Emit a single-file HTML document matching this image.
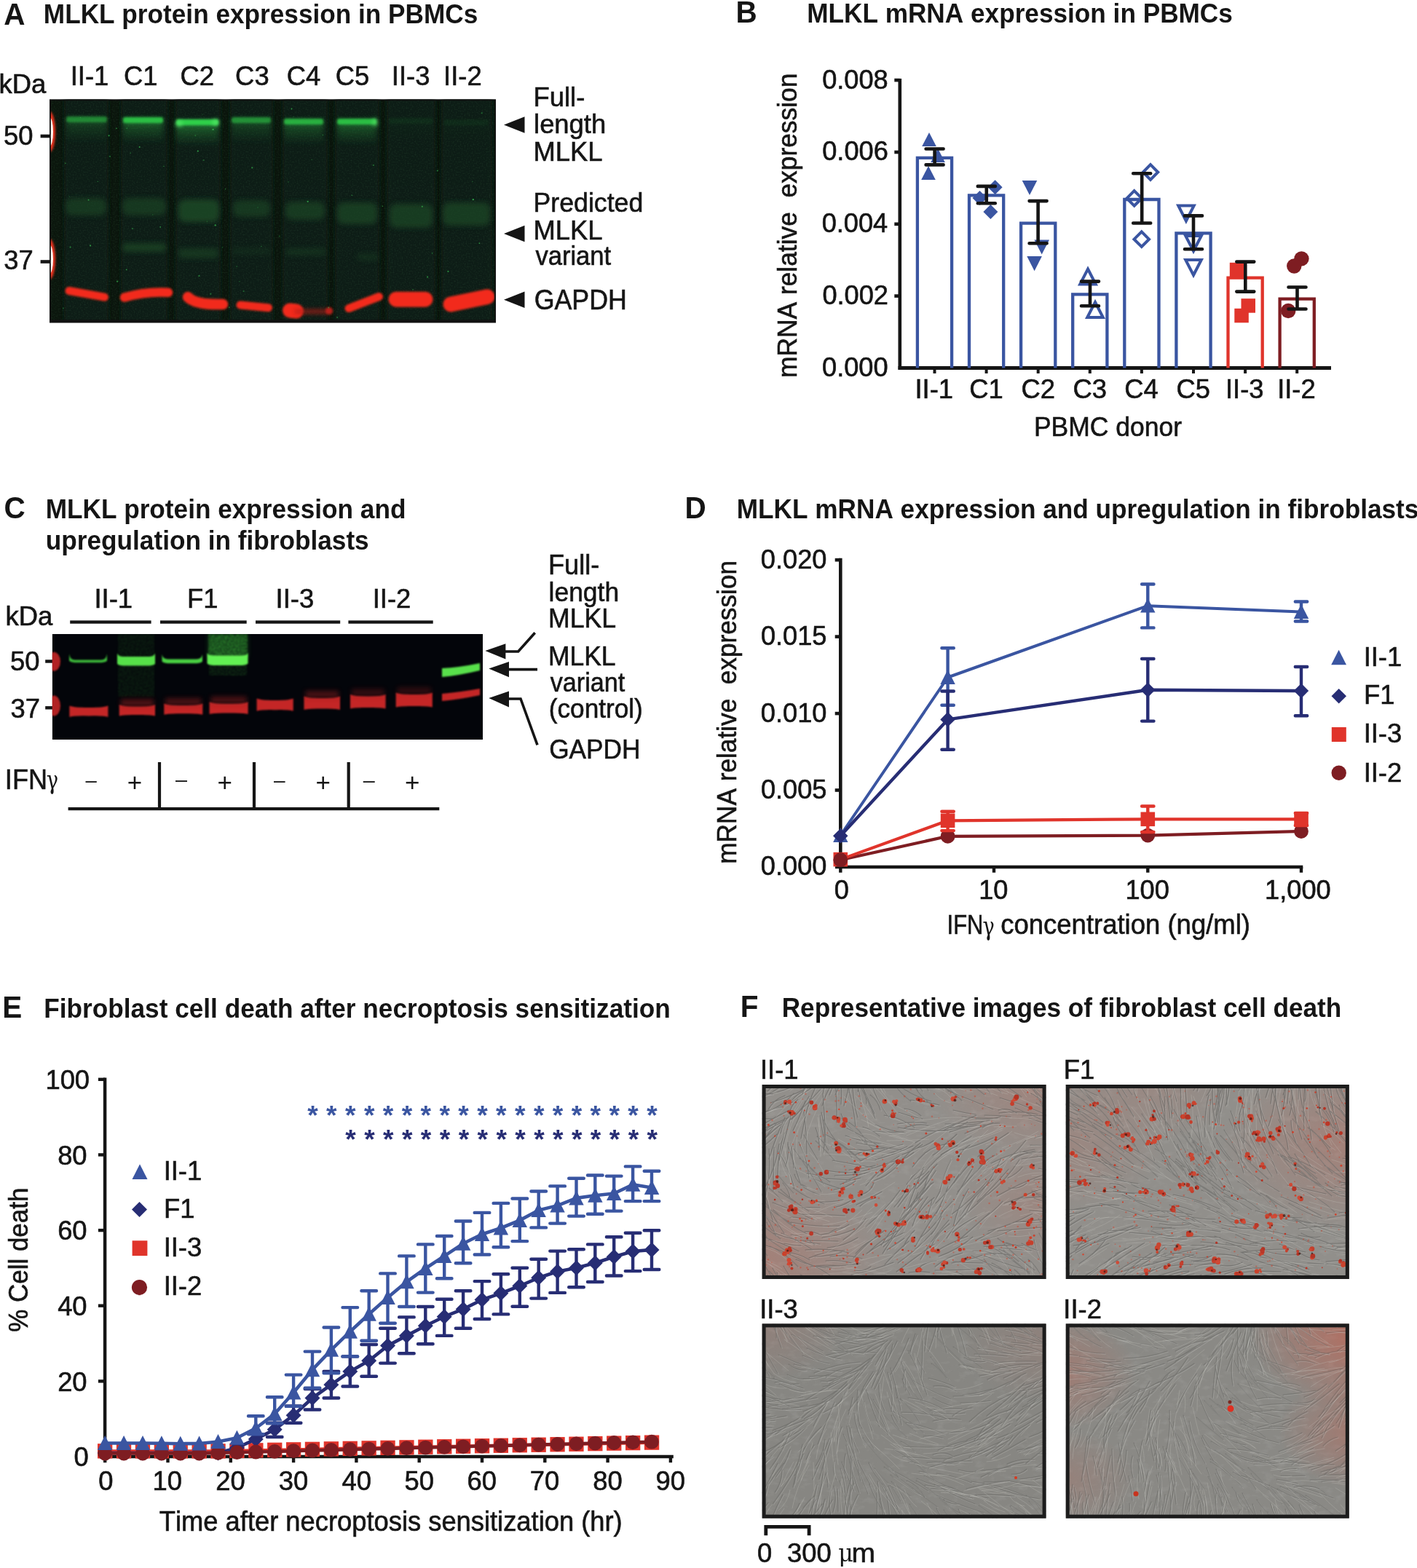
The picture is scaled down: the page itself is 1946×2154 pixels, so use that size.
<!DOCTYPE html>
<html><head><meta charset="utf-8"><title>MLKL figure</title>
<style>html,body{margin:0;padding:0;background:#fff;overflow:hidden}svg{display:block}text{font-kerning:none}</style>
</head><body>
<svg width="1946" height="2154" viewBox="0 0 1946 2154" font-family="'Liberation Sans', Arial, Helvetica, sans-serif"><defs>
<filter id="blurA" filterUnits="userSpaceOnUse" x="40" y="100" width="680" height="380"><feGaussianBlur stdDeviation="3.6"/></filter>
<filter id="blurA2" filterUnits="userSpaceOnUse" x="40" y="100" width="680" height="380"><feGaussianBlur stdDeviation="6"/></filter>
<filter id="blurA3" filterUnits="userSpaceOnUse" x="40" y="100" width="680" height="380"><feGaussianBlur stdDeviation="2.6"/></filter>
<filter id="blurR" filterUnits="userSpaceOnUse" x="40" y="100" width="680" height="380"><feGaussianBlur stdDeviation="1.4"/></filter>
<filter id="noiseA" x="0" y="0" width="100%" height="100%">
  <feTurbulence type="fractalNoise" baseFrequency="0.5" numOctaves="2" seed="3" result="n"/>
  <feColorMatrix in="n" type="matrix" values="0 0 0 0 0.07  0 0 0 0 0.2  0 0 0 0 0.09  0 0 0 0.9 -0.4" result="c"/>
  <feComposite in="c" in2="SourceGraphic" operator="in"/>
</filter>
<linearGradient id="gsmear" x1="0" y1="0" x2="0" y2="1"><stop offset="0" stop-color="#2fb446" stop-opacity="0.75"/><stop offset="0.3" stop-color="#2fb446" stop-opacity="0.35"/><stop offset="1" stop-color="#2fb446" stop-opacity="0"/></linearGradient>
<clipPath id="clipA"><rect x="68" y="136.5" width="613" height="306.5"/></clipPath>

<filter id="blurC" filterUnits="userSpaceOnUse" x="40" y="840" width="660" height="210"><feGaussianBlur stdDeviation="1.2"/></filter>
<filter id="blurC2" filterUnits="userSpaceOnUse" x="40" y="840" width="660" height="210"><feGaussianBlur stdDeviation="3"/></filter>
<filter id="speckC" filterUnits="userSpaceOnUse" x="40" y="840" width="660" height="210">
  <feTurbulence type="fractalNoise" baseFrequency="0.6" numOctaves="1" seed="5" result="n"/>
  <feColorMatrix in="n" type="matrix" values="0 0 0 0 0  0 0 0 0 0  0 0 0 0 0  2.2 0 0 0 -0.75" result="a"/>
  <feComposite in="SourceGraphic" in2="a" operator="in" result="s"/>
  <feGaussianBlur in="s" stdDeviation="0.9"/>
</filter>
<clipPath id="clipC"><rect x="71.7" y="871" width="591.3" height="145"/></clipPath>
<clipPath id="clipF1"><rect x="1046.6" y="1490.0" width="390.0" height="267.0"/></clipPath><filter id="texF1" filterUnits="userSpaceOnUse" x="1047" y="1490" width="390" height="267">
  <feTurbulence type="fractalNoise" baseFrequency="0.06 0.12" numOctaves="3" seed="11" result="n"/>
  <feColorMatrix in="n" type="matrix" values="0 0 0 0 0.5  0 0 0 0 0.5  0 0 0 0 0.49  1.4 0 0 0 -0.7" result="c"/>
  <feComposite in="c" in2="SourceGraphic" operator="in"/>
</filter><radialGradient id="tg1_0" cx="0.000" cy="0.900" r="0.450"><stop offset="0" stop-color="#d8553f" stop-opacity="0.25"/><stop offset="1" stop-color="#d8553f" stop-opacity="0"/></radialGradient><radialGradient id="tg1_1" cx="1.000" cy="0.000" r="0.400"><stop offset="0" stop-color="#d8553f" stop-opacity="0.20"/><stop offset="1" stop-color="#d8553f" stop-opacity="0"/></radialGradient><radialGradient id="tg1_2" cx="1.000" cy="0.600" r="0.300"><stop offset="0" stop-color="#d8553f" stop-opacity="0.15"/><stop offset="1" stop-color="#d8553f" stop-opacity="0"/></radialGradient><clipPath id="clipF2"><rect x="1463.7" y="1490.0" width="389.1" height="267.0"/></clipPath><filter id="texF2" filterUnits="userSpaceOnUse" x="1464" y="1490" width="389" height="267">
  <feTurbulence type="fractalNoise" baseFrequency="0.06 0.12" numOctaves="3" seed="22" result="n"/>
  <feColorMatrix in="n" type="matrix" values="0 0 0 0 0.5  0 0 0 0 0.5  0 0 0 0 0.49  1.4 0 0 0 -0.7" result="c"/>
  <feComposite in="c" in2="SourceGraphic" operator="in"/>
</filter><radialGradient id="tg2_0" cx="1.000" cy="0.300" r="0.450"><stop offset="0" stop-color="#d8553f" stop-opacity="0.25"/><stop offset="1" stop-color="#d8553f" stop-opacity="0"/></radialGradient><radialGradient id="tg2_1" cx="0.000" cy="0.300" r="0.350"><stop offset="0" stop-color="#d8553f" stop-opacity="0.15"/><stop offset="1" stop-color="#d8553f" stop-opacity="0"/></radialGradient><radialGradient id="tg2_2" cx="0.300" cy="0.000" r="0.300"><stop offset="0" stop-color="#d8553f" stop-opacity="0.12"/><stop offset="1" stop-color="#d8553f" stop-opacity="0"/></radialGradient><clipPath id="clipF3"><rect x="1046.6" y="1818.4" width="390.0" height="267.3"/></clipPath><filter id="texF3" filterUnits="userSpaceOnUse" x="1047" y="1818" width="390" height="267">
  <feTurbulence type="fractalNoise" baseFrequency="0.06 0.12" numOctaves="3" seed="33" result="n"/>
  <feColorMatrix in="n" type="matrix" values="0 0 0 0 0.5  0 0 0 0 0.5  0 0 0 0 0.49  1.4 0 0 0 -0.7" result="c"/>
  <feComposite in="c" in2="SourceGraphic" operator="in"/>
</filter><radialGradient id="tg3_0" cx="0.000" cy="0.000" r="0.300"><stop offset="0" stop-color="#d8553f" stop-opacity="0.12"/><stop offset="1" stop-color="#d8553f" stop-opacity="0"/></radialGradient><radialGradient id="tg3_1" cx="1.000" cy="0.100" r="0.300"><stop offset="0" stop-color="#d8553f" stop-opacity="0.10"/><stop offset="1" stop-color="#d8553f" stop-opacity="0"/></radialGradient><clipPath id="clipF4"><rect x="1463.7" y="1818.4" width="389.1" height="267.3"/></clipPath><filter id="texF4" filterUnits="userSpaceOnUse" x="1464" y="1818" width="389" height="267">
  <feTurbulence type="fractalNoise" baseFrequency="0.06 0.12" numOctaves="3" seed="44" result="n"/>
  <feColorMatrix in="n" type="matrix" values="0 0 0 0 0.5  0 0 0 0 0.5  0 0 0 0 0.49  1.4 0 0 0 -0.7" result="c"/>
  <feComposite in="c" in2="SourceGraphic" operator="in"/>
</filter><radialGradient id="tg4_0" cx="1.050" cy="0.050" r="0.400"><stop offset="0" stop-color="#d8553f" stop-opacity="0.55"/><stop offset="1" stop-color="#d8553f" stop-opacity="0"/></radialGradient><radialGradient id="tg4_1" cx="1.050" cy="0.550" r="0.300"><stop offset="0" stop-color="#d8553f" stop-opacity="0.35"/><stop offset="1" stop-color="#d8553f" stop-opacity="0"/></radialGradient><radialGradient id="tg4_2" cx="-0.050" cy="0.250" r="0.300"><stop offset="0" stop-color="#d8553f" stop-opacity="0.30"/><stop offset="1" stop-color="#d8553f" stop-opacity="0"/></radialGradient><radialGradient id="tg4_3" cx="0.000" cy="0.800" r="0.250"><stop offset="0" stop-color="#d8553f" stop-opacity="0.15"/><stop offset="1" stop-color="#d8553f" stop-opacity="0"/></radialGradient></defs><rect width="1946" height="2154" fill="#fff"/><text transform="translate(5.29 33.90) scale(1.0000 1.0400)" font-size="40.50" font-weight="bold" fill="#151515">A</text>
<text transform="translate(59.85 31.60) scale(1.0000 1.0400)" font-size="35.20" font-weight="bold" fill="#151515">MLKL protein expression in PBMCs</text>
<text transform="translate(96.66 117.30) scale(1.0000 1.0400)" font-size="36.40" fill="#151515" stroke="#151515" stroke-width="0.6">II-1</text>
<text transform="translate(169.95 117.30) scale(1.0000 1.0400)" font-size="36.40" fill="#151515" stroke="#151515" stroke-width="0.6">C1</text>
<text transform="translate(247.43 117.30) scale(1.0000 1.0400)" font-size="36.40" fill="#151515" stroke="#151515" stroke-width="0.6">C2</text>
<text transform="translate(323.11 117.30) scale(1.0000 1.0400)" font-size="36.40" fill="#151515" stroke="#151515" stroke-width="0.6">C3</text>
<text transform="translate(393.84 117.30) scale(1.0000 1.0400)" font-size="36.40" fill="#151515" stroke="#151515" stroke-width="0.6">C4</text>
<text transform="translate(460.67 117.30) scale(1.0000 1.0400)" font-size="36.40" fill="#151515" stroke="#151515" stroke-width="0.6">C5</text>
<text transform="translate(537.82 117.30) scale(1.0000 1.0400)" font-size="36.40" fill="#151515" stroke="#151515" stroke-width="0.6">II-3</text>
<text transform="translate(609.04 117.30) scale(1.0000 1.0400)" font-size="36.40" fill="#151515" stroke="#151515" stroke-width="0.6">II-2</text>
<text transform="translate(-1.45 128.30) scale(1.0000 1.0400)" font-size="36.40" fill="#151515" stroke="#151515" stroke-width="0.6">kDa</text>
<text transform="translate(4.93 198.80) scale(1.0000 1.0400)" font-size="36.40" fill="#151515" stroke="#151515" stroke-width="0.6">50</text>
<text transform="translate(5.34 370.20) scale(1.0000 1.0400)" font-size="36.40" fill="#151515" stroke="#151515" stroke-width="0.6">37</text>
<rect x="55.6" y="184.7" width="13" height="4.6" fill="#151515"/>
<rect x="55.6" y="357.2" width="13" height="4.6" fill="#151515"/>
<text transform="translate(732.51 146.30) scale(1.0000 1.0400)" font-size="36.40" fill="#151515" stroke="#151515" stroke-width="0.6">Full-</text>
<text transform="translate(733.05 182.60) scale(1.0000 1.0400)" font-size="36.40" fill="#151515" stroke="#151515" stroke-width="0.6">length</text>
<text transform="translate(732.51 220.50) scale(1.0000 1.0400)" font-size="36.40" fill="#151515" stroke="#151515" stroke-width="0.6">MLKL</text>
<text transform="translate(732.57 291.40) scale(0.9802 1.0400)" font-size="36.40" fill="#151515" stroke="#151515" stroke-width="0.6">Predicted</text>
<text transform="translate(732.51 329.30) scale(1.0000 1.0400)" font-size="36.40" fill="#151515" stroke="#151515" stroke-width="0.6">MLKL</text>
<text transform="translate(735.38 364.20) scale(0.9507 1.0400)" font-size="36.40" fill="#151515" stroke="#151515" stroke-width="0.6">variant</text>
<text transform="translate(733.70 424.60) scale(0.9828 1.0400)" font-size="36.40" fill="#151515" stroke="#151515" stroke-width="0.6">GAPDH</text>
<polygon points="692,171.5 720.5,160.3 720.5,182.7" fill="#151515"/>
<polygon points="692,321.0 720.5,309.8 720.5,332.2" fill="#151515"/>
<polygon points="692,411.7 720.5,400.5 720.5,422.9" fill="#151515"/>
<g clip-path="url(#clipA)">
<rect x="68" y="136.5" width="613" height="306.5" fill="#0b160d"/>
<rect x="88.0" y="126.5" width="61.0" height="326.5" fill="#101d14" filter="url(#blurA)"/>
<rect x="166.0" y="126.5" width="64.0" height="326.5" fill="#101d14" filter="url(#blurA)"/>
<rect x="241.0" y="126.5" width="62.0" height="326.5" fill="#101d14" filter="url(#blurA)"/>
<rect x="316.0" y="126.5" width="59.0" height="326.5" fill="#101d14" filter="url(#blurA)"/>
<rect x="388.0" y="126.5" width="62.0" height="326.5" fill="#101d14" filter="url(#blurA)"/>
<rect x="460.0" y="126.5" width="61.0" height="326.5" fill="#101d14" filter="url(#blurA)"/>
<rect x="531.0" y="126.5" width="67.0" height="326.5" fill="#101d14" filter="url(#blurA)"/>
<rect x="606.0" y="126.5" width="70.0" height="326.5" fill="#101d14" filter="url(#blurA)"/>
<rect x="68" y="136.5" width="613" height="306.5" fill="#000" filter="url(#noiseA)" opacity="0.45"/>
<rect x="90.0" y="272.0" width="56.0" height="24.0" rx="9" fill="#1c4a26" opacity="0.60" filter="url(#blurA)"/>
<rect x="168.0" y="272.0" width="60.0" height="24.0" rx="9" fill="#1c4a26" opacity="0.60" filter="url(#blurA)"/>
<rect x="245.0" y="274.0" width="56.0" height="31.0" rx="9" fill="#1c4a26" opacity="0.85" filter="url(#blurA)"/>
<rect x="320.0" y="275.0" width="51.0" height="23.0" rx="9" fill="#1c4a26" opacity="0.60" filter="url(#blurA)"/>
<rect x="392.0" y="277.0" width="54.0" height="25.0" rx="9" fill="#1c4a26" opacity="0.65" filter="url(#blurA)"/>
<rect x="463.0" y="278.0" width="55.0" height="30.0" rx="9" fill="#1c4a26" opacity="0.70" filter="url(#blurA)"/>
<rect x="535.0" y="280.0" width="59.0" height="33.0" rx="9" fill="#1c4a26" opacity="0.70" filter="url(#blurA)"/>
<rect x="608.0" y="278.0" width="65.0" height="32.0" rx="9" fill="#1c4a26" opacity="0.70" filter="url(#blurA)"/>
<rect x="168.0" y="334.0" width="60.0" height="12.0" rx="5" fill="#1c4a26" opacity="0.70" filter="url(#blurA)"/>
<rect x="245.0" y="341.0" width="55.0" height="14.0" rx="5" fill="#1c4a26" opacity="0.55" filter="url(#blurA)"/>
<rect x="392.0" y="341.0" width="56.0" height="10.0" rx="5" fill="#1c4a26" opacity="0.40" filter="url(#blurA)"/>
<rect x="490.0" y="348.0" width="30.0" height="10.0" rx="5" fill="#1c4a26" opacity="0.35" filter="url(#blurA)"/>
<rect x="318.0" y="340.0" width="54.0" height="10.0" rx="5" fill="#1c4a26" opacity="0.25" filter="url(#blurA)"/>
<rect x="91.0" y="162.0" width="56.0" height="34.0" fill="url(#gsmear)" opacity="0.50" filter="url(#blurA)"/>
<rect x="91.0" y="160.0" width="56.0" height="8" rx="3" fill="#2fd04a" opacity="0.50" filter="url(#blurR)"/>
<rect x="169.0" y="163.0" width="55.0" height="34.0" fill="url(#gsmear)" opacity="0.85" filter="url(#blurA)"/>
<rect x="169.0" y="161.0" width="55.0" height="8" rx="3" fill="#2fd04a" opacity="0.85" filter="url(#blurR)"/>
<rect x="242.0" y="166.0" width="58.0" height="34.0" fill="url(#gsmear)" opacity="1.00" filter="url(#blurA)"/>
<rect x="242.0" y="164.0" width="58.0" height="8" rx="3" fill="#2fd04a" opacity="1.00" filter="url(#blurR)"/>
<rect x="318.0" y="163.0" width="54.0" height="34.0" fill="url(#gsmear)" opacity="0.55" filter="url(#blurA)"/>
<rect x="318.0" y="161.0" width="54.0" height="8" rx="3" fill="#2fd04a" opacity="0.55" filter="url(#blurR)"/>
<rect x="390.0" y="165.0" width="54.0" height="34.0" fill="url(#gsmear)" opacity="0.75" filter="url(#blurA)"/>
<rect x="390.0" y="163.0" width="54.0" height="8" rx="3" fill="#2fd04a" opacity="0.75" filter="url(#blurR)"/>
<rect x="463.0" y="165.0" width="54.0" height="34.0" fill="url(#gsmear)" opacity="0.85" filter="url(#blurA)"/>
<rect x="463.0" y="163.0" width="54.0" height="8" rx="3" fill="#2fd04a" opacity="0.85" filter="url(#blurR)"/>
<rect x="534.0" y="164.0" width="61.0" height="34.0" fill="url(#gsmear)" opacity="0.06" filter="url(#blurA)"/>
<rect x="534.0" y="162.0" width="61.0" height="8" rx="3" fill="#2fd04a" opacity="0.06" filter="url(#blurR)"/>
<rect x="609.0" y="166.0" width="62.0" height="34.0" fill="url(#gsmear)" opacity="0.05" filter="url(#blurA)"/>
<rect x="609.0" y="164.0" width="62.0" height="8" rx="3" fill="#2fd04a" opacity="0.05" filter="url(#blurR)"/>
<ellipse cx="246" cy="170" rx="5" ry="5" fill="#5ef070" opacity="0.55" filter="url(#blurA3)"/>
<ellipse cx="296" cy="168" rx="5" ry="5" fill="#5ef070" opacity="0.55" filter="url(#blurA3)"/>
<ellipse cx="515" cy="168" rx="4" ry="6" fill="#5ef070" opacity="0.5" filter="url(#blurA3)"/>
<path d="M95.0 399.5L143.5 408.2" stroke="#f22a1a" stroke-width="11.0" stroke-linecap="round" fill="none" filter="url(#blurR)"/>
<path d="M171.0 408.6Q200.0 400.0 231.0 401.8" stroke="#f22a1a" stroke-width="12.5" stroke-linecap="round" fill="none" filter="url(#blurR)"/>
<path d="M258.0 408.0Q268.0 419.0 306.0 418.0" stroke="#f22a1a" stroke-width="14.5" stroke-linecap="round" fill="none" filter="url(#blurR)"/>
<path d="M330.0 419.0L368.5 422.7" stroke="#f22a1a" stroke-width="11.0" stroke-linecap="round" fill="none" filter="url(#blurR)"/>
<path d="M398.0 426.5L407.0 427.5" stroke="#f22a1a" stroke-width="20.0" stroke-linecap="round" fill="none" filter="url(#blurR)"/>
<path d="M479.0 423.6L520.5 407.5" stroke="#f22a1a" stroke-width="11.0" stroke-linecap="round" fill="none" filter="url(#blurR)"/>
<path d="M544.0 411.2L584.0 411.2" stroke="#f22a1a" stroke-width="21.0" stroke-linecap="round" fill="none" filter="url(#blurR)"/>
<path d="M619.0 418.0L669.0 407.7" stroke="#f22a1a" stroke-width="21.0" stroke-linecap="round" fill="none" filter="url(#blurR)"/>
<path d="M408 428L452 428" stroke="#b01a12" stroke-width="8" stroke-linecap="round" opacity="0.55" filter="url(#blurA3)"/>
<circle cx="452" cy="427" r="5" fill="#d0221a" opacity="0.8" filter="url(#blurR)"/>
<ellipse cx="68" cy="181" rx="8" ry="28" fill="#e8301e" filter="url(#blurR)"/>
<ellipse cx="68" cy="181" rx="5" ry="20" fill="#fff8f2"/>
<ellipse cx="68" cy="356" rx="8" ry="28" fill="#e8301e" filter="url(#blurR)"/>
<ellipse cx="68" cy="356" rx="5" ry="20" fill="#fff8f2"/>
<circle cx="268.3" cy="186.2" r="1.0" fill="#3fd35a" opacity="0.33"/>
<circle cx="396.1" cy="249.9" r="0.6" fill="#3fd35a" opacity="0.50"/>
<circle cx="95.6" cy="270.1" r="0.6" fill="#3fd35a" opacity="0.34"/>
<circle cx="329.0" cy="386.7" r="0.7" fill="#3fd35a" opacity="0.39"/>
<circle cx="451.3" cy="422.5" r="0.9" fill="#3fd35a" opacity="0.46"/>
<circle cx="661.7" cy="155.3" r="1.1" fill="#3fd35a" opacity="0.42"/>
<circle cx="160.0" cy="176.4" r="0.8" fill="#3fd35a" opacity="0.63"/>
<circle cx="182.0" cy="313.9" r="1.0" fill="#3fd35a" opacity="0.45"/>
<circle cx="403.3" cy="160.1" r="0.6" fill="#3fd35a" opacity="0.38"/>
<circle cx="483.3" cy="268.3" r="0.8" fill="#3fd35a" opacity="0.53"/>
<circle cx="346.3" cy="230.4" r="1.1" fill="#3fd35a" opacity="0.58"/>
<circle cx="220.2" cy="311.8" r="0.9" fill="#3fd35a" opacity="0.65"/>
<circle cx="512.9" cy="226.9" r="1.2" fill="#3fd35a" opacity="0.35"/>
<circle cx="325.1" cy="366.0" r="0.7" fill="#3fd35a" opacity="0.50"/>
<circle cx="96.6" cy="339.6" r="1.1" fill="#3fd35a" opacity="0.53"/>
<circle cx="600.9" cy="234.5" r="1.0" fill="#3fd35a" opacity="0.54"/>
<circle cx="422.7" cy="276.8" r="1.1" fill="#3fd35a" opacity="0.68"/>
<circle cx="358.9" cy="338.4" r="0.6" fill="#3fd35a" opacity="0.58"/>
<circle cx="463.2" cy="436.0" r="1.1" fill="#3fd35a" opacity="0.41"/>
<circle cx="305.6" cy="339.8" r="0.6" fill="#3fd35a" opacity="0.48"/>
<circle cx="174.3" cy="176.2" r="0.6" fill="#3fd35a" opacity="0.61"/>
<circle cx="151.0" cy="214.9" r="0.8" fill="#3fd35a" opacity="0.65"/>
<circle cx="121.6" cy="274.7" r="0.9" fill="#3fd35a" opacity="0.65"/>
<circle cx="567.0" cy="397.7" r="0.8" fill="#3fd35a" opacity="0.47"/>
<circle cx="289.3" cy="403.7" r="1.2" fill="#3fd35a" opacity="0.36"/>
<circle cx="179.3" cy="210.3" r="0.7" fill="#3fd35a" opacity="0.49"/>
<circle cx="428.2" cy="219.4" r="0.6" fill="#3fd35a" opacity="0.47"/>
<circle cx="295.7" cy="309.4" r="1.2" fill="#3fd35a" opacity="0.58"/>
<circle cx="383.8" cy="324.6" r="1.0" fill="#3fd35a" opacity="0.32"/>
<circle cx="615.4" cy="372.8" r="1.1" fill="#3fd35a" opacity="0.62"/>
<circle cx="309.6" cy="259.8" r="0.7" fill="#3fd35a" opacity="0.55"/>
<circle cx="110.5" cy="161.5" r="0.7" fill="#3fd35a" opacity="0.36"/>
<circle cx="278.1" cy="157.1" r="0.6" fill="#3fd35a" opacity="0.36"/>
<circle cx="134.2" cy="249.3" r="0.6" fill="#3fd35a" opacity="0.65"/>
<circle cx="443.3" cy="185.5" r="0.8" fill="#3fd35a" opacity="0.44"/>
<circle cx="292.6" cy="177.9" r="1.1" fill="#3fd35a" opacity="0.70"/>
<circle cx="354.0" cy="285.0" r="0.7" fill="#3fd35a" opacity="0.34"/>
<circle cx="279.6" cy="220.0" r="1.1" fill="#3fd35a" opacity="0.36"/>
<circle cx="86.9" cy="423.5" r="0.9" fill="#3fd35a" opacity="0.36"/>
<circle cx="400.5" cy="149.5" r="0.9" fill="#3fd35a" opacity="0.69"/>
<circle cx="593.6" cy="347.9" r="0.8" fill="#3fd35a" opacity="0.45"/>
<circle cx="173.7" cy="370.4" r="0.9" fill="#3fd35a" opacity="0.61"/>
<circle cx="271.8" cy="207.6" r="1.1" fill="#3fd35a" opacity="0.69"/>
<circle cx="587.1" cy="380.5" r="1.1" fill="#3fd35a" opacity="0.60"/>
<circle cx="209.7" cy="295.0" r="0.8" fill="#3fd35a" opacity="0.31"/>
<circle cx="89.8" cy="224.3" r="0.8" fill="#3fd35a" opacity="0.58"/>
<circle cx="649.8" cy="274.1" r="1.2" fill="#3fd35a" opacity="0.70"/>
<circle cx="648.9" cy="249.6" r="0.7" fill="#3fd35a" opacity="0.39"/>
<circle cx="191.6" cy="202.1" r="1.0" fill="#3fd35a" opacity="0.66"/>
<circle cx="579.8" cy="283.7" r="1.0" fill="#3fd35a" opacity="0.62"/>
<circle cx="124.1" cy="337.4" r="1.1" fill="#3fd35a" opacity="0.61"/>
<circle cx="525.3" cy="283.2" r="0.7" fill="#3fd35a" opacity="0.62"/>
<circle cx="273.5" cy="378.9" r="1.2" fill="#3fd35a" opacity="0.46"/>
<circle cx="315.0" cy="422.2" r="1.0" fill="#3fd35a" opacity="0.37"/>
<circle cx="149.6" cy="186.3" r="1.1" fill="#3fd35a" opacity="0.62"/>
<circle cx="161.1" cy="386.6" r="1.2" fill="#3fd35a" opacity="0.56"/>
<circle cx="284.3" cy="304.2" r="0.7" fill="#3fd35a" opacity="0.31"/>
<circle cx="658.4" cy="334.1" r="0.9" fill="#3fd35a" opacity="0.67"/>
<circle cx="334.6" cy="400.0" r="1.1" fill="#3fd35a" opacity="0.38"/>
<circle cx="224.9" cy="228.4" r="0.7" fill="#3fd35a" opacity="0.53"/>
</g>
<rect x="68.9" y="137.4" width="611.2" height="304.7" fill="none" stroke="#111" stroke-width="1.8"/>
<rect x="68" y="439.3" width="613" height="4.2" fill="#111"/>
<text transform="translate(1010.49 30.60) scale(1.0000 1.0400)" font-size="40.50" font-weight="bold" fill="#151515">B</text>
<text transform="translate(1108.15 30.60) scale(1.0000 1.0400)" font-size="35.20" font-weight="bold" fill="#151515">MLKL mRNA expression in PBMCs</text>
<path d="M1235.8 108.0V507.8" stroke="#151515" stroke-width="4.6" fill="none"/>
<path d="M1233.5 505.5H1828.0" stroke="#151515" stroke-width="4.8" fill="none"/>
<text transform="translate(1129.03 516.90) scale(1.0000 1.0400)" font-size="36.20" fill="#151515" stroke="#151515" stroke-width="0.6">0.000</text>
<path d="M1228.3 406.6H1235.8" stroke="#151515" stroke-width="4.6"/>
<text transform="translate(1129.43 418.05) scale(1.0000 1.0400)" font-size="36.20" fill="#151515" stroke="#151515" stroke-width="0.6">0.002</text>
<path d="M1228.3 307.8H1235.8" stroke="#151515" stroke-width="4.6"/>
<text transform="translate(1128.67 319.20) scale(1.0000 1.0400)" font-size="36.20" fill="#151515" stroke="#151515" stroke-width="0.6">0.004</text>
<path d="M1228.3 209.0H1235.8" stroke="#151515" stroke-width="4.6"/>
<text transform="translate(1129.20 220.35) scale(1.0000 1.0400)" font-size="36.20" fill="#151515" stroke="#151515" stroke-width="0.6">0.006</text>
<path d="M1228.3 110.1H1235.8" stroke="#151515" stroke-width="4.6"/>
<text transform="translate(1129.18 121.50) scale(1.0000 1.0400)" font-size="36.20" fill="#151515" stroke="#151515" stroke-width="0.6">0.008</text>
<path d="M1259.9 505.5V216.8H1307.1V505.5" fill="none" stroke="#3a55a1" stroke-width="4.3"/>
<path d="M1331.0 505.5V268.4H1378.2V505.5" fill="none" stroke="#3a55a1" stroke-width="4.3"/>
<path d="M1402.1 505.5V306.6H1449.3V505.5" fill="none" stroke="#3a55a1" stroke-width="4.3"/>
<path d="M1473.2 505.5V404.4H1520.4V505.5" fill="none" stroke="#3a55a1" stroke-width="4.3"/>
<path d="M1544.3 505.5V274.0H1591.5V505.5" fill="none" stroke="#3a55a1" stroke-width="4.3"/>
<path d="M1615.4 505.5V320.4H1662.6V505.5" fill="none" stroke="#3a55a1" stroke-width="4.3"/>
<path d="M1686.5 505.5V381.6H1733.7V505.5" fill="none" stroke="#e0342b" stroke-width="4.3"/>
<path d="M1757.6 505.5V410.6H1804.8V505.5" fill="none" stroke="#7e1d22" stroke-width="4.3"/>
<path d="M1283.5 505.5V513.0" stroke="#151515" stroke-width="4"/>
<path d="M1354.6 505.5V513.0" stroke="#151515" stroke-width="4"/>
<path d="M1425.7 505.5V513.0" stroke="#151515" stroke-width="4"/>
<path d="M1496.8 505.5V513.0" stroke="#151515" stroke-width="4"/>
<path d="M1567.9 505.5V513.0" stroke="#151515" stroke-width="4"/>
<path d="M1639.0 505.5V513.0" stroke="#151515" stroke-width="4"/>
<path d="M1710.1 505.5V513.0" stroke="#151515" stroke-width="4"/>
<path d="M1781.2 505.5V513.0" stroke="#151515" stroke-width="4"/>
<text transform="translate(1256.41 546.80) scale(1.0000 1.0400)" font-size="36.40" fill="#151515" stroke="#151515" stroke-width="0.6">II-1</text>
<text transform="translate(1331.30 546.80) scale(1.0000 1.0400)" font-size="36.40" fill="#151515" stroke="#151515" stroke-width="0.6">C1</text>
<text transform="translate(1402.43 546.80) scale(1.0000 1.0400)" font-size="36.40" fill="#151515" stroke="#151515" stroke-width="0.6">C2</text>
<text transform="translate(1473.41 546.80) scale(1.0000 1.0400)" font-size="36.40" fill="#151515" stroke="#151515" stroke-width="0.6">C3</text>
<text transform="translate(1544.24 546.80) scale(1.0000 1.0400)" font-size="36.40" fill="#151515" stroke="#151515" stroke-width="0.6">C4</text>
<text transform="translate(1615.57 546.80) scale(1.0000 1.0400)" font-size="36.40" fill="#151515" stroke="#151515" stroke-width="0.6">C5</text>
<text transform="translate(1682.92 546.80) scale(1.0000 1.0400)" font-size="36.40" fill="#151515" stroke="#151515" stroke-width="0.6">II-3</text>
<text transform="translate(1754.14 546.80) scale(1.0000 1.0400)" font-size="36.40" fill="#151515" stroke="#151515" stroke-width="0.6">II-2</text>
<text transform="translate(1419.89 599.30) scale(0.9757 1.0400)" font-size="36.40" fill="#151515" stroke="#151515" stroke-width="0.6">PBMC donor</text>
<text transform="translate(1094.20 516.60) rotate(-90) translate(-2.35 0) scale(0.9711 1.0400)" font-size="36.40" fill="#151515" stroke="#151515" stroke-width="0.6" xml:space="preserve">mRNA relative  expression</text>
<polygon points="1276.0,181.9 1285.8,201.1 1266.2,201.1" fill="#3a55a1"/>
<polygon points="1288.0,203.9 1297.8,223.1 1278.2,223.1" fill="#3a55a1"/>
<polygon points="1275.0,227.9 1284.8,247.1 1265.2,247.1" fill="#3a55a1"/>
<polygon points="1366.6,247.2 1376.6,257.2 1366.6,267.2 1356.6,257.2" fill="#3a55a1"/>
<polygon points="1345.5,262.0 1355.5,272.0 1345.5,282.0 1335.5,272.0" fill="#3a55a1"/>
<polygon points="1360.4,281.0 1370.4,291.0 1360.4,301.0 1350.4,291.0" fill="#3a55a1"/>
<polygon points="1414.0,268.1 1424.3,247.9 1403.7,247.9" fill="#3a55a1"/>
<polygon points="1430.7,349.6 1441.0,329.4 1420.4,329.4" fill="#3a55a1"/>
<polygon points="1420.6,372.3 1430.9,352.1 1410.3,352.1" fill="#3a55a1"/>
<polygon points="1494.0,369.5 1504.8,390.5 1483.2,390.5" fill="none" stroke="#3a55a1" stroke-width="4" stroke-linejoin="miter"/>
<polygon points="1504.0,415.0 1514.8,436.0 1493.2,436.0" fill="none" stroke="#3a55a1" stroke-width="4" stroke-linejoin="miter"/>
<polygon points="1580.0,226.2 1590.2,236.5 1580.0,246.8 1569.8,236.5" fill="none" stroke="#3a55a1" stroke-width="4"/>
<polygon points="1557.7,262.1 1568.0,272.4 1557.7,282.6 1547.5,272.4" fill="none" stroke="#3a55a1" stroke-width="4"/>
<polygon points="1567.8,318.4 1578.0,328.7 1567.8,338.9 1557.5,328.7" fill="none" stroke="#3a55a1" stroke-width="4"/>
<polygon points="1628.9,303.5 1639.7,282.5 1618.2,282.5" fill="none" stroke="#3a55a1" stroke-width="4"/>
<polygon points="1639.0,345.0 1649.8,324.0 1628.2,324.0" fill="none" stroke="#3a55a1" stroke-width="4"/>
<polygon points="1639.0,378.0 1649.8,357.0 1628.2,357.0" fill="none" stroke="#3a55a1" stroke-width="4"/>
<rect x="1688.8" y="360.8" width="19.5" height="19.5" fill="#e0342b"/>
<rect x="1704.5" y="410.2" width="19.5" height="19.5" fill="#e0342b"/>
<rect x="1695.3" y="423.8" width="19.5" height="19.5" fill="#e0342b"/>
<circle cx="1787.4" cy="355.4" r="10.2" fill="#7e1d22"/>
<circle cx="1777.3" cy="365.5" r="10.2" fill="#7e1d22"/>
<circle cx="1769.2" cy="427.0" r="10.2" fill="#7e1d22"/>
<path d="M1271.6 204.5H1295.6M1271.6 226.4H1295.6M1283.6 204.5V226.4" stroke="#151515" stroke-width="4.6" stroke-linecap="round" fill="none"/>
<path d="M1342.8 255.9H1366.8M1342.8 279.2H1366.8M1354.8 255.9V279.2" stroke="#151515" stroke-width="4.6" stroke-linecap="round" fill="none"/>
<path d="M1413.6 276.1H1437.6M1413.6 334.3H1437.6M1425.6 276.1V334.3" stroke="#151515" stroke-width="4.6" stroke-linecap="round" fill="none"/>
<path d="M1485.0 386.6H1509.0M1485.0 420.3H1509.0M1497.0 386.6V420.3" stroke="#151515" stroke-width="4.6" stroke-linecap="round" fill="none"/>
<path d="M1556.2 238.2H1580.2M1556.2 306.5H1580.2M1568.2 238.2V306.5" stroke="#151515" stroke-width="4.6" stroke-linecap="round" fill="none"/>
<path d="M1627.0 296.4H1651.0M1627.0 342.2H1651.0M1639.0 296.4V342.2" stroke="#151515" stroke-width="4.6" stroke-linecap="round" fill="none"/>
<path d="M1698.3 359.6H1722.3M1698.3 400.6H1722.3M1710.3 359.6V400.6" stroke="#151515" stroke-width="4.6" stroke-linecap="round" fill="none"/>
<path d="M1769.5 394.5H1793.5M1769.5 424.5H1793.5M1781.5 394.5V424.5" stroke="#151515" stroke-width="4.6" stroke-linecap="round" fill="none"/>
<text transform="translate(5.54 712.20) scale(1.0000 1.0400)" font-size="40.50" font-weight="bold" fill="#151515">C</text>
<text transform="translate(62.65 712.20) scale(1.0000 1.0400)" font-size="35.20" font-weight="bold" fill="#151515">MLKL protein expression and</text>
<text transform="translate(62.82 755.00) scale(1.0000 1.0400)" font-size="35.20" font-weight="bold" fill="#151515">upregulation in fibroblasts</text>
<text transform="translate(129.41 834.60) scale(1.0000 1.0400)" font-size="36.40" fill="#151515" stroke="#151515" stroke-width="0.6">II-1</text>
<text transform="translate(256.91 834.60) scale(1.0000 1.0400)" font-size="36.40" fill="#151515" stroke="#151515" stroke-width="0.6">F1</text>
<text transform="translate(378.57 834.60) scale(1.0000 1.0400)" font-size="36.40" fill="#151515" stroke="#151515" stroke-width="0.6">II-3</text>
<text transform="translate(511.69 834.60) scale(1.0000 1.0400)" font-size="36.40" fill="#151515" stroke="#151515" stroke-width="0.6">II-2</text>
<rect x="96.2" y="852.4" width="111.4" height="4.3" fill="#151515"/>
<rect x="220.0" y="852.4" width="118.7" height="4.3" fill="#151515"/>
<rect x="351.0" y="852.4" width="116.2" height="4.3" fill="#151515"/>
<rect x="478.4" y="852.4" width="116.3" height="4.3" fill="#151515"/>
<text transform="translate(7.55 858.60) scale(1.0000 1.0400)" font-size="36.40" fill="#151515" stroke="#151515" stroke-width="0.6">kDa</text>
<text transform="translate(14.03 920.50) scale(1.0000 1.0400)" font-size="36.40" fill="#151515" stroke="#151515" stroke-width="0.6">50</text>
<text transform="translate(14.44 986.20) scale(1.0000 1.0400)" font-size="36.40" fill="#151515" stroke="#151515" stroke-width="0.6">37</text>
<rect x="62.2" y="906.3" width="10" height="4.4" fill="#151515"/>
<rect x="62.2" y="970.1" width="10" height="4.4" fill="#151515"/>
<text transform="translate(752.93 789.40) scale(0.9944 1.0400)" font-size="36.40" fill="#151515" stroke="#151515" stroke-width="0.6">Full-</text>
<text transform="translate(753.51 825.60) scale(0.9750 1.0400)" font-size="36.40" fill="#151515" stroke="#151515" stroke-width="0.6">length</text>
<text transform="translate(752.98 861.90) scale(0.9792 1.0400)" font-size="36.40" fill="#151515" stroke="#151515" stroke-width="0.6">MLKL</text>
<text transform="translate(752.99 913.80) scale(0.9737 1.0400)" font-size="36.40" fill="#151515" stroke="#151515" stroke-width="0.6">MLKL</text>
<text transform="translate(755.78 950.00) scale(0.9388 1.0400)" font-size="36.40" fill="#151515" stroke="#151515" stroke-width="0.6">variant</text>
<text transform="translate(753.72 986.30) scale(0.9676 1.0400)" font-size="36.40" fill="#151515" stroke="#151515" stroke-width="0.6">(control)</text>
<text transform="translate(754.13 1042.30) scale(0.9683 1.0400)" font-size="36.40" fill="#151515" stroke="#151515" stroke-width="0.6">GAPDH</text>
<polygon points="666.4,894 694.4,884.2 694.4,905.6" fill="#151515"/>
<polyline points="692,895 711.7,895 734.7,869.3" fill="none" stroke="#151515" stroke-width="3.6"/>
<polygon points="671.3,918.6 699,908.9 699,930.3" fill="#151515"/>
<polyline points="697,919.6 738,919.6" fill="none" stroke="#151515" stroke-width="3.6"/>
<polygon points="671.3,959.1 699,949.6 699,971.5" fill="#151515"/>
<polyline points="697,960 715,960 738,1023.4" fill="none" stroke="#151515" stroke-width="3.6"/>
<text transform="translate(6.87 1083.50) scale(0.9903 1.0400)" font-size="36.40" fill="#151515" stroke="#151515" stroke-width="0.6">IFN</text>
<text transform="translate(63.82 1083.70) scale(0.790 1)" font-family="'DejaVu Serif', serif" font-size="34.50" fill="#151515">γ</text>
<rect x="93.6" y="1109" width="509.7" height="4.2" fill="#151515"/>
<rect x="216.9" y="1047" width="4.2" height="64" fill="#151515"/>
<rect x="346.9" y="1047" width="4.2" height="64" fill="#151515"/>
<rect x="476.6" y="1047" width="4.2" height="64" fill="#151515"/>
<text transform="translate(117.50 1080.58) scale(1.0013 1.0000)" font-size="27.50" fill="#151515">–</text>
<text transform="translate(241.00 1079.58) scale(1.0471 1.0000)" font-size="27.50" fill="#151515">–</text>
<text transform="translate(376.00 1080.98) scale(1.0209 1.0000)" font-size="27.50" fill="#151515">–</text>
<text transform="translate(498.80 1080.98) scale(1.0471 1.0000)" font-size="27.50" fill="#151515">–</text>
<text transform="translate(174.69 1086.94) scale(0.9997 1.0000)" font-size="35.00" fill="#151515">+</text>
<text transform="translate(298.59 1086.94) scale(0.9997 1.0000)" font-size="35.00" fill="#151515">+</text>
<text transform="translate(433.49 1086.94) scale(0.9997 1.0000)" font-size="35.00" fill="#151515">+</text>
<text transform="translate(555.99 1086.94) scale(0.9997 1.0000)" font-size="35.00" fill="#151515">+</text>
<g clip-path="url(#clipC)">
<rect x="71.7" y="871" width="591.3" height="145" fill="#03050a"/>
<rect x="162" y="871" width="50" height="86" fill="#3fbf3a" opacity="0.22" filter="url(#speckC)"/>
<rect x="286" y="871" width="54" height="32" fill="#48d040" opacity="0.7" filter="url(#speckC)"/>
<rect x="286" y="871" width="54" height="32" fill="#2f9a30" opacity="0.35" filter="url(#blurC2)"/>
<rect x="287" y="912" width="52" height="16" fill="#3fbf3a" opacity="0.3" filter="url(#speckC)"/>
<path d="M95.0 897.5 C96.0 905.5 99.0 906.5 105.0 906.5 L137.0 906.5 C143.0 906.5 146.0 905.5 147.0 897.5 L147.0 907.8 C145.0 909.8 141.0 910.3 135.0 910.3 L107.0 910.3 C101.0 910.3 97.0 909.8 95.0 907.8 Z" fill="#3fc23c" opacity="0.95" filter="url(#blurC)"/>
<path d="M161.0 897.0 C162.0 901.0 165.0 902.0 171.0 902.0 L203.0 902.0 C209.0 902.0 212.0 901.0 213.0 897.0 L213.0 912.0 C211.0 914.0 207.0 914.5 201.0 914.5 L173.0 914.5 C167.0 914.5 163.0 914.0 161.0 912.0 Z" fill="#56e04a" opacity="1.00" filter="url(#blurC)"/>
<path d="M222.5 898.5 C223.5 904.5 226.5 905.5 232.5 905.5 L268.0 905.5 C274.0 905.5 277.0 904.5 278.0 898.5 L278.0 908.8 C276.0 910.8 272.0 911.3 266.0 911.3 L234.5 911.3 C228.5 911.3 224.5 910.8 222.5 908.8 Z" fill="#49d042" opacity="1.00" filter="url(#blurC)"/>
<path d="M284.5 896.5 C285.5 899.5 288.5 900.5 294.5 900.5 L330.5 900.5 C336.5 900.5 339.5 899.5 340.5 896.5 L340.5 911.5 C338.5 913.5 334.5 914.0 328.5 914.0 L296.5 914.0 C290.5 914.0 286.5 913.5 284.5 911.5 Z" fill="#62f052" opacity="1.00" filter="url(#blurC)"/>
<path d="M607 918 Q630 917 659 911 L659 921 Q630 928 607 930Z" fill="#58e04c" filter="url(#blurC)"/>
<path d="M95.4 969.5 Q100.4 972.0 121.9 972.0 Q143.4 972.0 148.4 969.5 L148.4 984.9 Q143.4 982.9 121.9 983.4 Q100.4 982.9 95.4 984.9Z" fill="#c42828" filter="url(#blurC)"/>
<path d="M163.8 968.0 Q168.8 970.5 188.4 970.5 Q208.0 970.5 213.0 968.0 L213.0 983.5 Q208.0 981.5 188.4 982.0 Q168.8 981.5 163.8 983.5Z" fill="#c42828" filter="url(#blurC)"/>
<rect x="165.8" y="960.5" width="45.2" height="10" fill="#8a1c1c" opacity="0.55" filter="url(#blurC2)"/>
<path d="M225.3 966.5 Q230.3 969.0 251.8 969.0 Q273.3 969.0 278.3 966.5 L278.3 981.8 Q273.3 979.8 251.8 980.3 Q230.3 979.8 225.3 981.8Z" fill="#c42828" filter="url(#blurC)"/>
<rect x="227.3" y="959.0" width="49.0" height="10" fill="#8a1c1c" opacity="0.50" filter="url(#blurC2)"/>
<path d="M287.6 964.2 Q292.6 966.7 314.1 966.7 Q335.6 966.7 340.6 964.2 L340.6 981.0 Q335.6 979.0 314.1 979.5 Q292.6 979.0 287.6 981.0Z" fill="#c42828" filter="url(#blurC)"/>
<rect x="289.6" y="956.7" width="49.0" height="10" fill="#8a1c1c" opacity="0.50" filter="url(#blurC2)"/>
<path d="M352.6 959.5 Q357.6 962.0 377.6 962.0 Q397.7 962.0 402.7 959.5 L402.7 976.7 Q397.7 974.7 377.6 975.2 Q357.6 974.7 352.6 976.7Z" fill="#c42828" filter="url(#blurC)"/>
<path d="M417.5 956.5 Q422.5 959.0 442.2 959.0 Q462.0 959.0 467.0 956.5 L467.0 975.1 Q462.0 973.1 442.2 973.6 Q422.5 973.1 417.5 975.1Z" fill="#c42828" filter="url(#blurC)"/>
<rect x="419.5" y="949.0" width="45.5" height="10" fill="#8a1c1c" opacity="0.50" filter="url(#blurC2)"/>
<path d="M481.0 954.0 Q486.0 956.5 505.3 956.5 Q524.6 956.5 529.6 954.0 L529.6 973.5 Q524.6 971.5 505.3 972.0 Q486.0 971.5 481.0 973.5Z" fill="#c42828" filter="url(#blurC)"/>
<rect x="483.0" y="946.5" width="44.6" height="10" fill="#8a1c1c" opacity="0.35" filter="url(#blurC2)"/>
<path d="M543.7 951.5 Q548.7 954.0 568.8 954.0 Q588.8 954.0 593.8 951.5 L593.8 971.5 Q588.8 969.5 568.8 970.0 Q548.7 969.5 543.7 971.5Z" fill="#c42828" filter="url(#blurC)"/>
<rect x="545.7" y="944.0" width="46.1" height="10" fill="#8a1c1c" opacity="0.30" filter="url(#blurC2)"/>
<path d="M607 953 Q630 951 659 946 L659 955 Q630 961 607 963Z" fill="#c42828" filter="url(#blurC)"/>
<ellipse cx="74" cy="908.8" rx="9" ry="13" fill="#c52828" opacity="0.9" filter="url(#blurC)"/>
<ellipse cx="74" cy="969.5" rx="9" ry="14" fill="#c52828" opacity="0.9" filter="url(#blurC)"/>
</g>
<text transform="translate(940.59 712.20) scale(1.0000 1.0400)" font-size="40.50" font-weight="bold" fill="#151515">D</text>
<text transform="translate(1011.75 711.90) scale(1.0000 1.0400)" font-size="35.20" font-weight="bold" fill="#151515">MLKL mRNA expression and upregulation in fibroblasts</text>
<path d="M1154.3 766.8V1191.0" stroke="#151515" stroke-width="4.6" fill="none"/>
<path d="M1147 1191.0H1789.3" stroke="#151515" stroke-width="4.6" fill="none"/>
<text transform="translate(1044.83 1202.40) scale(1.0000 1.0400)" font-size="36.20" fill="#151515" stroke="#151515" stroke-width="0.6">0.000</text>
<path d="M1146.7 1085.5H1154.3" stroke="#151515" stroke-width="4.6"/>
<text transform="translate(1044.93 1096.95) scale(1.0000 1.0400)" font-size="36.20" fill="#151515" stroke="#151515" stroke-width="0.6">0.005</text>
<path d="M1146.7 980.1H1154.3" stroke="#151515" stroke-width="4.6"/>
<text transform="translate(1044.83 991.50) scale(1.0000 1.0400)" font-size="36.20" fill="#151515" stroke="#151515" stroke-width="0.6">0.010</text>
<path d="M1146.7 874.6H1154.3" stroke="#151515" stroke-width="4.6"/>
<text transform="translate(1044.93 886.05) scale(1.0000 1.0400)" font-size="36.20" fill="#151515" stroke="#151515" stroke-width="0.6">0.015</text>
<path d="M1146.7 769.2H1154.3" stroke="#151515" stroke-width="4.6"/>
<text transform="translate(1044.83 780.60) scale(1.0000 1.0400)" font-size="36.20" fill="#151515" stroke="#151515" stroke-width="0.6">0.020</text>
<path d="M1154.3 1191.0V1198.7" stroke="#151515" stroke-width="4.4"/>
<path d="M1365.0 1191.0V1198.7" stroke="#151515" stroke-width="4.4"/>
<path d="M1576.3 1191.0V1198.7" stroke="#151515" stroke-width="4.4"/>
<path d="M1787.0 1191.0V1198.7" stroke="#151515" stroke-width="4.4"/>
<text transform="translate(1145.63 1234.60) scale(1.0000 1.0400)" font-size="36.20" fill="#151515" stroke="#151515" stroke-width="0.6">0</text>
<text transform="translate(1344.20 1234.60) scale(1.0000 1.0400)" font-size="36.20" fill="#151515" stroke="#151515" stroke-width="0.6">10</text>
<text transform="translate(1545.43 1234.60) scale(1.0000 1.0400)" font-size="36.20" fill="#151515" stroke="#151515" stroke-width="0.6">100</text>
<text transform="translate(1737.04 1234.60) scale(1.0010 1.0400)" font-size="36.20" fill="#151515" stroke="#151515" stroke-width="0.6">1,000</text>
<text transform="translate(1300.55 1283.40) scale(0.8488 1.0400)" font-size="36.40" fill="#151515" stroke="#151515" stroke-width="0.6">IFN</text>
<text transform="translate(1349.42 1284.60) scale(0.790 1)" font-family="'DejaVu Serif', serif" font-size="34.50" fill="#151515">γ</text>
<text transform="translate(1374.25 1283.40) scale(1.0026 1.0400)" font-size="36.40" fill="#151515" stroke="#151515" stroke-width="0.6">concentration (ng/ml)</text>
<text transform="translate(1011.40 1184.40) rotate(-90) translate(-2.34 0) scale(0.9678 1.0400)" font-size="36.40" fill="#151515" stroke="#151515" stroke-width="0.6" xml:space="preserve">mRNA relative  expression</text>
<polyline points="1154.3,1181.2 1301.6,1148.8 1576.3,1147.6 1787.0,1142.0" fill="none" stroke="#7e1d22" stroke-width="4.2" stroke-linejoin="round"/>
<circle cx="1301.6" cy="1148.8" r="9.9" fill="#7e1d22"/>
<circle cx="1576.3" cy="1147.6" r="9.9" fill="#7e1d22"/>
<circle cx="1787.0" cy="1142.0" r="9.9" fill="#7e1d22"/>
<polyline points="1154.3,1180.6 1301.6,1127.3 1576.3,1125.3 1787.0,1125.3" fill="none" stroke="#e0342b" stroke-width="4.2" stroke-linejoin="round"/>
<path d="M1293.4 1114.7H1309.8M1293.4 1141.1H1309.8M1301.6 1114.7V1141.1" stroke="#e0342b" stroke-width="4.4" stroke-linecap="round" fill="none"/>
<path d="M1568.1 1107.5H1584.5M1568.1 1143.0H1584.5M1576.3 1107.5V1143.0" stroke="#e0342b" stroke-width="4.4" stroke-linecap="round" fill="none"/>
<path d="M1778.8 1117.0H1795.2M1778.8 1134.0H1795.2M1787.0 1117.0V1134.0" stroke="#e0342b" stroke-width="4.4" stroke-linecap="round" fill="none"/>
<rect x="1144.5" y="1170.8" width="19.6" height="19.6" fill="#e0342b"/>
<rect x="1291.8" y="1117.5" width="19.6" height="19.6" fill="#e0342b"/>
<rect x="1566.5" y="1115.5" width="19.6" height="19.6" fill="#e0342b"/>
<rect x="1777.2" y="1115.5" width="19.6" height="19.6" fill="#e0342b"/>
<circle cx="1154.3" cy="1181.2" r="9.9" fill="#7e1d22"/>
<polyline points="1154.3,1147.5 1301.6,930.5 1576.3,832.2 1787.0,840.5" fill="none" stroke="#3a55a1" stroke-width="4.0" stroke-linejoin="round"/>
<path d="M1293.4 890.2H1309.8M1293.4 968.8H1309.8M1301.6 890.2V968.8" stroke="#3a55a1" stroke-width="4.4" stroke-linecap="round" fill="none"/>
<path d="M1568.1 802.5H1584.5M1568.1 862.4H1584.5M1576.3 802.5V862.4" stroke="#3a55a1" stroke-width="4.4" stroke-linecap="round" fill="none"/>
<path d="M1778.8 826.5H1795.2M1778.8 853.5H1795.2M1787.0 826.5V853.5" stroke="#3a55a1" stroke-width="4.4" stroke-linecap="round" fill="none"/>
<polygon points="1154.3,1137.1 1164.5,1156.9 1144.1,1156.9" fill="#3a55a1"/>
<polygon points="1301.6,920.1 1311.8,939.9 1291.4,939.9" fill="#3a55a1"/>
<polygon points="1576.3,821.8 1586.5,841.6 1566.1,841.6" fill="#3a55a1"/>
<polygon points="1787.0,830.1 1797.2,849.9 1776.8,849.9" fill="#3a55a1"/>
<polyline points="1154.3,1148.2 1301.6,988.4 1576.3,947.8 1787.0,949.0" fill="none" stroke="#272d74" stroke-width="4.4" stroke-linejoin="round"/>
<path d="M1293.4 949.5H1309.8M1293.4 1029.8H1309.8M1301.6 949.5V1029.8" stroke="#272d74" stroke-width="4.4" stroke-linecap="round" fill="none"/>
<path d="M1568.1 905.0H1584.5M1568.1 990.6H1584.5M1576.3 905.0V990.6" stroke="#272d74" stroke-width="4.4" stroke-linecap="round" fill="none"/>
<path d="M1778.8 916.0H1795.2M1778.8 983.3H1795.2M1787.0 916.0V983.3" stroke="#272d74" stroke-width="4.4" stroke-linecap="round" fill="none"/>
<polygon points="1154.3,1138.0 1164.5,1148.2 1154.3,1158.5 1144.0,1148.2" fill="#272d74"/>
<polygon points="1301.6,978.1 1311.8,988.4 1301.6,998.6 1291.3,988.4" fill="#272d74"/>
<polygon points="1576.3,937.5 1586.5,947.8 1576.3,958.0 1566.0,947.8" fill="#272d74"/>
<polygon points="1787.0,938.8 1797.2,949.0 1787.0,959.2 1776.8,949.0" fill="#272d74"/>
<polygon points="1838.6,892.8 1849.0,913.2 1828.2,913.2" fill="#3a55a1"/>
<polygon points="1838.7,946.0 1849.0,956.3 1838.7,966.5 1828.5,956.3" fill="#272d74"/>
<rect x="1828.8" y="999.0" width="20.0" height="20.0" fill="#e0342b"/>
<circle cx="1838.7" cy="1061.7" r="10.2" fill="#7e1d22"/>
<text transform="translate(1872.64 915.00) scale(1.0000 1.0400)" font-size="36.40" fill="#151515" stroke="#151515" stroke-width="0.6">II-1</text>
<text transform="translate(1873.01 966.90) scale(1.0000 1.0400)" font-size="36.40" fill="#151515" stroke="#151515" stroke-width="0.6">F1</text>
<text transform="translate(1872.64 1019.60) scale(1.0000 1.0400)" font-size="36.40" fill="#151515" stroke="#151515" stroke-width="0.6">II-3</text>
<text transform="translate(1872.64 1073.50) scale(1.0000 1.0400)" font-size="36.40" fill="#151515" stroke="#151515" stroke-width="0.6">II-2</text>
<text transform="translate(3.29 1397.70) scale(1.0000 1.0400)" font-size="40.50" font-weight="bold" fill="#151515">E</text>
<text transform="translate(60.25 1397.70) scale(1.0000 1.0400)" font-size="35.20" font-weight="bold" fill="#151515">Fibroblast cell death after necroptosis sensitization</text>
<path d="M144.1 1480.6V2001.0" stroke="#151515" stroke-width="4.5" fill="none"/>
<path d="M141.9 2001.0H924.8" stroke="#151515" stroke-width="4.6" fill="none"/>
<text transform="translate(101.48 2014.20) scale(1.0000 1.0400)" font-size="36.40" fill="#151515" stroke="#151515" stroke-width="0.6">0</text>
<path d="M134.9 1897.4H144.1" stroke="#151515" stroke-width="4.4"/>
<text transform="translate(79.13 1910.56) scale(1.0000 1.0400)" font-size="36.40" fill="#151515" stroke="#151515" stroke-width="0.6">20</text>
<path d="M134.9 1793.7H144.1" stroke="#151515" stroke-width="4.4"/>
<text transform="translate(79.13 1806.92) scale(1.0000 1.0400)" font-size="36.40" fill="#151515" stroke="#151515" stroke-width="0.6">40</text>
<path d="M134.9 1690.1H144.1" stroke="#151515" stroke-width="4.4"/>
<text transform="translate(79.13 1703.28) scale(1.0000 1.0400)" font-size="36.40" fill="#151515" stroke="#151515" stroke-width="0.6">60</text>
<path d="M134.9 1586.4H144.1" stroke="#151515" stroke-width="4.4"/>
<text transform="translate(79.13 1599.64) scale(1.0000 1.0400)" font-size="36.40" fill="#151515" stroke="#151515" stroke-width="0.6">80</text>
<path d="M134.9 1482.8H144.1" stroke="#151515" stroke-width="4.4"/>
<text transform="translate(62.39 1496.00) scale(1.0000 1.0400)" font-size="36.40" fill="#151515" stroke="#151515" stroke-width="0.6">100</text>
<path d="M144.2 2001.0V2009.2" stroke="#151515" stroke-width="4.4"/>
<text transform="translate(135.28 2047.30) scale(1.0000 1.0400)" font-size="36.40" fill="#151515" stroke="#151515" stroke-width="0.6">0</text>
<path d="M230.5 2001.0V2009.2" stroke="#151515" stroke-width="4.4"/>
<text transform="translate(209.58 2047.30) scale(1.0000 1.0400)" font-size="36.40" fill="#151515" stroke="#151515" stroke-width="0.6">10</text>
<path d="M316.8 2001.0V2009.2" stroke="#151515" stroke-width="4.4"/>
<text transform="translate(296.35 2047.30) scale(1.0000 1.0400)" font-size="36.40" fill="#151515" stroke="#151515" stroke-width="0.6">20</text>
<path d="M403.1 2001.0V2009.2" stroke="#151515" stroke-width="4.4"/>
<text transform="translate(382.87 2047.30) scale(1.0000 1.0400)" font-size="36.40" fill="#151515" stroke="#151515" stroke-width="0.6">30</text>
<path d="M489.4 2001.0V2009.2" stroke="#151515" stroke-width="4.4"/>
<text transform="translate(469.45 2047.30) scale(1.0000 1.0400)" font-size="36.40" fill="#151515" stroke="#151515" stroke-width="0.6">40</text>
<path d="M575.7 2001.0V2009.2" stroke="#151515" stroke-width="4.4"/>
<text transform="translate(555.44 2047.30) scale(1.0000 1.0400)" font-size="36.40" fill="#151515" stroke="#151515" stroke-width="0.6">50</text>
<path d="M662.0 2001.0V2009.2" stroke="#151515" stroke-width="4.4"/>
<text transform="translate(641.54 2047.30) scale(1.0000 1.0400)" font-size="36.40" fill="#151515" stroke="#151515" stroke-width="0.6">60</text>
<path d="M748.3 2001.0V2009.2" stroke="#151515" stroke-width="4.4"/>
<text transform="translate(727.83 2047.30) scale(1.0000 1.0400)" font-size="36.40" fill="#151515" stroke="#151515" stroke-width="0.6">70</text>
<path d="M834.6 2001.0V2009.2" stroke="#151515" stroke-width="4.4"/>
<text transform="translate(814.28 2047.30) scale(1.0000 1.0400)" font-size="36.40" fill="#151515" stroke="#151515" stroke-width="0.6">80</text>
<path d="M920.9 2001.0V2009.2" stroke="#151515" stroke-width="4.4"/>
<text transform="translate(900.51 2047.30) scale(1.0000 1.0400)" font-size="36.40" fill="#151515" stroke="#151515" stroke-width="0.6">90</text>
<text transform="translate(218.78 2102.70) scale(0.9982 1.0400)" font-size="36.40" fill="#151515" stroke="#151515" stroke-width="0.6">Time after necroptosis sensitization (hr)</text>
<text transform="translate(38.30 1828.40) rotate(-90) translate(-1.24 0) scale(0.9594 1.0400)" font-size="36.40" fill="#151515" stroke="#151515" stroke-width="0.6" xml:space="preserve">% Cell death</text>
<polyline points="144.2,1993.4 170.1,1993.4 196.0,1993.4 221.9,1993.4 247.8,1993.4 273.6,1993.4 299.5,1993.4 325.4,1992.9 351.3,1992.4 377.2,1991.9 403.1,1991.4 429.0,1990.9 454.9,1990.3 480.8,1989.8 506.7,1989.3 532.5,1988.8 558.4,1988.3 584.3,1987.8 610.2,1987.3 636.1,1986.8 662.0,1986.3 687.9,1985.8 713.8,1985.2 739.7,1984.7 765.6,1984.2 791.5,1983.7 817.3,1983.2 843.2,1982.7 869.1,1982.2 895.0,1981.7" fill="none" stroke="#e0342b" stroke-width="4.5" stroke-linejoin="round"/>
<rect x="134.0" y="1983.2" width="20.3" height="20.3" fill="#e0342b"/>
<rect x="159.9" y="1983.2" width="20.3" height="20.3" fill="#e0342b"/>
<rect x="185.8" y="1983.2" width="20.3" height="20.3" fill="#e0342b"/>
<rect x="211.7" y="1983.2" width="20.3" height="20.3" fill="#e0342b"/>
<rect x="237.6" y="1983.2" width="20.3" height="20.3" fill="#e0342b"/>
<rect x="263.5" y="1983.2" width="20.3" height="20.3" fill="#e0342b"/>
<rect x="289.4" y="1983.2" width="20.3" height="20.3" fill="#e0342b"/>
<rect x="315.3" y="1982.7" width="20.3" height="20.3" fill="#e0342b"/>
<rect x="341.2" y="1982.2" width="20.3" height="20.3" fill="#e0342b"/>
<rect x="367.1" y="1981.7" width="20.3" height="20.3" fill="#e0342b"/>
<rect x="393.0" y="1981.2" width="20.3" height="20.3" fill="#e0342b"/>
<rect x="418.8" y="1980.7" width="20.3" height="20.3" fill="#e0342b"/>
<rect x="444.7" y="1980.2" width="20.3" height="20.3" fill="#e0342b"/>
<rect x="470.6" y="1979.7" width="20.3" height="20.3" fill="#e0342b"/>
<rect x="496.5" y="1979.2" width="20.3" height="20.3" fill="#e0342b"/>
<rect x="522.4" y="1978.7" width="20.3" height="20.3" fill="#e0342b"/>
<rect x="548.3" y="1978.2" width="20.3" height="20.3" fill="#e0342b"/>
<rect x="574.2" y="1977.6" width="20.3" height="20.3" fill="#e0342b"/>
<rect x="600.1" y="1977.1" width="20.3" height="20.3" fill="#e0342b"/>
<rect x="626.0" y="1976.6" width="20.3" height="20.3" fill="#e0342b"/>
<rect x="651.9" y="1976.1" width="20.3" height="20.3" fill="#e0342b"/>
<rect x="677.7" y="1975.6" width="20.3" height="20.3" fill="#e0342b"/>
<rect x="703.6" y="1975.1" width="20.3" height="20.3" fill="#e0342b"/>
<rect x="729.5" y="1974.6" width="20.3" height="20.3" fill="#e0342b"/>
<rect x="755.4" y="1974.1" width="20.3" height="20.3" fill="#e0342b"/>
<rect x="781.3" y="1973.6" width="20.3" height="20.3" fill="#e0342b"/>
<rect x="807.2" y="1973.0" width="20.3" height="20.3" fill="#e0342b"/>
<rect x="833.1" y="1972.5" width="20.3" height="20.3" fill="#e0342b"/>
<rect x="859.0" y="1972.0" width="20.3" height="20.3" fill="#e0342b"/>
<rect x="884.9" y="1971.5" width="20.3" height="20.3" fill="#e0342b"/>
<polyline points="144.2,1996.0 170.1,1996.0 196.0,1996.0 221.9,1996.0 247.8,1996.0 273.6,1996.0 299.5,1996.0 325.4,1989.0 351.3,1976.9 377.2,1963.7 403.1,1944.2 429.0,1920.5 454.9,1902.2 480.8,1884.0 506.7,1869.2 532.5,1848.6 558.4,1834.9 584.3,1821.2 610.2,1808.7 636.1,1798.4 662.0,1785.5 687.9,1776.6 713.8,1766.5 739.7,1755.3 765.6,1746.7 791.5,1741.8 817.3,1735.0 843.2,1726.5 869.1,1719.0 895.0,1716.9" fill="none" stroke="#272d74" stroke-width="4.6" stroke-linejoin="round"/>
<path d="M366.9 1954.6H387.5M366.9 1974.0H387.5M377.2 1954.6V1974.0" stroke="#272d74" stroke-width="4.4" stroke-linecap="round" fill="none"/>
<path d="M392.8 1931.5H413.4M392.8 1954.7H413.4M403.1 1931.5V1954.7" stroke="#272d74" stroke-width="4.4" stroke-linecap="round" fill="none"/>
<path d="M418.7 1908.0H439.3M418.7 1936.5H439.3M429.0 1908.0V1936.5" stroke="#272d74" stroke-width="4.4" stroke-linecap="round" fill="none"/>
<path d="M444.6 1884.0H465.2M444.6 1920.5H465.2M454.9 1884.0V1920.5" stroke="#272d74" stroke-width="4.4" stroke-linecap="round" fill="none"/>
<path d="M470.5 1863.4H491.1M470.5 1904.5H491.1M480.8 1863.4V1904.5" stroke="#272d74" stroke-width="4.4" stroke-linecap="round" fill="none"/>
<path d="M496.4 1847.0H517.0M496.4 1890.8H517.0M506.7 1847.0V1890.8" stroke="#272d74" stroke-width="4.4" stroke-linecap="round" fill="none"/>
<path d="M522.2 1824.7H542.8M522.2 1872.6H542.8M532.5 1824.7V1872.6" stroke="#272d74" stroke-width="4.4" stroke-linecap="round" fill="none"/>
<path d="M548.1 1809.4H568.7M548.1 1859.3H568.7M558.4 1809.4V1859.3" stroke="#272d74" stroke-width="4.4" stroke-linecap="round" fill="none"/>
<path d="M574.0 1795.0H594.6M574.0 1846.3H594.6M584.3 1795.0V1846.3" stroke="#272d74" stroke-width="4.4" stroke-linecap="round" fill="none"/>
<path d="M599.9 1784.7H620.5M599.9 1834.9H620.5M610.2 1784.7V1834.9" stroke="#272d74" stroke-width="4.4" stroke-linecap="round" fill="none"/>
<path d="M625.8 1773.3H646.4M625.8 1824.7H646.4M636.1 1773.3V1824.7" stroke="#272d74" stroke-width="4.4" stroke-linecap="round" fill="none"/>
<path d="M651.7 1760.1H672.3M651.7 1812.0H672.3M662.0 1760.1V1812.0" stroke="#272d74" stroke-width="4.4" stroke-linecap="round" fill="none"/>
<path d="M677.6 1750.3H698.2M677.6 1805.4H698.2M687.9 1750.3V1805.4" stroke="#272d74" stroke-width="4.4" stroke-linecap="round" fill="none"/>
<path d="M703.5 1741.8H724.1M703.5 1794.7H724.1M713.8 1741.8V1794.7" stroke="#272d74" stroke-width="4.4" stroke-linecap="round" fill="none"/>
<path d="M729.4 1729.7H750.0M729.4 1783.6H750.0M739.7 1729.7V1783.6" stroke="#272d74" stroke-width="4.4" stroke-linecap="round" fill="none"/>
<path d="M755.3 1718.6H775.9M755.3 1775.9H775.9M765.6 1718.6V1775.9" stroke="#272d74" stroke-width="4.4" stroke-linecap="round" fill="none"/>
<path d="M781.2 1716.2H801.8M781.2 1768.3H801.8M791.5 1716.2V1768.3" stroke="#272d74" stroke-width="4.4" stroke-linecap="round" fill="none"/>
<path d="M807.0 1709.4H827.6M807.0 1761.0H827.6M817.3 1709.4V1761.0" stroke="#272d74" stroke-width="4.4" stroke-linecap="round" fill="none"/>
<path d="M832.9 1699.2H853.5M832.9 1752.5H853.5M843.2 1699.2V1752.5" stroke="#272d74" stroke-width="4.4" stroke-linecap="round" fill="none"/>
<path d="M858.8 1693.8H879.4M858.8 1746.1H879.4M869.1 1693.8V1746.1" stroke="#272d74" stroke-width="4.4" stroke-linecap="round" fill="none"/>
<path d="M884.7 1690.2H905.3M884.7 1744.0H905.3M895.0 1690.2V1744.0" stroke="#272d74" stroke-width="4.4" stroke-linecap="round" fill="none"/>
<polygon points="144.2,1985.5 154.7,1996.0 144.2,2006.5 133.7,1996.0" fill="#272d74"/>
<polygon points="170.1,1985.5 180.6,1996.0 170.1,2006.5 159.6,1996.0" fill="#272d74"/>
<polygon points="196.0,1985.5 206.5,1996.0 196.0,2006.5 185.5,1996.0" fill="#272d74"/>
<polygon points="221.9,1985.5 232.4,1996.0 221.9,2006.5 211.4,1996.0" fill="#272d74"/>
<polygon points="247.8,1985.5 258.3,1996.0 247.8,2006.5 237.3,1996.0" fill="#272d74"/>
<polygon points="273.6,1985.5 284.1,1996.0 273.6,2006.5 263.1,1996.0" fill="#272d74"/>
<polygon points="299.5,1985.5 310.0,1996.0 299.5,2006.5 289.0,1996.0" fill="#272d74"/>
<polygon points="325.4,1978.5 335.9,1989.0 325.4,1999.5 314.9,1989.0" fill="#272d74"/>
<polygon points="351.3,1966.4 361.8,1976.9 351.3,1987.4 340.8,1976.9" fill="#272d74"/>
<polygon points="377.2,1953.2 387.7,1963.7 377.2,1974.2 366.7,1963.7" fill="#272d74"/>
<polygon points="403.1,1933.7 413.6,1944.2 403.1,1954.7 392.6,1944.2" fill="#272d74"/>
<polygon points="429.0,1910.0 439.5,1920.5 429.0,1931.0 418.5,1920.5" fill="#272d74"/>
<polygon points="454.9,1891.7 465.4,1902.2 454.9,1912.7 444.4,1902.2" fill="#272d74"/>
<polygon points="480.8,1873.5 491.3,1884.0 480.8,1894.5 470.3,1884.0" fill="#272d74"/>
<polygon points="506.7,1858.7 517.2,1869.2 506.7,1879.7 496.2,1869.2" fill="#272d74"/>
<polygon points="532.5,1838.1 543.0,1848.6 532.5,1859.1 522.0,1848.6" fill="#272d74"/>
<polygon points="558.4,1824.4 568.9,1834.9 558.4,1845.4 547.9,1834.9" fill="#272d74"/>
<polygon points="584.3,1810.7 594.8,1821.2 584.3,1831.7 573.8,1821.2" fill="#272d74"/>
<polygon points="610.2,1798.2 620.7,1808.7 610.2,1819.2 599.7,1808.7" fill="#272d74"/>
<polygon points="636.1,1787.9 646.6,1798.4 636.1,1808.9 625.6,1798.4" fill="#272d74"/>
<polygon points="662.0,1775.0 672.5,1785.5 662.0,1796.0 651.5,1785.5" fill="#272d74"/>
<polygon points="687.9,1766.1 698.4,1776.6 687.9,1787.1 677.4,1776.6" fill="#272d74"/>
<polygon points="713.8,1756.0 724.3,1766.5 713.8,1777.0 703.3,1766.5" fill="#272d74"/>
<polygon points="739.7,1744.8 750.2,1755.3 739.7,1765.8 729.2,1755.3" fill="#272d74"/>
<polygon points="765.6,1736.2 776.1,1746.7 765.6,1757.2 755.1,1746.7" fill="#272d74"/>
<polygon points="791.5,1731.3 802.0,1741.8 791.5,1752.3 781.0,1741.8" fill="#272d74"/>
<polygon points="817.3,1724.5 827.8,1735.0 817.3,1745.5 806.8,1735.0" fill="#272d74"/>
<polygon points="843.2,1716.0 853.7,1726.5 843.2,1737.0 832.7,1726.5" fill="#272d74"/>
<polygon points="869.1,1708.5 879.6,1719.0 869.1,1729.5 858.6,1719.0" fill="#272d74"/>
<polygon points="895.0,1706.4 905.5,1716.9 895.0,1727.4 884.5,1716.9" fill="#272d74"/>
<polyline points="144.2,1996.5 170.1,1996.5 196.0,1996.5 221.9,1996.5 247.8,1996.5 273.6,1996.5 299.5,1995.8 325.4,1995.2 351.3,1994.5 377.2,1993.9 403.1,1993.2 429.0,1992.5 454.9,1991.9 480.8,1991.2 506.7,1990.6 532.5,1989.9 558.4,1989.2 584.3,1988.6 610.2,1987.9 636.1,1987.3 662.0,1986.6 687.9,1985.9 713.8,1985.3 739.7,1984.6 765.6,1984.0 791.5,1983.3 817.3,1982.6 843.2,1982.0 869.1,1981.3 895.0,1980.7" fill="none" stroke="#7e1d22" stroke-width="4.5" stroke-linejoin="round"/>
<circle cx="144.2" cy="1996.5" r="9.9" fill="#7e1d22"/>
<circle cx="170.1" cy="1996.5" r="9.9" fill="#7e1d22"/>
<circle cx="196.0" cy="1996.5" r="9.9" fill="#7e1d22"/>
<circle cx="221.9" cy="1996.5" r="9.9" fill="#7e1d22"/>
<circle cx="247.8" cy="1996.5" r="9.9" fill="#7e1d22"/>
<circle cx="273.6" cy="1996.5" r="9.9" fill="#7e1d22"/>
<circle cx="299.5" cy="1995.8" r="9.9" fill="#7e1d22"/>
<circle cx="325.4" cy="1995.2" r="9.9" fill="#7e1d22"/>
<circle cx="351.3" cy="1994.5" r="9.9" fill="#7e1d22"/>
<circle cx="377.2" cy="1993.9" r="9.9" fill="#7e1d22"/>
<circle cx="403.1" cy="1993.2" r="9.9" fill="#7e1d22"/>
<circle cx="429.0" cy="1992.5" r="9.9" fill="#7e1d22"/>
<circle cx="454.9" cy="1991.9" r="9.9" fill="#7e1d22"/>
<circle cx="480.8" cy="1991.2" r="9.9" fill="#7e1d22"/>
<circle cx="506.7" cy="1990.6" r="9.9" fill="#7e1d22"/>
<circle cx="532.5" cy="1989.9" r="9.9" fill="#7e1d22"/>
<circle cx="558.4" cy="1989.2" r="9.9" fill="#7e1d22"/>
<circle cx="584.3" cy="1988.6" r="9.9" fill="#7e1d22"/>
<circle cx="610.2" cy="1987.9" r="9.9" fill="#7e1d22"/>
<circle cx="636.1" cy="1987.3" r="9.9" fill="#7e1d22"/>
<circle cx="662.0" cy="1986.6" r="9.9" fill="#7e1d22"/>
<circle cx="687.9" cy="1985.9" r="9.9" fill="#7e1d22"/>
<circle cx="713.8" cy="1985.3" r="9.9" fill="#7e1d22"/>
<circle cx="739.7" cy="1984.6" r="9.9" fill="#7e1d22"/>
<circle cx="765.6" cy="1984.0" r="9.9" fill="#7e1d22"/>
<circle cx="791.5" cy="1983.3" r="9.9" fill="#7e1d22"/>
<circle cx="817.3" cy="1982.6" r="9.9" fill="#7e1d22"/>
<circle cx="843.2" cy="1982.0" r="9.9" fill="#7e1d22"/>
<circle cx="869.1" cy="1981.3" r="9.9" fill="#7e1d22"/>
<circle cx="895.0" cy="1980.7" r="9.9" fill="#7e1d22"/>
<polyline points="144.2,1982.5 170.1,1982.5 196.0,1982.5 221.9,1982.8 247.8,1983.2 273.6,1983.0 299.5,1980.5 325.4,1975.2 351.3,1962.0 377.2,1942.3 403.1,1913.0 429.0,1881.7 454.9,1854.3 480.8,1829.2 506.7,1805.3 532.5,1782.4 558.4,1760.8 584.3,1742.5 610.2,1725.4 636.1,1708.3 662.0,1695.5 687.9,1687.0 713.8,1676.4 739.7,1662.5 765.6,1656.1 791.5,1645.9 817.3,1642.2 843.2,1639.5 869.1,1627.3 895.0,1631.6" fill="none" stroke="#3a55a1" stroke-width="4.6" stroke-linejoin="round"/>
<path d="M341.0 1945.2H361.6M341.0 1970.3H361.6M351.3 1945.2V1970.3" stroke="#3a55a1" stroke-width="4.4" stroke-linecap="round" fill="none"/>
<path d="M366.9 1919.2H387.5M366.9 1955.4H387.5M377.2 1919.2V1955.4" stroke="#3a55a1" stroke-width="4.4" stroke-linecap="round" fill="none"/>
<path d="M392.8 1888.6H413.4M392.8 1931.9H413.4M403.1 1888.6V1931.9" stroke="#3a55a1" stroke-width="4.4" stroke-linecap="round" fill="none"/>
<path d="M418.7 1856.6H439.3M418.7 1906.8H439.3M429.0 1856.6V1906.8" stroke="#3a55a1" stroke-width="4.4" stroke-linecap="round" fill="none"/>
<path d="M444.6 1823.5H465.2M444.6 1886.3H465.2M454.9 1823.5V1886.3" stroke="#3a55a1" stroke-width="4.4" stroke-linecap="round" fill="none"/>
<path d="M470.5 1796.1H491.1M470.5 1863.4H491.1M480.8 1796.1V1863.4" stroke="#3a55a1" stroke-width="4.4" stroke-linecap="round" fill="none"/>
<path d="M496.4 1773.3H517.0M496.4 1841.8H517.0M506.7 1773.3V1841.8" stroke="#3a55a1" stroke-width="4.4" stroke-linecap="round" fill="none"/>
<path d="M522.2 1749.4H542.8M522.2 1817.8H542.8M532.5 1749.4V1817.8" stroke="#3a55a1" stroke-width="4.4" stroke-linecap="round" fill="none"/>
<path d="M548.1 1725.4H568.7M548.1 1795.0H568.7M558.4 1725.4V1795.0" stroke="#3a55a1" stroke-width="4.4" stroke-linecap="round" fill="none"/>
<path d="M574.0 1709.4H594.6M574.0 1775.6H594.6M584.3 1709.4V1775.6" stroke="#3a55a1" stroke-width="4.4" stroke-linecap="round" fill="none"/>
<path d="M599.9 1698.0H620.5M599.9 1756.2H620.5M610.2 1698.0V1756.2" stroke="#3a55a1" stroke-width="4.4" stroke-linecap="round" fill="none"/>
<path d="M625.8 1677.5H646.4M625.8 1735.2H646.4M636.1 1677.5V1735.2" stroke="#3a55a1" stroke-width="4.4" stroke-linecap="round" fill="none"/>
<path d="M651.7 1665.9H672.3M651.7 1723.5H672.3M662.0 1665.9V1723.5" stroke="#3a55a1" stroke-width="4.4" stroke-linecap="round" fill="none"/>
<path d="M677.6 1652.9H698.2M677.6 1713.2H698.2M687.9 1652.9V1713.2" stroke="#3a55a1" stroke-width="4.4" stroke-linecap="round" fill="none"/>
<path d="M703.5 1646.5H724.1M703.5 1705.1H724.1M713.8 1646.5V1705.1" stroke="#3a55a1" stroke-width="4.4" stroke-linecap="round" fill="none"/>
<path d="M729.4 1636.5H750.0M729.4 1686.4H750.0M739.7 1636.5V1686.4" stroke="#3a55a1" stroke-width="4.4" stroke-linecap="round" fill="none"/>
<path d="M755.3 1629.4H775.9M755.3 1680.6H775.9M765.6 1629.4V1680.6" stroke="#3a55a1" stroke-width="4.4" stroke-linecap="round" fill="none"/>
<path d="M781.2 1618.8H801.8M781.2 1670.6H801.8M791.5 1618.8V1670.6" stroke="#3a55a1" stroke-width="4.4" stroke-linecap="round" fill="none"/>
<path d="M807.0 1614.5H827.6M807.0 1667.8H827.6M817.3 1614.5V1667.8" stroke="#3a55a1" stroke-width="4.4" stroke-linecap="round" fill="none"/>
<path d="M832.9 1615.6H853.5M832.9 1663.6H853.5M843.2 1615.6V1663.6" stroke="#3a55a1" stroke-width="4.4" stroke-linecap="round" fill="none"/>
<path d="M858.8 1602.4H879.4M858.8 1650.1H879.4M869.1 1602.4V1650.1" stroke="#3a55a1" stroke-width="4.4" stroke-linecap="round" fill="none"/>
<path d="M884.7 1608.8H905.3M884.7 1650.1H905.3M895.0 1608.8V1650.1" stroke="#3a55a1" stroke-width="4.4" stroke-linecap="round" fill="none"/>
<polygon points="144.2,1972.0 154.4,1992.0 133.9,1992.0" fill="#3a55a1"/>
<polygon points="170.1,1972.0 180.3,1992.0 159.8,1992.0" fill="#3a55a1"/>
<polygon points="196.0,1972.0 206.2,1992.0 185.7,1992.0" fill="#3a55a1"/>
<polygon points="221.9,1972.3 232.1,1992.3 211.6,1992.3" fill="#3a55a1"/>
<polygon points="247.8,1972.7 258.0,1992.7 237.5,1992.7" fill="#3a55a1"/>
<polygon points="273.6,1972.5 283.9,1992.5 263.4,1992.5" fill="#3a55a1"/>
<polygon points="299.5,1970.0 309.8,1990.0 289.3,1990.0" fill="#3a55a1"/>
<polygon points="325.4,1964.7 335.7,1984.7 315.2,1984.7" fill="#3a55a1"/>
<polygon points="351.3,1951.5 361.6,1971.5 341.1,1971.5" fill="#3a55a1"/>
<polygon points="377.2,1931.8 387.5,1951.8 367.0,1951.8" fill="#3a55a1"/>
<polygon points="403.1,1902.5 413.4,1922.5 392.9,1922.5" fill="#3a55a1"/>
<polygon points="429.0,1871.2 439.2,1891.2 418.7,1891.2" fill="#3a55a1"/>
<polygon points="454.9,1843.8 465.1,1863.8 444.6,1863.8" fill="#3a55a1"/>
<polygon points="480.8,1818.7 491.0,1838.7 470.5,1838.7" fill="#3a55a1"/>
<polygon points="506.7,1794.8 516.9,1814.8 496.4,1814.8" fill="#3a55a1"/>
<polygon points="532.5,1771.9 542.8,1791.9 522.3,1791.9" fill="#3a55a1"/>
<polygon points="558.4,1750.3 568.7,1770.3 548.2,1770.3" fill="#3a55a1"/>
<polygon points="584.3,1732.0 594.6,1752.0 574.1,1752.0" fill="#3a55a1"/>
<polygon points="610.2,1714.9 620.5,1734.9 600.0,1734.9" fill="#3a55a1"/>
<polygon points="636.1,1697.8 646.4,1717.8 625.9,1717.8" fill="#3a55a1"/>
<polygon points="662.0,1685.0 672.2,1705.0 651.8,1705.0" fill="#3a55a1"/>
<polygon points="687.9,1676.5 698.1,1696.5 677.6,1696.5" fill="#3a55a1"/>
<polygon points="713.8,1665.9 724.0,1685.9 703.5,1685.9" fill="#3a55a1"/>
<polygon points="739.7,1652.0 749.9,1672.0 729.4,1672.0" fill="#3a55a1"/>
<polygon points="765.6,1645.6 775.8,1665.6 755.3,1665.6" fill="#3a55a1"/>
<polygon points="791.5,1635.4 801.7,1655.4 781.2,1655.4" fill="#3a55a1"/>
<polygon points="817.3,1631.7 827.6,1651.7 807.1,1651.7" fill="#3a55a1"/>
<polygon points="843.2,1629.0 853.5,1649.0 833.0,1649.0" fill="#3a55a1"/>
<polygon points="869.1,1616.8 879.4,1636.8 858.9,1636.8" fill="#3a55a1"/>
<polygon points="895.0,1621.1 905.3,1641.1 884.8,1641.1" fill="#3a55a1"/>
<text transform="translate(422.22 1544.50) scale(1.0000 1.0000)" font-size="37.20" font-weight="bold" fill="#3a55a1">*</text>
<text transform="translate(448.11 1544.50) scale(1.0000 1.0000)" font-size="37.20" font-weight="bold" fill="#3a55a1">*</text>
<text transform="translate(474.00 1544.50) scale(1.0000 1.0000)" font-size="37.20" font-weight="bold" fill="#3a55a1">*</text>
<text transform="translate(499.89 1544.50) scale(1.0000 1.0000)" font-size="37.20" font-weight="bold" fill="#3a55a1">*</text>
<text transform="translate(525.78 1544.50) scale(1.0000 1.0000)" font-size="37.20" font-weight="bold" fill="#3a55a1">*</text>
<text transform="translate(551.67 1544.50) scale(1.0000 1.0000)" font-size="37.20" font-weight="bold" fill="#3a55a1">*</text>
<text transform="translate(577.56 1544.50) scale(1.0000 1.0000)" font-size="37.20" font-weight="bold" fill="#3a55a1">*</text>
<text transform="translate(603.45 1544.50) scale(1.0000 1.0000)" font-size="37.20" font-weight="bold" fill="#3a55a1">*</text>
<text transform="translate(629.34 1544.50) scale(1.0000 1.0000)" font-size="37.20" font-weight="bold" fill="#3a55a1">*</text>
<text transform="translate(655.23 1544.50) scale(1.0000 1.0000)" font-size="37.20" font-weight="bold" fill="#3a55a1">*</text>
<text transform="translate(681.12 1544.50) scale(1.0000 1.0000)" font-size="37.20" font-weight="bold" fill="#3a55a1">*</text>
<text transform="translate(707.01 1544.50) scale(1.0000 1.0000)" font-size="37.20" font-weight="bold" fill="#3a55a1">*</text>
<text transform="translate(732.90 1544.50) scale(1.0000 1.0000)" font-size="37.20" font-weight="bold" fill="#3a55a1">*</text>
<text transform="translate(758.79 1544.50) scale(1.0000 1.0000)" font-size="37.20" font-weight="bold" fill="#3a55a1">*</text>
<text transform="translate(784.68 1544.50) scale(1.0000 1.0000)" font-size="37.20" font-weight="bold" fill="#3a55a1">*</text>
<text transform="translate(810.57 1544.50) scale(1.0000 1.0000)" font-size="37.20" font-weight="bold" fill="#3a55a1">*</text>
<text transform="translate(836.46 1544.50) scale(1.0000 1.0000)" font-size="37.20" font-weight="bold" fill="#3a55a1">*</text>
<text transform="translate(862.35 1544.50) scale(1.0000 1.0000)" font-size="37.20" font-weight="bold" fill="#3a55a1">*</text>
<text transform="translate(888.24 1544.50) scale(1.0000 1.0000)" font-size="37.20" font-weight="bold" fill="#3a55a1">*</text>
<text transform="translate(474.30 1577.50) scale(1.0000 1.0000)" font-size="37.20" font-weight="bold" fill="#272d74">*</text>
<text transform="translate(500.19 1577.50) scale(1.0000 1.0000)" font-size="37.20" font-weight="bold" fill="#272d74">*</text>
<text transform="translate(526.08 1577.50) scale(1.0000 1.0000)" font-size="37.20" font-weight="bold" fill="#272d74">*</text>
<text transform="translate(551.97 1577.50) scale(1.0000 1.0000)" font-size="37.20" font-weight="bold" fill="#272d74">*</text>
<text transform="translate(577.86 1577.50) scale(1.0000 1.0000)" font-size="37.20" font-weight="bold" fill="#272d74">*</text>
<text transform="translate(603.75 1577.50) scale(1.0000 1.0000)" font-size="37.20" font-weight="bold" fill="#272d74">*</text>
<text transform="translate(629.64 1577.50) scale(1.0000 1.0000)" font-size="37.20" font-weight="bold" fill="#272d74">*</text>
<text transform="translate(655.53 1577.50) scale(1.0000 1.0000)" font-size="37.20" font-weight="bold" fill="#272d74">*</text>
<text transform="translate(681.42 1577.50) scale(1.0000 1.0000)" font-size="37.20" font-weight="bold" fill="#272d74">*</text>
<text transform="translate(707.31 1577.50) scale(1.0000 1.0000)" font-size="37.20" font-weight="bold" fill="#272d74">*</text>
<text transform="translate(733.20 1577.50) scale(1.0000 1.0000)" font-size="37.20" font-weight="bold" fill="#272d74">*</text>
<text transform="translate(759.09 1577.50) scale(1.0000 1.0000)" font-size="37.20" font-weight="bold" fill="#272d74">*</text>
<text transform="translate(784.98 1577.50) scale(1.0000 1.0000)" font-size="37.20" font-weight="bold" fill="#272d74">*</text>
<text transform="translate(810.87 1577.50) scale(1.0000 1.0000)" font-size="37.20" font-weight="bold" fill="#272d74">*</text>
<text transform="translate(836.76 1577.50) scale(1.0000 1.0000)" font-size="37.20" font-weight="bold" fill="#272d74">*</text>
<text transform="translate(862.65 1577.50) scale(1.0000 1.0000)" font-size="37.20" font-weight="bold" fill="#272d74">*</text>
<text transform="translate(888.54 1577.50) scale(1.0000 1.0000)" font-size="37.20" font-weight="bold" fill="#272d74">*</text>
<polygon points="192.0,1599.3 202.5,1619.9 181.5,1619.9" fill="#3a55a1"/>
<polygon points="191.5,1651.1 202.0,1661.6 191.5,1672.1 181.0,1661.6" fill="#272d74"/>
<rect x="181.6" y="1704.3" width="20.8" height="20.8" fill="#e0342b"/>
<circle cx="191.5" cy="1768.6" r="10.6" fill="#7e1d22"/>
<text transform="translate(224.64 1621.20) scale(1.0000 1.0400)" font-size="36.40" fill="#151515" stroke="#151515" stroke-width="0.6">II-1</text>
<text transform="translate(225.01 1672.80) scale(1.0000 1.0400)" font-size="36.40" fill="#151515" stroke="#151515" stroke-width="0.6">F1</text>
<text transform="translate(224.64 1725.80) scale(1.0000 1.0400)" font-size="36.40" fill="#151515" stroke="#151515" stroke-width="0.6">II-3</text>
<text transform="translate(224.64 1778.80) scale(1.0000 1.0400)" font-size="36.40" fill="#151515" stroke="#151515" stroke-width="0.6">II-2</text>
<text transform="translate(1016.79 1396.60) scale(1.0000 1.0400)" font-size="40.50" font-weight="bold" fill="#151515">F</text>
<text transform="translate(1073.65 1396.60) scale(1.0000 1.0400)" font-size="35.20" font-weight="bold" fill="#151515">Representative images of fibroblast cell death</text>
<text transform="translate(1043.94 1482.00) scale(1.0000 1.0400)" font-size="36.40" fill="#151515" stroke="#151515" stroke-width="0.6">II-1</text>
<text transform="translate(1460.81 1482.00) scale(1.0000 1.0400)" font-size="36.40" fill="#151515" stroke="#151515" stroke-width="0.6">F1</text>
<text transform="translate(1043.24 1811.00) scale(1.0000 1.0400)" font-size="36.40" fill="#151515" stroke="#151515" stroke-width="0.6">II-3</text>
<text transform="translate(1460.34 1811.00) scale(1.0000 1.0400)" font-size="36.40" fill="#151515" stroke="#151515" stroke-width="0.6">II-2</text>
<g clip-path="url(#clipF1)">
<rect x="1046.6" y="1490.0" width="390.0" height="267.0" fill="#928f8b"/>
<rect x="1046.6" y="1490.0" width="390.0" height="267.0" fill="#000" filter="url(#texF1)" opacity="0.35"/>
<rect x="1046.6" y="1490.0" width="390.0" height="267.0" fill="url(#tg1_0)"/>
<rect x="1046.6" y="1490.0" width="390.0" height="267.0" fill="url(#tg1_1)"/>
<rect x="1046.6" y="1490.0" width="390.0" height="267.0" fill="url(#tg1_2)"/>
<path d="M1078 1535Q1065 1562 1056 1592M1458 1742Q1453 1768 1440 1790M1241 1477Q1257 1484 1267 1499M1155 1530Q1160 1542 1169 1551M1361 1598Q1389 1583 1421 1579M1083 1534Q1074 1544 1072 1557M1060 1760Q1067 1776 1080 1788M1153 1468Q1157 1492 1155 1517M1127 1496Q1107 1519 1084 1539M1313 1747Q1343 1763 1376 1770M1084 1525Q1055 1539 1029 1556M1404 1533Q1421 1532 1439 1533M1427 1658Q1451 1668 1469 1685M1212 1722Q1230 1691 1256 1667M1379 1653Q1398 1647 1417 1638M1045 1638Q1059 1668 1077 1694M1033 1639Q1037 1655 1045 1670M1388 1595Q1403 1584 1422 1581M1359 1711Q1388 1728 1414 1750M1199 1554Q1220 1556 1241 1555M1140 1726Q1163 1723 1184 1729M1046 1511Q1034 1508 1023 1513M1365 1751Q1374 1764 1383 1777M1037 1601Q1034 1616 1025 1629M1401 1473Q1420 1494 1432 1520M1233 1735Q1260 1716 1282 1691M1063 1576Q1062 1605 1062 1635M1420 1621Q1433 1618 1446 1622M1129 1700Q1152 1698 1174 1688M1427 1631Q1443 1631 1459 1631M1261 1630Q1269 1621 1277 1611M1435 1731Q1442 1753 1441 1776M1362 1735Q1380 1744 1392 1758M1416 1502Q1427 1507 1433 1518M1069 1615Q1079 1627 1090 1639M1285 1653Q1304 1635 1317 1613M1148 1481Q1135 1498 1129 1519M1114 1481Q1107 1491 1102 1502M1146 1615Q1167 1615 1188 1612M1307 1735Q1329 1732 1349 1724M1309 1733Q1330 1735 1350 1735M1346 1602Q1354 1593 1366 1587M1292 1586Q1313 1574 1334 1561M1433 1650Q1453 1672 1480 1684M1278 1713Q1287 1693 1304 1681M1175 1470Q1188 1500 1201 1530M1417 1636Q1441 1648 1467 1653M1264 1730Q1280 1701 1303 1676M1091 1613Q1095 1626 1108 1631M1245 1669Q1255 1654 1261 1638M1138 1694Q1147 1687 1159 1686M1062 1694Q1093 1705 1126 1709M1453 1727Q1453 1760 1451 1793M1413 1536Q1444 1547 1477 1554M1443 1708Q1446 1721 1452 1734M1202 1545Q1222 1554 1243 1556M1351 1673Q1365 1664 1377 1650M1412 1730Q1422 1738 1428 1749M1253 1684Q1260 1662 1274 1644M1340 1537Q1358 1539 1374 1534M1181 1595Q1209 1579 1240 1572M1258 1633Q1272 1621 1281 1605M1147 1485Q1150 1514 1149 1542M1307 1668Q1335 1648 1356 1622M1120 1567Q1134 1580 1147 1595M1089 1632Q1109 1647 1132 1654M1086 1696Q1105 1698 1119 1710M1242 1664Q1263 1647 1279 1625M1039 1648Q1062 1666 1087 1681M1092 1704Q1121 1704 1151 1705M1067 1542Q1049 1563 1038 1587M1056 1578Q1059 1611 1051 1644M1112 1509Q1105 1536 1100 1564M1104 1527Q1108 1556 1108 1585M1356 1641Q1382 1621 1400 1593M1326 1669Q1331 1655 1340 1643M1369 1643Q1399 1626 1432 1614M1072 1545Q1062 1553 1052 1561M1420 1646Q1437 1653 1455 1654M1411 1485Q1420 1498 1430 1511M1077 1720Q1096 1721 1112 1731M1210 1711Q1224 1687 1245 1668M1200 1759Q1227 1761 1251 1775M1352 1532Q1370 1532 1388 1534M1133 1558Q1157 1571 1177 1589M1318 1580Q1342 1574 1364 1563M1097 1569Q1109 1592 1111 1618M1103 1499Q1090 1505 1085 1517M1226 1692Q1246 1668 1267 1646M1077 1556Q1068 1585 1068 1616M1073 1694Q1096 1704 1116 1717M1099 1751Q1114 1756 1124 1770M1257 1712Q1273 1683 1292 1656M1056 1746Q1080 1769 1104 1792M1233 1549Q1267 1555 1302 1553M1049 1710Q1081 1720 1109 1736M1371 1525Q1385 1521 1396 1529M1181 1657Q1189 1649 1201 1646M1087 1574Q1088 1589 1090 1604M1260 1577Q1272 1574 1282 1567M1171 1613Q1203 1604 1234 1593M1328 1666Q1342 1654 1355 1641M1232 1544Q1253 1540 1273 1543M1075 1625Q1083 1634 1085 1645M1173 1460Q1167 1490 1159 1519M1251 1467Q1280 1482 1306 1501M1394 1522Q1412 1530 1430 1538M1302 1499Q1334 1511 1364 1524M1120 1549Q1126 1564 1125 1580M1289 1726Q1315 1717 1336 1699M1054 1751Q1065 1772 1077 1793M1257 1570Q1282 1553 1312 1544M1342 1651Q1365 1630 1385 1606M1423 1515Q1435 1524 1448 1532M1190 1722Q1214 1705 1242 1693M1259 1744Q1270 1733 1286 1732M1261 1650Q1268 1634 1282 1624M1063 1552Q1047 1569 1026 1581M1363 1712Q1384 1710 1405 1711M1432 1456Q1439 1485 1456 1510M1213 1713Q1226 1701 1232 1685M1340 1704Q1355 1696 1370 1687M1206 1758Q1226 1762 1244 1755M1175 1722Q1188 1707 1206 1698M1106 1512Q1099 1533 1089 1553M1443 1667Q1455 1678 1465 1690M1316 1590Q1321 1579 1332 1573M1178 1752Q1196 1752 1213 1756M1401 1582Q1430 1585 1458 1579M1239 1474Q1254 1483 1261 1499M1267 1466Q1282 1480 1298 1494M1304 1555Q1330 1546 1357 1545M1128 1696Q1149 1693 1166 1682M1086 1679Q1119 1686 1153 1684M1281 1488Q1301 1493 1316 1508M1154 1627Q1167 1621 1182 1618M1085 1672Q1099 1672 1111 1676M1072 1634Q1090 1651 1111 1664M1175 1586Q1194 1577 1215 1578M1270 1629Q1274 1611 1287 1599M1386 1655Q1408 1640 1434 1632M1393 1590Q1404 1583 1417 1585M1149 1571Q1162 1578 1170 1590M1297 1552Q1319 1541 1341 1532M1228 1658Q1240 1645 1247 1628M1126 1532Q1128 1547 1131 1562M1079 1480Q1056 1495 1028 1502M1342 1645Q1362 1620 1375 1591M1117 1619Q1135 1628 1155 1633M1082 1569Q1084 1586 1079 1602M1265 1754Q1278 1761 1292 1763M1101 1467Q1074 1478 1054 1499M1171 1456Q1170 1478 1166 1501M1424 1588Q1448 1593 1472 1591M1116 1493Q1102 1503 1088 1513M1168 1462Q1164 1476 1164 1490M1108 1612Q1126 1613 1140 1624M1093 1730Q1113 1740 1134 1742M1389 1746Q1396 1776 1408 1805M1145 1634Q1162 1633 1175 1622M1370 1701Q1381 1711 1395 1710M1318 1548Q1330 1548 1341 1546M1166 1542Q1182 1552 1191 1570M1321 1534Q1345 1537 1370 1536M1090 1502Q1075 1519 1055 1526M1415 1573Q1435 1575 1453 1565M1310 1625Q1322 1608 1337 1593M1279 1656Q1286 1647 1291 1636M1420 1703Q1424 1727 1439 1746M1370 1691Q1401 1688 1431 1686M1372 1529Q1399 1525 1425 1531M1248 1748Q1263 1746 1277 1748M1067 1558Q1045 1580 1018 1595M1205 1457Q1210 1475 1219 1492M1279 1696Q1288 1684 1293 1671M1106 1496Q1083 1507 1058 1515M1441 1668Q1456 1681 1468 1697M1061 1652Q1090 1663 1118 1676M1217 1761Q1244 1756 1272 1757M1118 1740Q1149 1740 1181 1736M1403 1592Q1428 1588 1453 1586M1302 1549Q1317 1550 1329 1541M1176 1570Q1207 1576 1238 1580M1211 1587Q1229 1583 1246 1575M1104 1763Q1123 1770 1137 1785M1106 1717Q1136 1714 1165 1721M1022 1703Q1039 1732 1045 1764M1246 1662Q1255 1633 1268 1606M1069 1637Q1080 1644 1091 1651M1349 1549Q1360 1542 1373 1543M1256 1620Q1269 1614 1277 1602M1284 1740Q1301 1726 1322 1721M1401 1646Q1434 1643 1466 1643M1325 1557Q1344 1549 1364 1542M1189 1629Q1208 1604 1235 1588M1253 1603Q1261 1592 1271 1583M1214 1532Q1237 1535 1256 1549M1435 1439Q1444 1472 1450 1505M1163 1550Q1186 1561 1207 1575M1241 1712Q1246 1700 1256 1690M1409 1475Q1418 1495 1433 1511M1205 1616Q1221 1606 1233 1592M1057 1712Q1079 1722 1096 1740M1129 1752Q1161 1760 1191 1774M1231 1747Q1257 1727 1283 1709M1172 1728Q1191 1706 1215 1690M1104 1559Q1113 1577 1123 1593M1176 1655Q1194 1647 1211 1637M1189 1685Q1216 1663 1236 1635M1028 1665Q1043 1683 1056 1704M1427 1694Q1433 1707 1444 1715M1100 1628Q1111 1637 1125 1641M1134 1732Q1152 1730 1169 1735M1241 1550Q1257 1543 1275 1546M1131 1538Q1140 1560 1157 1577M1378 1717Q1394 1735 1414 1748M1067 1748Q1070 1762 1081 1769M1257 1494Q1267 1510 1283 1520M1382 1707Q1394 1711 1407 1715M1239 1586Q1254 1581 1267 1572M1220 1475Q1231 1498 1251 1513M1439 1721Q1441 1755 1431 1787M1264 1700Q1285 1684 1297 1661M1064 1483Q1037 1480 1010 1477M1120 1651Q1140 1652 1158 1648M1113 1740Q1128 1738 1142 1742M1343 1589Q1362 1570 1385 1556M1120 1739Q1136 1737 1153 1739M1130 1502Q1133 1537 1134 1572M1215 1737Q1230 1720 1248 1705M1146 1757Q1174 1761 1202 1754M1062 1662Q1082 1683 1108 1695M1172 1477Q1191 1505 1202 1537M1174 1470Q1181 1485 1178 1500M1244 1663Q1263 1648 1273 1626M1135 1467Q1118 1491 1110 1520M1443 1457Q1452 1477 1451 1498M1233 1683Q1236 1667 1250 1658M1143 1564Q1164 1579 1183 1595M1373 1508Q1407 1518 1438 1532M1323 1544Q1338 1547 1352 1540M1231 1602Q1246 1584 1264 1570M1431 1555Q1443 1560 1457 1557M1351 1712Q1383 1715 1416 1718M1334 1725Q1364 1740 1395 1752M1177 1580Q1192 1582 1207 1577M1287 1718Q1307 1706 1329 1698M1245 1627Q1254 1613 1269 1603M1122 1561Q1132 1569 1138 1580M1414 1663Q1435 1663 1455 1670M1418 1490Q1437 1510 1460 1525M1242 1523Q1255 1524 1265 1533M1395 1476Q1407 1489 1422 1498M1309 1685Q1315 1657 1330 1633M1218 1459Q1231 1475 1243 1491M1086 1533Q1078 1563 1070 1594M1169 1751Q1199 1745 1227 1734M1166 1607Q1184 1606 1202 1601M1136 1714Q1159 1712 1178 1700M1158 1703Q1176 1691 1189 1674M1043 1619Q1054 1649 1062 1679M1258 1647Q1270 1639 1278 1627M1316 1752Q1339 1762 1362 1771M1242 1761Q1272 1758 1301 1764M1308 1693Q1323 1680 1341 1671M1241 1457Q1261 1475 1275 1498M1393 1744Q1406 1754 1410 1769M1347 1704Q1369 1699 1390 1689M1352 1725Q1378 1736 1405 1743M1260 1669Q1269 1655 1283 1645M1401 1678Q1420 1680 1440 1678M1022 1665Q1047 1684 1072 1702M1078 1489Q1055 1505 1029 1514M1300 1701Q1311 1682 1327 1666M1162 1579Q1180 1578 1198 1582M1148 1658Q1162 1655 1172 1646M1314 1641Q1324 1624 1335 1606M1233 1658Q1252 1631 1276 1609M1165 1455Q1158 1481 1147 1504M1379 1709Q1398 1729 1421 1745M1081 1536Q1059 1546 1037 1555M1385 1632Q1399 1634 1410 1625M1194 1719Q1212 1701 1234 1690M1392 1679Q1414 1677 1435 1675M1270 1679Q1277 1664 1280 1648M1030 1685Q1057 1704 1086 1723M1272 1554Q1301 1554 1329 1547M1029 1705Q1045 1711 1054 1725M1213 1764Q1230 1768 1247 1764M1291 1668Q1300 1659 1308 1650M1128 1528Q1135 1555 1131 1583M1278 1601Q1293 1583 1315 1574M1183 1641Q1196 1637 1200 1625M1162 1483Q1172 1515 1175 1548M1096 1510Q1086 1518 1084 1530M1089 1480Q1063 1479 1039 1488M1111 1506Q1102 1524 1087 1538M1235 1595Q1246 1590 1255 1583M1178 1449Q1172 1473 1164 1497M1061 1742Q1077 1770 1089 1800M1288 1762Q1309 1766 1329 1768M1349 1477Q1364 1487 1375 1501M1090 1578Q1111 1606 1128 1637M1309 1525Q1325 1529 1340 1531M1385 1742Q1396 1756 1405 1773M1102 1659Q1114 1658 1126 1659M1318 1671Q1337 1642 1364 1620M1184 1493Q1190 1504 1190 1516M1171 1479Q1170 1508 1178 1535M1291 1635Q1296 1613 1306 1593M1176 1753Q1196 1752 1217 1752M1451 1472Q1454 1485 1462 1496M1082 1572Q1091 1600 1100 1628M1174 1745Q1186 1747 1196 1740M1110 1599Q1115 1611 1128 1615M1077 1708Q1088 1711 1100 1711M1403 1708Q1413 1714 1425 1718M1143 1594Q1171 1599 1199 1604M1089 1514Q1067 1520 1046 1530M1162 1622Q1178 1614 1195 1609M1320 1457Q1342 1478 1360 1502M1102 1485Q1080 1499 1054 1503M1056 1632Q1066 1640 1075 1651M1218 1717Q1230 1709 1242 1701M1078 1505Q1063 1510 1055 1524M1200 1622Q1217 1616 1230 1604M1078 1539Q1055 1550 1035 1565M1234 1528Q1250 1534 1267 1537M1363 1607Q1390 1591 1409 1566M1336 1718Q1353 1717 1367 1724M1107 1735Q1128 1742 1146 1757M1101 1668Q1130 1668 1160 1670M1202 1593Q1229 1586 1254 1574M1250 1511Q1271 1513 1290 1518M1070 1571Q1066 1602 1051 1630M1161 1560Q1184 1569 1210 1571M1135 1608Q1157 1612 1179 1610M1351 1729Q1371 1756 1400 1776M1442 1523Q1454 1530 1464 1540M1357 1691Q1389 1683 1418 1667M1064 1543Q1045 1554 1033 1572M1355 1477Q1380 1490 1403 1507M1077 1479Q1054 1487 1030 1492M1158 1457Q1152 1475 1145 1493M1147 1468Q1147 1487 1139 1504M1228 1457Q1234 1476 1239 1495M1061 1503Q1037 1501 1013 1499M1047 1582Q1052 1616 1049 1650M1062 1537Q1029 1536 998 1541M1053 1679Q1058 1691 1070 1697M1069 1582Q1084 1605 1091 1632M1270 1584Q1285 1572 1305 1571M1105 1692Q1117 1691 1128 1697M1315 1637Q1335 1615 1355 1594M1426 1605Q1452 1610 1479 1609M1283 1470Q1299 1493 1321 1512M1098 1591Q1118 1605 1131 1626M1281 1587Q1292 1580 1300 1570M1423 1640Q1448 1658 1477 1665M1185 1548Q1198 1552 1208 1561M1135 1619Q1152 1620 1169 1621M1156 1536Q1175 1559 1198 1578M1437 1689Q1451 1709 1467 1727M1074 1754Q1080 1771 1095 1781M1044 1665Q1058 1674 1069 1686M1111 1728Q1134 1718 1160 1718M1041 1722Q1053 1742 1064 1762M1303 1460Q1326 1484 1352 1504M1315 1705Q1337 1686 1359 1666M1421 1563Q1437 1557 1454 1559M1232 1490Q1254 1506 1279 1513M1298 1544Q1329 1544 1359 1539M1076 1739Q1093 1767 1111 1795M1175 1480Q1179 1495 1182 1511M1119 1726Q1140 1726 1160 1719M1245 1662Q1267 1636 1285 1608M1166 1768Q1193 1777 1222 1776M1058 1503Q1028 1508 999 1514M1353 1723Q1371 1720 1389 1725M1372 1716Q1387 1723 1399 1733M1426 1674Q1446 1701 1460 1731M1042 1658Q1058 1676 1066 1698M1384 1618Q1396 1613 1404 1603M1195 1504Q1206 1512 1209 1525M1197 1489Q1205 1514 1221 1535M1076 1520Q1045 1526 1018 1543M1147 1465Q1133 1482 1130 1503M1128 1447Q1111 1473 1102 1502M1284 1745Q1318 1745 1352 1743M1296 1573Q1306 1566 1314 1558M1043 1698Q1071 1706 1097 1719M1286 1667Q1295 1649 1302 1630" stroke="#c8c8c3" stroke-width="1" fill="none" opacity="0.3" stroke-linecap="round" transform="translate(1.3 1.3)"/>
<path d="M1078 1535Q1065 1562 1056 1592M1458 1742Q1453 1768 1440 1790M1241 1477Q1257 1484 1267 1499M1155 1530Q1160 1542 1169 1551M1361 1598Q1389 1583 1421 1579M1083 1534Q1074 1544 1072 1557M1060 1760Q1067 1776 1080 1788M1153 1468Q1157 1492 1155 1517M1127 1496Q1107 1519 1084 1539M1313 1747Q1343 1763 1376 1770M1084 1525Q1055 1539 1029 1556M1404 1533Q1421 1532 1439 1533M1427 1658Q1451 1668 1469 1685M1212 1722Q1230 1691 1256 1667M1379 1653Q1398 1647 1417 1638M1045 1638Q1059 1668 1077 1694M1033 1639Q1037 1655 1045 1670M1388 1595Q1403 1584 1422 1581M1359 1711Q1388 1728 1414 1750M1199 1554Q1220 1556 1241 1555M1140 1726Q1163 1723 1184 1729M1046 1511Q1034 1508 1023 1513M1365 1751Q1374 1764 1383 1777M1037 1601Q1034 1616 1025 1629M1401 1473Q1420 1494 1432 1520M1233 1735Q1260 1716 1282 1691M1063 1576Q1062 1605 1062 1635M1420 1621Q1433 1618 1446 1622M1129 1700Q1152 1698 1174 1688M1427 1631Q1443 1631 1459 1631M1261 1630Q1269 1621 1277 1611M1435 1731Q1442 1753 1441 1776M1362 1735Q1380 1744 1392 1758M1416 1502Q1427 1507 1433 1518M1069 1615Q1079 1627 1090 1639M1285 1653Q1304 1635 1317 1613M1148 1481Q1135 1498 1129 1519M1114 1481Q1107 1491 1102 1502M1146 1615Q1167 1615 1188 1612M1307 1735Q1329 1732 1349 1724M1309 1733Q1330 1735 1350 1735M1346 1602Q1354 1593 1366 1587M1292 1586Q1313 1574 1334 1561M1433 1650Q1453 1672 1480 1684M1278 1713Q1287 1693 1304 1681M1175 1470Q1188 1500 1201 1530M1417 1636Q1441 1648 1467 1653M1264 1730Q1280 1701 1303 1676M1091 1613Q1095 1626 1108 1631M1245 1669Q1255 1654 1261 1638M1138 1694Q1147 1687 1159 1686M1062 1694Q1093 1705 1126 1709M1453 1727Q1453 1760 1451 1793M1413 1536Q1444 1547 1477 1554M1443 1708Q1446 1721 1452 1734M1202 1545Q1222 1554 1243 1556M1351 1673Q1365 1664 1377 1650M1412 1730Q1422 1738 1428 1749M1253 1684Q1260 1662 1274 1644M1340 1537Q1358 1539 1374 1534M1181 1595Q1209 1579 1240 1572M1258 1633Q1272 1621 1281 1605M1147 1485Q1150 1514 1149 1542M1307 1668Q1335 1648 1356 1622M1120 1567Q1134 1580 1147 1595M1089 1632Q1109 1647 1132 1654M1086 1696Q1105 1698 1119 1710M1242 1664Q1263 1647 1279 1625M1039 1648Q1062 1666 1087 1681M1092 1704Q1121 1704 1151 1705M1067 1542Q1049 1563 1038 1587M1056 1578Q1059 1611 1051 1644M1112 1509Q1105 1536 1100 1564M1104 1527Q1108 1556 1108 1585M1356 1641Q1382 1621 1400 1593M1326 1669Q1331 1655 1340 1643M1369 1643Q1399 1626 1432 1614M1072 1545Q1062 1553 1052 1561M1420 1646Q1437 1653 1455 1654M1411 1485Q1420 1498 1430 1511M1077 1720Q1096 1721 1112 1731M1210 1711Q1224 1687 1245 1668M1200 1759Q1227 1761 1251 1775M1352 1532Q1370 1532 1388 1534M1133 1558Q1157 1571 1177 1589M1318 1580Q1342 1574 1364 1563M1097 1569Q1109 1592 1111 1618M1103 1499Q1090 1505 1085 1517M1226 1692Q1246 1668 1267 1646M1077 1556Q1068 1585 1068 1616M1073 1694Q1096 1704 1116 1717M1099 1751Q1114 1756 1124 1770M1257 1712Q1273 1683 1292 1656M1056 1746Q1080 1769 1104 1792M1233 1549Q1267 1555 1302 1553M1049 1710Q1081 1720 1109 1736M1371 1525Q1385 1521 1396 1529M1181 1657Q1189 1649 1201 1646M1087 1574Q1088 1589 1090 1604M1260 1577Q1272 1574 1282 1567M1171 1613Q1203 1604 1234 1593M1328 1666Q1342 1654 1355 1641M1232 1544Q1253 1540 1273 1543M1075 1625Q1083 1634 1085 1645M1173 1460Q1167 1490 1159 1519M1251 1467Q1280 1482 1306 1501M1394 1522Q1412 1530 1430 1538M1302 1499Q1334 1511 1364 1524M1120 1549Q1126 1564 1125 1580M1289 1726Q1315 1717 1336 1699M1054 1751Q1065 1772 1077 1793M1257 1570Q1282 1553 1312 1544M1342 1651Q1365 1630 1385 1606M1423 1515Q1435 1524 1448 1532M1190 1722Q1214 1705 1242 1693M1259 1744Q1270 1733 1286 1732M1261 1650Q1268 1634 1282 1624M1063 1552Q1047 1569 1026 1581M1363 1712Q1384 1710 1405 1711M1432 1456Q1439 1485 1456 1510M1213 1713Q1226 1701 1232 1685M1340 1704Q1355 1696 1370 1687M1206 1758Q1226 1762 1244 1755M1175 1722Q1188 1707 1206 1698M1106 1512Q1099 1533 1089 1553M1443 1667Q1455 1678 1465 1690M1316 1590Q1321 1579 1332 1573M1178 1752Q1196 1752 1213 1756M1401 1582Q1430 1585 1458 1579M1239 1474Q1254 1483 1261 1499M1267 1466Q1282 1480 1298 1494M1304 1555Q1330 1546 1357 1545M1128 1696Q1149 1693 1166 1682M1086 1679Q1119 1686 1153 1684M1281 1488Q1301 1493 1316 1508M1154 1627Q1167 1621 1182 1618M1085 1672Q1099 1672 1111 1676M1072 1634Q1090 1651 1111 1664M1175 1586Q1194 1577 1215 1578M1270 1629Q1274 1611 1287 1599M1386 1655Q1408 1640 1434 1632M1393 1590Q1404 1583 1417 1585M1149 1571Q1162 1578 1170 1590M1297 1552Q1319 1541 1341 1532M1228 1658Q1240 1645 1247 1628M1126 1532Q1128 1547 1131 1562M1079 1480Q1056 1495 1028 1502M1342 1645Q1362 1620 1375 1591M1117 1619Q1135 1628 1155 1633M1082 1569Q1084 1586 1079 1602M1265 1754Q1278 1761 1292 1763M1101 1467Q1074 1478 1054 1499M1171 1456Q1170 1478 1166 1501M1424 1588Q1448 1593 1472 1591M1116 1493Q1102 1503 1088 1513M1168 1462Q1164 1476 1164 1490M1108 1612Q1126 1613 1140 1624M1093 1730Q1113 1740 1134 1742M1389 1746Q1396 1776 1408 1805M1145 1634Q1162 1633 1175 1622M1370 1701Q1381 1711 1395 1710M1318 1548Q1330 1548 1341 1546M1166 1542Q1182 1552 1191 1570M1321 1534Q1345 1537 1370 1536M1090 1502Q1075 1519 1055 1526M1415 1573Q1435 1575 1453 1565M1310 1625Q1322 1608 1337 1593M1279 1656Q1286 1647 1291 1636M1420 1703Q1424 1727 1439 1746M1370 1691Q1401 1688 1431 1686M1372 1529Q1399 1525 1425 1531M1248 1748Q1263 1746 1277 1748M1067 1558Q1045 1580 1018 1595M1205 1457Q1210 1475 1219 1492M1279 1696Q1288 1684 1293 1671M1106 1496Q1083 1507 1058 1515M1441 1668Q1456 1681 1468 1697M1061 1652Q1090 1663 1118 1676M1217 1761Q1244 1756 1272 1757M1118 1740Q1149 1740 1181 1736M1403 1592Q1428 1588 1453 1586M1302 1549Q1317 1550 1329 1541M1176 1570Q1207 1576 1238 1580M1211 1587Q1229 1583 1246 1575M1104 1763Q1123 1770 1137 1785M1106 1717Q1136 1714 1165 1721M1022 1703Q1039 1732 1045 1764M1246 1662Q1255 1633 1268 1606M1069 1637Q1080 1644 1091 1651M1349 1549Q1360 1542 1373 1543M1256 1620Q1269 1614 1277 1602M1284 1740Q1301 1726 1322 1721M1401 1646Q1434 1643 1466 1643M1325 1557Q1344 1549 1364 1542M1189 1629Q1208 1604 1235 1588M1253 1603Q1261 1592 1271 1583M1214 1532Q1237 1535 1256 1549M1435 1439Q1444 1472 1450 1505M1163 1550Q1186 1561 1207 1575M1241 1712Q1246 1700 1256 1690M1409 1475Q1418 1495 1433 1511M1205 1616Q1221 1606 1233 1592M1057 1712Q1079 1722 1096 1740M1129 1752Q1161 1760 1191 1774M1231 1747Q1257 1727 1283 1709M1172 1728Q1191 1706 1215 1690M1104 1559Q1113 1577 1123 1593M1176 1655Q1194 1647 1211 1637M1189 1685Q1216 1663 1236 1635M1028 1665Q1043 1683 1056 1704M1427 1694Q1433 1707 1444 1715M1100 1628Q1111 1637 1125 1641M1134 1732Q1152 1730 1169 1735M1241 1550Q1257 1543 1275 1546M1131 1538Q1140 1560 1157 1577M1378 1717Q1394 1735 1414 1748M1067 1748Q1070 1762 1081 1769M1257 1494Q1267 1510 1283 1520M1382 1707Q1394 1711 1407 1715M1239 1586Q1254 1581 1267 1572M1220 1475Q1231 1498 1251 1513M1439 1721Q1441 1755 1431 1787M1264 1700Q1285 1684 1297 1661M1064 1483Q1037 1480 1010 1477M1120 1651Q1140 1652 1158 1648M1113 1740Q1128 1738 1142 1742M1343 1589Q1362 1570 1385 1556M1120 1739Q1136 1737 1153 1739M1130 1502Q1133 1537 1134 1572M1215 1737Q1230 1720 1248 1705M1146 1757Q1174 1761 1202 1754M1062 1662Q1082 1683 1108 1695M1172 1477Q1191 1505 1202 1537M1174 1470Q1181 1485 1178 1500M1244 1663Q1263 1648 1273 1626M1135 1467Q1118 1491 1110 1520M1443 1457Q1452 1477 1451 1498M1233 1683Q1236 1667 1250 1658M1143 1564Q1164 1579 1183 1595M1373 1508Q1407 1518 1438 1532M1323 1544Q1338 1547 1352 1540M1231 1602Q1246 1584 1264 1570M1431 1555Q1443 1560 1457 1557M1351 1712Q1383 1715 1416 1718M1334 1725Q1364 1740 1395 1752M1177 1580Q1192 1582 1207 1577M1287 1718Q1307 1706 1329 1698M1245 1627Q1254 1613 1269 1603M1122 1561Q1132 1569 1138 1580M1414 1663Q1435 1663 1455 1670M1418 1490Q1437 1510 1460 1525M1242 1523Q1255 1524 1265 1533M1395 1476Q1407 1489 1422 1498M1309 1685Q1315 1657 1330 1633M1218 1459Q1231 1475 1243 1491M1086 1533Q1078 1563 1070 1594M1169 1751Q1199 1745 1227 1734M1166 1607Q1184 1606 1202 1601M1136 1714Q1159 1712 1178 1700M1158 1703Q1176 1691 1189 1674M1043 1619Q1054 1649 1062 1679M1258 1647Q1270 1639 1278 1627M1316 1752Q1339 1762 1362 1771M1242 1761Q1272 1758 1301 1764M1308 1693Q1323 1680 1341 1671M1241 1457Q1261 1475 1275 1498M1393 1744Q1406 1754 1410 1769M1347 1704Q1369 1699 1390 1689M1352 1725Q1378 1736 1405 1743M1260 1669Q1269 1655 1283 1645M1401 1678Q1420 1680 1440 1678M1022 1665Q1047 1684 1072 1702M1078 1489Q1055 1505 1029 1514M1300 1701Q1311 1682 1327 1666M1162 1579Q1180 1578 1198 1582M1148 1658Q1162 1655 1172 1646M1314 1641Q1324 1624 1335 1606M1233 1658Q1252 1631 1276 1609M1165 1455Q1158 1481 1147 1504M1379 1709Q1398 1729 1421 1745M1081 1536Q1059 1546 1037 1555M1385 1632Q1399 1634 1410 1625M1194 1719Q1212 1701 1234 1690M1392 1679Q1414 1677 1435 1675M1270 1679Q1277 1664 1280 1648M1030 1685Q1057 1704 1086 1723M1272 1554Q1301 1554 1329 1547M1029 1705Q1045 1711 1054 1725M1213 1764Q1230 1768 1247 1764M1291 1668Q1300 1659 1308 1650M1128 1528Q1135 1555 1131 1583M1278 1601Q1293 1583 1315 1574M1183 1641Q1196 1637 1200 1625M1162 1483Q1172 1515 1175 1548M1096 1510Q1086 1518 1084 1530M1089 1480Q1063 1479 1039 1488M1111 1506Q1102 1524 1087 1538M1235 1595Q1246 1590 1255 1583M1178 1449Q1172 1473 1164 1497M1061 1742Q1077 1770 1089 1800M1288 1762Q1309 1766 1329 1768M1349 1477Q1364 1487 1375 1501M1090 1578Q1111 1606 1128 1637M1309 1525Q1325 1529 1340 1531M1385 1742Q1396 1756 1405 1773M1102 1659Q1114 1658 1126 1659M1318 1671Q1337 1642 1364 1620M1184 1493Q1190 1504 1190 1516M1171 1479Q1170 1508 1178 1535M1291 1635Q1296 1613 1306 1593M1176 1753Q1196 1752 1217 1752M1451 1472Q1454 1485 1462 1496M1082 1572Q1091 1600 1100 1628M1174 1745Q1186 1747 1196 1740M1110 1599Q1115 1611 1128 1615M1077 1708Q1088 1711 1100 1711M1403 1708Q1413 1714 1425 1718M1143 1594Q1171 1599 1199 1604M1089 1514Q1067 1520 1046 1530M1162 1622Q1178 1614 1195 1609M1320 1457Q1342 1478 1360 1502M1102 1485Q1080 1499 1054 1503M1056 1632Q1066 1640 1075 1651M1218 1717Q1230 1709 1242 1701M1078 1505Q1063 1510 1055 1524M1200 1622Q1217 1616 1230 1604M1078 1539Q1055 1550 1035 1565M1234 1528Q1250 1534 1267 1537M1363 1607Q1390 1591 1409 1566M1336 1718Q1353 1717 1367 1724M1107 1735Q1128 1742 1146 1757M1101 1668Q1130 1668 1160 1670M1202 1593Q1229 1586 1254 1574M1250 1511Q1271 1513 1290 1518M1070 1571Q1066 1602 1051 1630M1161 1560Q1184 1569 1210 1571M1135 1608Q1157 1612 1179 1610M1351 1729Q1371 1756 1400 1776M1442 1523Q1454 1530 1464 1540M1357 1691Q1389 1683 1418 1667M1064 1543Q1045 1554 1033 1572M1355 1477Q1380 1490 1403 1507M1077 1479Q1054 1487 1030 1492M1158 1457Q1152 1475 1145 1493M1147 1468Q1147 1487 1139 1504M1228 1457Q1234 1476 1239 1495M1061 1503Q1037 1501 1013 1499M1047 1582Q1052 1616 1049 1650M1062 1537Q1029 1536 998 1541M1053 1679Q1058 1691 1070 1697M1069 1582Q1084 1605 1091 1632M1270 1584Q1285 1572 1305 1571M1105 1692Q1117 1691 1128 1697M1315 1637Q1335 1615 1355 1594M1426 1605Q1452 1610 1479 1609M1283 1470Q1299 1493 1321 1512M1098 1591Q1118 1605 1131 1626M1281 1587Q1292 1580 1300 1570M1423 1640Q1448 1658 1477 1665M1185 1548Q1198 1552 1208 1561M1135 1619Q1152 1620 1169 1621M1156 1536Q1175 1559 1198 1578M1437 1689Q1451 1709 1467 1727M1074 1754Q1080 1771 1095 1781M1044 1665Q1058 1674 1069 1686M1111 1728Q1134 1718 1160 1718M1041 1722Q1053 1742 1064 1762M1303 1460Q1326 1484 1352 1504M1315 1705Q1337 1686 1359 1666M1421 1563Q1437 1557 1454 1559M1232 1490Q1254 1506 1279 1513M1298 1544Q1329 1544 1359 1539M1076 1739Q1093 1767 1111 1795M1175 1480Q1179 1495 1182 1511M1119 1726Q1140 1726 1160 1719M1245 1662Q1267 1636 1285 1608M1166 1768Q1193 1777 1222 1776M1058 1503Q1028 1508 999 1514M1353 1723Q1371 1720 1389 1725M1372 1716Q1387 1723 1399 1733M1426 1674Q1446 1701 1460 1731M1042 1658Q1058 1676 1066 1698M1384 1618Q1396 1613 1404 1603M1195 1504Q1206 1512 1209 1525M1197 1489Q1205 1514 1221 1535M1076 1520Q1045 1526 1018 1543M1147 1465Q1133 1482 1130 1503M1128 1447Q1111 1473 1102 1502M1284 1745Q1318 1745 1352 1743M1296 1573Q1306 1566 1314 1558M1043 1698Q1071 1706 1097 1719M1286 1667Q1295 1649 1302 1630" stroke="#555552" stroke-width="1.1" fill="none" opacity="0.45" stroke-linecap="round"/>
<path d="M1236 1672Q1246 1651 1254 1629M1192 1739Q1216 1729 1240 1719M1191 1542Q1222 1559 1256 1569M1398 1617Q1417 1609 1438 1612M1345 1562Q1364 1558 1378 1544M1252 1632Q1263 1605 1282 1583M1072 1582Q1071 1601 1081 1616M1137 1744Q1158 1746 1178 1739M1164 1610Q1186 1610 1209 1609M1185 1477Q1210 1500 1231 1527M1119 1722Q1137 1719 1155 1723M1099 1569Q1104 1583 1106 1597M1022 1718Q1040 1747 1047 1781M1318 1735Q1342 1750 1369 1758M1148 1692Q1178 1679 1208 1669M1324 1673Q1339 1645 1361 1623M1280 1754Q1291 1750 1302 1752M1129 1500Q1114 1522 1098 1544M1150 1687Q1169 1677 1184 1662M1389 1462Q1404 1482 1415 1504M1106 1473Q1086 1483 1068 1495M1309 1653Q1325 1629 1343 1606M1271 1751Q1296 1754 1320 1748M1417 1615Q1433 1615 1448 1610M1283 1716Q1307 1694 1322 1664M1364 1478Q1376 1488 1385 1501M1108 1497Q1084 1513 1066 1534M1133 1570Q1162 1584 1188 1604M1275 1458Q1288 1478 1298 1499M1301 1584Q1319 1565 1343 1553M1173 1598Q1188 1593 1203 1596M1327 1717Q1345 1717 1364 1720M1112 1765Q1123 1775 1129 1788M1191 1693Q1202 1682 1209 1667M1423 1485Q1443 1505 1463 1526M1256 1511Q1270 1519 1287 1519M1396 1481Q1425 1499 1454 1517M1116 1511Q1106 1519 1105 1531M1433 1689Q1447 1719 1466 1746M1348 1609Q1378 1597 1406 1580M1052 1564Q1033 1582 1010 1595M1123 1475Q1115 1486 1105 1497M1463 1747Q1460 1764 1448 1778M1271 1677Q1279 1663 1291 1652M1284 1495Q1297 1497 1306 1508M1333 1730Q1348 1731 1361 1725M1285 1765Q1307 1776 1330 1782M1100 1676Q1119 1676 1136 1670M1354 1573Q1374 1568 1390 1554M1253 1722Q1264 1714 1270 1702M1421 1666Q1442 1679 1464 1687M1393 1601Q1421 1600 1447 1591M1369 1722Q1385 1743 1401 1764M1361 1609Q1374 1602 1382 1590M1175 1505Q1190 1520 1202 1538M1246 1762Q1263 1758 1278 1766M1352 1602Q1370 1586 1390 1574M1289 1552Q1309 1542 1330 1534M1061 1704Q1091 1711 1122 1709M1310 1547Q1331 1537 1354 1539M1370 1493Q1381 1500 1394 1504M1196 1448Q1198 1476 1212 1501M1305 1675Q1309 1656 1316 1639M1068 1676Q1086 1691 1107 1702M1456 1741Q1449 1758 1446 1776M1418 1652Q1439 1656 1460 1657M1319 1712Q1354 1705 1386 1690M1200 1750Q1213 1750 1224 1745M1074 1588Q1085 1606 1086 1627M1417 1735Q1419 1767 1420 1798M1089 1699Q1122 1694 1155 1700M1429 1754Q1431 1770 1428 1786M1396 1751Q1408 1774 1414 1800M1067 1501Q1048 1498 1030 1504M1123 1535Q1128 1562 1127 1589M1329 1553Q1350 1542 1374 1538M1441 1453Q1453 1480 1461 1508M1218 1513Q1242 1524 1265 1537M1110 1646Q1122 1649 1133 1650M1189 1623Q1211 1601 1238 1588M1049 1714Q1067 1718 1080 1730M1183 1558Q1197 1556 1208 1565M1050 1583Q1045 1595 1037 1604M1377 1656Q1398 1650 1420 1647M1133 1585Q1165 1586 1197 1591M1142 1570Q1155 1571 1163 1582M1253 1724Q1271 1720 1287 1713M1267 1760Q1290 1768 1316 1766M1286 1679Q1294 1659 1306 1642M1223 1691Q1239 1670 1254 1649M1411 1575Q1443 1570 1475 1569M1299 1696Q1324 1677 1352 1665M1311 1588Q1337 1574 1357 1552M1251 1616Q1273 1602 1290 1582M1269 1611Q1295 1587 1327 1572M1351 1724Q1371 1729 1391 1731M1396 1571Q1410 1565 1424 1559M1045 1614Q1054 1638 1058 1664M1050 1518Q1039 1523 1026 1526M1227 1730Q1253 1718 1279 1707M1163 1580Q1194 1582 1224 1586M1167 1562Q1201 1565 1233 1575M1136 1721Q1164 1701 1193 1682M1112 1583Q1123 1594 1130 1608M1287 1596Q1300 1587 1312 1576M1372 1671Q1393 1659 1418 1655M1272 1664Q1281 1652 1291 1641M1312 1580Q1343 1565 1376 1553M1072 1760Q1078 1776 1090 1788M1347 1645Q1369 1623 1383 1596M1162 1739Q1192 1726 1225 1723M1088 1655Q1117 1660 1143 1672M1174 1548Q1207 1554 1240 1565M1053 1735Q1070 1744 1086 1756M1284 1590Q1312 1570 1345 1561M1454 1752Q1440 1768 1434 1788M1308 1768Q1329 1775 1348 1785M1321 1486Q1345 1497 1370 1505M1418 1633Q1444 1636 1469 1630M1192 1445Q1202 1474 1216 1501M1082 1627Q1095 1631 1106 1639M1057 1737Q1073 1753 1092 1767M1351 1612Q1367 1598 1386 1590M1058 1754Q1065 1771 1069 1790M1345 1688Q1362 1663 1386 1646M1252 1754Q1264 1760 1276 1755M1265 1454Q1274 1473 1287 1490M1179 1590Q1212 1586 1245 1582M1432 1568Q1449 1568 1465 1573M1245 1560Q1273 1548 1303 1538M1223 1536Q1237 1539 1248 1546M1408 1735Q1408 1755 1419 1773M1294 1748Q1312 1747 1327 1757M1164 1724Q1182 1710 1201 1700M1413 1628Q1432 1622 1452 1622M1290 1482Q1311 1496 1336 1500M1091 1535Q1079 1561 1078 1589M1236 1766Q1250 1769 1263 1763M1340 1722Q1353 1721 1364 1714M1370 1607Q1381 1591 1400 1583M1319 1690Q1336 1673 1359 1664M1417 1760Q1415 1774 1420 1788M1156 1720Q1172 1714 1188 1705M1390 1503Q1418 1519 1450 1526M1096 1553Q1092 1571 1095 1589M1208 1670Q1222 1652 1241 1640M1090 1695Q1101 1693 1112 1697M1062 1542Q1045 1550 1027 1558M1208 1571Q1224 1577 1241 1573M1047 1668Q1068 1681 1089 1694M1290 1633Q1298 1612 1307 1591M1243 1759Q1265 1758 1288 1762M1229 1583Q1245 1579 1257 1568M1453 1722Q1445 1751 1442 1781M1354 1519Q1372 1521 1389 1530M1035 1597Q1035 1627 1038 1657M1401 1670Q1427 1663 1454 1665M1376 1577Q1403 1568 1426 1554M1284 1502Q1292 1512 1305 1515M1075 1659Q1108 1667 1139 1678M1393 1556Q1418 1565 1444 1562M1153 1540Q1174 1552 1186 1571M1286 1752Q1302 1759 1318 1764M1125 1694Q1144 1694 1162 1688M1323 1621Q1330 1610 1338 1599M1076 1572Q1083 1600 1087 1629M1428 1708Q1439 1731 1446 1755M1159 1741Q1188 1745 1218 1750M1313 1572Q1346 1563 1377 1550M1197 1695Q1214 1671 1230 1646M1256 1541Q1290 1534 1325 1535M1309 1712Q1332 1701 1356 1696M1075 1648Q1100 1660 1122 1676M1195 1496Q1207 1515 1220 1533M1386 1536Q1404 1536 1423 1538M1075 1751Q1092 1765 1107 1781M1392 1724Q1408 1735 1421 1751M1099 1469Q1067 1482 1036 1498M1218 1567Q1247 1567 1276 1565M1166 1655Q1200 1644 1229 1624M1089 1576Q1090 1590 1092 1603M1365 1548Q1381 1547 1396 1547M1125 1531Q1123 1560 1132 1587M1229 1716Q1239 1702 1254 1694M1047 1728Q1060 1735 1074 1743M1270 1715Q1290 1695 1316 1683M1080 1545Q1078 1559 1070 1571M1407 1495Q1432 1509 1454 1526M1406 1469Q1415 1484 1429 1497M1307 1751Q1327 1758 1348 1756M1436 1713Q1433 1746 1442 1778M1045 1465Q1028 1473 1009 1475M1289 1479Q1301 1490 1313 1501M1335 1623Q1348 1614 1356 1602M1052 1585Q1041 1611 1032 1637M1107 1481Q1095 1489 1085 1499M1243 1742Q1276 1732 1311 1728M1240 1640Q1247 1627 1252 1614M1442 1694Q1452 1713 1463 1732M1109 1499Q1086 1516 1058 1525M1130 1751Q1156 1746 1183 1752M1406 1659Q1434 1665 1463 1661M1039 1601Q1039 1626 1049 1648M1119 1640Q1134 1642 1149 1639M1178 1500Q1189 1523 1193 1548M1268 1679Q1287 1661 1299 1638M1187 1684Q1200 1668 1216 1654M1151 1565Q1177 1580 1205 1592M1180 1681Q1189 1664 1205 1654M1409 1565Q1422 1559 1436 1561M1387 1479Q1412 1493 1434 1513M1268 1582Q1283 1567 1300 1554M1157 1747Q1182 1749 1205 1759M1422 1633Q1452 1650 1484 1662M1231 1706Q1251 1691 1266 1672M1366 1714Q1391 1712 1414 1719M1102 1512Q1090 1535 1069 1549M1116 1476Q1105 1504 1089 1528M1350 1488Q1365 1499 1384 1503M1327 1646Q1353 1628 1372 1603M1302 1632Q1317 1612 1331 1591M1381 1465Q1395 1487 1410 1507M1062 1692Q1089 1699 1116 1711M1042 1604Q1036 1617 1040 1631M1181 1628Q1206 1620 1225 1602M1404 1714Q1417 1724 1430 1735M1352 1741Q1363 1751 1377 1751M1240 1696Q1249 1671 1265 1650M1130 1508Q1113 1538 1105 1571M1380 1716Q1390 1725 1403 1728M1364 1467Q1387 1483 1410 1500M1183 1538Q1198 1544 1212 1552M1388 1681Q1419 1679 1451 1675M1295 1744Q1319 1753 1344 1756M1370 1764Q1375 1775 1382 1784M1388 1662Q1399 1662 1408 1653M1397 1603Q1411 1590 1428 1581M1055 1636Q1081 1652 1105 1671M1100 1629Q1111 1631 1122 1636M1385 1698Q1399 1700 1413 1697M1130 1683Q1165 1679 1198 1665M1418 1492Q1439 1505 1451 1526M1221 1561Q1252 1553 1284 1548M1159 1506Q1182 1531 1210 1551M1270 1483Q1279 1490 1290 1496M1213 1620Q1237 1597 1265 1578M1168 1754Q1184 1744 1203 1745M1299 1494Q1310 1499 1320 1506M1091 1606Q1115 1614 1133 1630M1189 1456Q1202 1487 1222 1514M1063 1661Q1075 1668 1089 1673M1024 1710Q1039 1736 1054 1763M1341 1626Q1355 1615 1370 1605M1050 1591Q1051 1612 1059 1632M1106 1532Q1094 1554 1085 1578M1025 1622Q1029 1648 1041 1671M1119 1666Q1146 1653 1175 1647M1413 1693Q1426 1725 1442 1756" stroke="#c8c8c3" stroke-width="1" fill="none" opacity="0.28" stroke-linecap="round"/>
<g fill="#d0402a" opacity="0.45"><circle cx="1356.4" cy="1593.1" r="1.1"/><circle cx="1163.6" cy="1716.9" r="1.2"/><circle cx="1343.0" cy="1567.8" r="0.7"/><circle cx="1234.1" cy="1631.9" r="0.9"/><circle cx="1361.9" cy="1540.5" r="0.9"/><circle cx="1351.0" cy="1696.2" r="1.1"/><circle cx="1095.1" cy="1630.3" r="0.9"/><circle cx="1133.1" cy="1510.6" r="1.1"/><circle cx="1081.6" cy="1551.5" r="0.7"/><circle cx="1282.8" cy="1736.2" r="1.1"/><circle cx="1086.7" cy="1662.8" r="1.1"/><circle cx="1358.6" cy="1653.0" r="1.3"/><circle cx="1212.9" cy="1693.4" r="0.7"/><circle cx="1056.5" cy="1684.6" r="1.4"/><circle cx="1118.5" cy="1739.4" r="1.2"/><circle cx="1346.8" cy="1681.0" r="1.2"/><circle cx="1106.4" cy="1705.3" r="1.0"/><circle cx="1410.9" cy="1743.5" r="1.1"/><circle cx="1327.9" cy="1689.3" r="1.0"/><circle cx="1391.0" cy="1548.4" r="1.3"/><circle cx="1174.0" cy="1619.8" r="1.4"/><circle cx="1429.5" cy="1687.5" r="1.1"/><circle cx="1072.6" cy="1517.3" r="1.1"/><circle cx="1255.5" cy="1544.0" r="0.8"/><circle cx="1099.4" cy="1741.3" r="1.2"/><circle cx="1312.2" cy="1706.2" r="1.3"/><circle cx="1379.1" cy="1580.5" r="1.3"/><circle cx="1275.3" cy="1656.3" r="1.1"/><circle cx="1124.5" cy="1575.3" r="1.4"/><circle cx="1233.6" cy="1609.5" r="0.7"/><circle cx="1289.4" cy="1535.7" r="0.8"/><circle cx="1263.7" cy="1647.7" r="0.9"/><circle cx="1100.0" cy="1699.6" r="1.2"/><circle cx="1169.6" cy="1536.1" r="1.1"/><circle cx="1227.1" cy="1545.1" r="0.8"/><circle cx="1390.4" cy="1592.6" r="1.1"/><circle cx="1338.1" cy="1637.5" r="1.2"/><circle cx="1356.4" cy="1628.1" r="1.3"/><circle cx="1363.3" cy="1603.4" r="0.9"/><circle cx="1389.5" cy="1650.3" r="1.0"/><circle cx="1362.8" cy="1751.0" r="0.7"/><circle cx="1296.4" cy="1705.3" r="1.0"/><circle cx="1313.7" cy="1507.1" r="0.9"/><circle cx="1107.7" cy="1588.1" r="1.2"/><circle cx="1309.5" cy="1720.3" r="1.1"/><circle cx="1308.1" cy="1518.4" r="1.0"/><circle cx="1195.8" cy="1708.6" r="1.2"/><circle cx="1423.2" cy="1685.1" r="1.3"/><circle cx="1127.0" cy="1561.2" r="1.2"/><circle cx="1157.5" cy="1728.1" r="1.1"/><circle cx="1208.8" cy="1551.2" r="1.3"/><circle cx="1112.7" cy="1622.1" r="1.4"/><circle cx="1285.0" cy="1752.4" r="0.9"/><circle cx="1205.9" cy="1725.0" r="1.2"/><circle cx="1099.0" cy="1604.9" r="1.2"/><circle cx="1244.2" cy="1547.0" r="0.7"/><circle cx="1173.3" cy="1578.1" r="0.7"/><circle cx="1206.9" cy="1646.1" r="1.3"/><circle cx="1087.9" cy="1685.7" r="0.9"/><circle cx="1272.6" cy="1711.2" r="1.1"/><circle cx="1272.2" cy="1664.9" r="1.2"/><circle cx="1394.2" cy="1695.8" r="1.4"/><circle cx="1059.8" cy="1734.3" r="0.8"/><circle cx="1107.2" cy="1608.7" r="0.8"/><circle cx="1108.4" cy="1741.6" r="1.3"/><circle cx="1407.8" cy="1733.8" r="1.1"/><circle cx="1427.1" cy="1624.0" r="0.8"/><circle cx="1296.3" cy="1674.3" r="0.9"/><circle cx="1151.8" cy="1498.2" r="1.0"/><circle cx="1374.2" cy="1591.0" r="0.7"/><circle cx="1189.5" cy="1592.1" r="0.9"/><circle cx="1355.3" cy="1713.8" r="0.7"/><circle cx="1352.0" cy="1723.8" r="1.3"/><circle cx="1328.9" cy="1554.5" r="1.3"/><circle cx="1198.6" cy="1721.1" r="1.2"/><circle cx="1288.4" cy="1703.9" r="1.2"/><circle cx="1094.6" cy="1560.6" r="1.0"/><circle cx="1338.9" cy="1506.0" r="1.3"/><circle cx="1333.3" cy="1497.6" r="1.3"/><circle cx="1155.0" cy="1508.3" r="0.9"/><circle cx="1426.1" cy="1655.2" r="1.2"/><circle cx="1388.8" cy="1629.1" r="0.8"/><circle cx="1273.5" cy="1718.8" r="1.2"/><circle cx="1349.4" cy="1522.7" r="1.2"/><circle cx="1111.3" cy="1649.8" r="1.3"/><circle cx="1188.6" cy="1533.8" r="1.1"/><circle cx="1158.1" cy="1625.7" r="1.2"/><circle cx="1424.9" cy="1630.1" r="1.2"/><circle cx="1340.4" cy="1704.1" r="1.2"/><circle cx="1093.7" cy="1640.1" r="1.0"/><circle cx="1372.7" cy="1648.9" r="1.3"/><circle cx="1422.8" cy="1625.6" r="0.9"/><circle cx="1382.9" cy="1729.0" r="1.2"/><circle cx="1122.0" cy="1633.2" r="1.3"/><circle cx="1381.7" cy="1694.4" r="1.3"/><circle cx="1429.0" cy="1513.3" r="0.9"/><circle cx="1163.4" cy="1595.9" r="0.7"/><circle cx="1152.0" cy="1649.1" r="0.9"/><circle cx="1106.4" cy="1502.8" r="1.2"/><circle cx="1192.9" cy="1606.3" r="1.1"/><circle cx="1179.8" cy="1505.8" r="1.3"/><circle cx="1136.1" cy="1556.5" r="1.1"/><circle cx="1339.3" cy="1535.5" r="0.7"/><circle cx="1375.4" cy="1493.6" r="1.1"/><circle cx="1352.8" cy="1732.2" r="0.7"/><circle cx="1111.6" cy="1530.6" r="1.2"/><circle cx="1212.1" cy="1592.9" r="1.0"/><circle cx="1098.8" cy="1754.8" r="1.0"/><circle cx="1131.1" cy="1559.2" r="0.9"/><circle cx="1424.3" cy="1509.7" r="0.8"/><circle cx="1089.0" cy="1571.9" r="1.2"/><circle cx="1121.0" cy="1613.5" r="0.9"/><circle cx="1076.5" cy="1532.7" r="1.1"/><circle cx="1276.0" cy="1685.9" r="1.3"/><circle cx="1377.7" cy="1593.2" r="1.1"/><circle cx="1147.6" cy="1692.3" r="1.3"/><circle cx="1124.4" cy="1655.3" r="1.0"/><circle cx="1293.9" cy="1663.3" r="1.1"/><circle cx="1416.6" cy="1544.2" r="0.8"/><circle cx="1182.4" cy="1515.4" r="1.1"/><circle cx="1386.8" cy="1574.0" r="0.9"/><circle cx="1292.5" cy="1657.5" r="0.8"/><circle cx="1360.8" cy="1642.8" r="0.9"/><circle cx="1179.5" cy="1585.8" r="1.0"/><circle cx="1250.9" cy="1545.3" r="1.0"/><circle cx="1106.3" cy="1675.4" r="1.0"/><circle cx="1315.6" cy="1737.9" r="1.0"/><circle cx="1355.3" cy="1736.3" r="0.8"/><circle cx="1302.5" cy="1619.5" r="1.1"/><circle cx="1282.5" cy="1603.6" r="1.0"/><circle cx="1326.1" cy="1498.5" r="0.7"/><circle cx="1163.4" cy="1726.8" r="1.2"/><circle cx="1277.1" cy="1726.8" r="1.0"/><circle cx="1282.2" cy="1749.4" r="1.3"/><circle cx="1337.6" cy="1597.0" r="0.9"/><circle cx="1409.0" cy="1716.2" r="1.0"/><circle cx="1204.9" cy="1599.5" r="0.8"/><circle cx="1182.6" cy="1519.5" r="1.4"/><circle cx="1060.5" cy="1538.9" r="1.3"/><circle cx="1353.2" cy="1502.5" r="1.1"/><circle cx="1432.9" cy="1726.5" r="0.8"/><circle cx="1075.7" cy="1723.5" r="1.4"/><circle cx="1215.8" cy="1696.9" r="0.7"/><circle cx="1197.0" cy="1630.3" r="0.9"/><circle cx="1310.3" cy="1683.1" r="0.8"/><circle cx="1081.2" cy="1737.0" r="1.1"/><circle cx="1163.0" cy="1734.3" r="1.3"/><circle cx="1123.9" cy="1598.7" r="0.7"/><circle cx="1172.0" cy="1627.2" r="1.2"/><circle cx="1086.1" cy="1517.3" r="1.3"/><circle cx="1082.5" cy="1677.5" r="1.2"/><circle cx="1189.5" cy="1751.0" r="1.2"/><circle cx="1099.3" cy="1652.5" r="1.1"/><circle cx="1426.0" cy="1729.7" r="1.3"/><circle cx="1347.5" cy="1615.1" r="1.1"/><circle cx="1051.5" cy="1737.8" r="1.3"/><circle cx="1239.8" cy="1734.0" r="1.2"/><circle cx="1305.7" cy="1501.2" r="1.0"/><circle cx="1098.8" cy="1572.9" r="1.3"/><circle cx="1049.5" cy="1663.1" r="1.3"/><circle cx="1368.7" cy="1585.4" r="1.0"/><circle cx="1430.0" cy="1670.8" r="1.0"/><circle cx="1099.9" cy="1606.5" r="0.7"/><circle cx="1130.3" cy="1720.7" r="0.8"/><circle cx="1250.7" cy="1496.4" r="1.2"/><circle cx="1375.2" cy="1713.7" r="1.2"/><circle cx="1431.9" cy="1718.5" r="1.3"/><circle cx="1421.2" cy="1546.0" r="0.8"/><circle cx="1321.9" cy="1507.1" r="1.4"/><circle cx="1314.3" cy="1746.5" r="0.9"/><circle cx="1147.7" cy="1505.9" r="0.8"/><circle cx="1193.4" cy="1605.7" r="1.1"/><circle cx="1406.9" cy="1545.5" r="0.9"/><circle cx="1084.1" cy="1740.2" r="1.1"/><circle cx="1430.4" cy="1557.6" r="1.3"/><circle cx="1243.9" cy="1736.9" r="1.0"/><circle cx="1137.7" cy="1684.7" r="0.8"/><circle cx="1422.0" cy="1560.5" r="0.8"/><circle cx="1210.1" cy="1607.5" r="1.0"/><circle cx="1231.6" cy="1604.7" r="1.2"/><circle cx="1137.8" cy="1632.2" r="1.1"/><circle cx="1151.6" cy="1512.0" r="1.2"/><circle cx="1143.9" cy="1661.8" r="1.1"/><circle cx="1050.7" cy="1541.2" r="1.1"/><circle cx="1173.5" cy="1744.8" r="0.9"/><circle cx="1284.3" cy="1669.5" r="1.0"/><circle cx="1152.6" cy="1610.3" r="1.2"/><circle cx="1161.4" cy="1607.0" r="1.2"/><circle cx="1054.9" cy="1730.3" r="1.3"/><circle cx="1302.0" cy="1567.7" r="1.3"/><circle cx="1298.9" cy="1651.8" r="1.1"/><circle cx="1306.2" cy="1672.3" r="1.2"/><circle cx="1428.9" cy="1677.3" r="0.9"/><circle cx="1432.8" cy="1611.1" r="0.8"/><circle cx="1326.4" cy="1494.4" r="0.8"/><circle cx="1340.3" cy="1677.1" r="1.0"/><circle cx="1090.9" cy="1683.3" r="1.3"/><circle cx="1176.6" cy="1548.1" r="0.9"/><circle cx="1428.6" cy="1751.3" r="0.7"/><circle cx="1147.6" cy="1512.6" r="1.3"/><circle cx="1431.3" cy="1750.3" r="1.4"/><circle cx="1332.9" cy="1530.1" r="0.8"/><circle cx="1058.7" cy="1514.9" r="0.7"/><circle cx="1172.5" cy="1614.3" r="1.2"/><circle cx="1383.3" cy="1612.0" r="1.3"/><circle cx="1055.4" cy="1627.3" r="1.2"/><circle cx="1185.5" cy="1531.7" r="0.9"/><circle cx="1198.8" cy="1624.5" r="1.0"/><circle cx="1389.7" cy="1727.8" r="0.9"/><circle cx="1127.1" cy="1621.3" r="1.0"/><circle cx="1397.8" cy="1685.0" r="1.3"/><circle cx="1118.6" cy="1604.4" r="1.3"/><circle cx="1310.7" cy="1654.5" r="0.9"/><circle cx="1374.8" cy="1616.7" r="0.9"/><circle cx="1249.2" cy="1629.2" r="1.1"/><circle cx="1333.1" cy="1727.8" r="0.9"/><circle cx="1282.9" cy="1502.6" r="0.9"/><circle cx="1172.9" cy="1688.6" r="1.4"/><circle cx="1138.6" cy="1702.0" r="0.9"/><circle cx="1051.3" cy="1558.7" r="0.9"/><circle cx="1222.3" cy="1715.2" r="1.1"/><circle cx="1297.0" cy="1512.1" r="0.8"/><circle cx="1228.7" cy="1553.4" r="0.7"/><circle cx="1363.4" cy="1588.1" r="1.3"/><circle cx="1354.6" cy="1600.7" r="0.8"/><circle cx="1388.6" cy="1595.0" r="0.7"/><circle cx="1238.8" cy="1716.7" r="1.3"/><circle cx="1280.3" cy="1620.6" r="1.4"/><circle cx="1382.0" cy="1533.6" r="0.9"/><circle cx="1099.7" cy="1704.4" r="1.3"/><circle cx="1330.1" cy="1637.4" r="1.0"/><circle cx="1064.8" cy="1682.8" r="1.3"/><circle cx="1252.1" cy="1534.4" r="1.2"/><circle cx="1082.6" cy="1529.5" r="0.8"/><circle cx="1215.7" cy="1677.7" r="1.0"/><circle cx="1167.8" cy="1565.6" r="1.0"/><circle cx="1180.5" cy="1523.2" r="1.1"/><circle cx="1164.4" cy="1722.0" r="1.4"/><circle cx="1115.9" cy="1704.8" r="0.8"/><circle cx="1394.6" cy="1622.3" r="1.3"/><circle cx="1257.5" cy="1660.8" r="1.0"/><circle cx="1319.8" cy="1585.3" r="1.2"/><circle cx="1240.1" cy="1568.0" r="1.0"/><circle cx="1214.2" cy="1702.7" r="1.0"/><circle cx="1300.5" cy="1669.6" r="1.1"/><circle cx="1102.4" cy="1510.0" r="0.9"/><circle cx="1099.4" cy="1494.8" r="1.3"/><circle cx="1252.1" cy="1719.0" r="1.2"/><circle cx="1075.2" cy="1521.0" r="1.0"/><circle cx="1091.8" cy="1651.6" r="1.3"/><circle cx="1362.2" cy="1571.0" r="1.3"/><circle cx="1245.5" cy="1526.0" r="0.8"/><circle cx="1360.3" cy="1724.0" r="0.8"/><circle cx="1083.4" cy="1583.3" r="0.8"/><circle cx="1335.8" cy="1514.1" r="0.8"/><circle cx="1412.2" cy="1524.9" r="1.2"/><circle cx="1280.0" cy="1533.8" r="1.3"/><circle cx="1114.9" cy="1674.2" r="1.2"/><circle cx="1079.6" cy="1616.2" r="0.9"/><circle cx="1092.8" cy="1700.8" r="1.2"/><circle cx="1232.1" cy="1730.3" r="1.0"/><circle cx="1347.6" cy="1593.4" r="0.9"/><circle cx="1357.8" cy="1625.1" r="1.3"/><circle cx="1242.2" cy="1506.1" r="1.4"/><circle cx="1141.9" cy="1574.8" r="0.9"/><circle cx="1153.5" cy="1729.9" r="0.9"/><circle cx="1167.8" cy="1640.0" r="1.0"/><circle cx="1163.7" cy="1677.6" r="1.2"/><circle cx="1159.9" cy="1602.4" r="1.1"/><circle cx="1391.5" cy="1723.8" r="1.3"/></g>
<g opacity="0.88"><circle cx="1077.2" cy="1516.1" r="1.5" fill="#d8402a"/><circle cx="1084.0" cy="1513.6" r="3.0" fill="#d8402a"/><circle cx="1078.6" cy="1513.4" r="2.5" fill="#c02d1c"/><circle cx="1078.3" cy="1513.8" r="1.9" fill="#cc3520"/><circle cx="1078.6" cy="1515.0" r="1.6" fill="#d8402a"/><circle cx="1082.7" cy="1527.0" r="1.8" fill="#c02d1c"/><circle cx="1087.8" cy="1527.9" r="2.8" fill="#d23a22"/><circle cx="1087.1" cy="1529.9" r="2.6" fill="#b82818"/><circle cx="1085.7" cy="1527.1" r="2.4" fill="#d23a22"/><circle cx="1088.1" cy="1528.2" r="2.9" fill="#d23a22"/><circle cx="1090.8" cy="1529.4" r="1.9" fill="#c02d1c"/><circle cx="1151.5" cy="1540.4" r="2.4" fill="#d8402a"/><circle cx="1149.8" cy="1535.8" r="1.6" fill="#cc3520"/><circle cx="1145.8" cy="1535.3" r="3.1" fill="#c02d1c"/><circle cx="1151.3" cy="1537.0" r="2.9" fill="#d23a22"/><circle cx="1151.2" cy="1538.4" r="2.1" fill="#d23a22"/><circle cx="1145.0" cy="1535.4" r="2.5" fill="#cc3520"/><circle cx="1162.2" cy="1540.5" r="1.7" fill="#c02d1c"/><circle cx="1160.5" cy="1538.2" r="3.4" fill="#cc3520"/><circle cx="1158.7" cy="1543.7" r="2.5" fill="#c02d1c"/><circle cx="1157.5" cy="1546.6" r="2.7" fill="#b82818"/><circle cx="1155.4" cy="1546.5" r="2.1" fill="#d8402a"/><circle cx="1159.3" cy="1546.8" r="2.5" fill="#b82818"/><circle cx="1214.9" cy="1513.1" r="3.3" fill="#d23a22"/><circle cx="1214.1" cy="1513.6" r="2.4" fill="#d23a22"/><circle cx="1231.2" cy="1512.3" r="2.1" fill="#d8402a"/><circle cx="1229.8" cy="1515.7" r="2.7" fill="#c02d1c"/><circle cx="1227.6" cy="1513.3" r="2.5" fill="#d8402a"/><circle cx="1226.2" cy="1532.7" r="3.4" fill="#b82818"/><circle cx="1226.2" cy="1529.9" r="2.4" fill="#d23a22"/><circle cx="1227.7" cy="1530.8" r="1.7" fill="#c02d1c"/><circle cx="1225.5" cy="1525.7" r="1.4" fill="#cc3520"/><circle cx="1259.3" cy="1509.8" r="1.6" fill="#b82818"/><circle cx="1268.9" cy="1512.7" r="1.4" fill="#cc3520"/><circle cx="1264.3" cy="1511.6" r="3.0" fill="#d23a22"/><circle cx="1261.0" cy="1510.0" r="2.6" fill="#cc3520"/><circle cx="1281.4" cy="1519.1" r="1.7" fill="#b82818"/><circle cx="1279.1" cy="1517.8" r="1.6" fill="#c02d1c"/><circle cx="1308.9" cy="1509.6" r="3.4" fill="#d8402a"/><circle cx="1312.4" cy="1506.9" r="1.8" fill="#c02d1c"/><circle cx="1149.2" cy="1570.9" r="1.9" fill="#d23a22"/><circle cx="1148.1" cy="1570.3" r="2.8" fill="#d23a22"/><circle cx="1149.8" cy="1577.9" r="1.6" fill="#c02d1c"/><circle cx="1153.1" cy="1578.8" r="2.6" fill="#d8402a"/><circle cx="1148.9" cy="1577.5" r="2.3" fill="#b82818"/><circle cx="1152.1" cy="1581.0" r="3.4" fill="#d8402a"/><circle cx="1151.3" cy="1577.4" r="3.2" fill="#b82818"/><circle cx="1189.2" cy="1585.3" r="1.7" fill="#d23a22"/><circle cx="1186.4" cy="1584.7" r="1.9" fill="#d23a22"/><circle cx="1189.6" cy="1586.3" r="2.5" fill="#d23a22"/><circle cx="1192.8" cy="1585.5" r="1.6" fill="#b82818"/><circle cx="1204.7" cy="1575.2" r="1.6" fill="#c02d1c"/><circle cx="1198.6" cy="1580.9" r="1.7" fill="#d23a22"/><circle cx="1213.3" cy="1600.6" r="1.7" fill="#d23a22"/><circle cx="1214.9" cy="1602.0" r="1.9" fill="#d23a22"/><circle cx="1214.3" cy="1601.5" r="2.4" fill="#d23a22"/><circle cx="1214.4" cy="1599.0" r="1.8" fill="#cc3520"/><circle cx="1211.1" cy="1608.0" r="2.7" fill="#d23a22"/><circle cx="1211.1" cy="1607.8" r="2.3" fill="#d23a22"/><circle cx="1212.7" cy="1605.3" r="1.6" fill="#d23a22"/><circle cx="1210.6" cy="1607.1" r="1.5" fill="#d8402a"/><circle cx="1240.1" cy="1592.9" r="1.4" fill="#c02d1c"/><circle cx="1239.3" cy="1596.2" r="2.3" fill="#b82818"/><circle cx="1235.5" cy="1594.4" r="1.4" fill="#d23a22"/><circle cx="1233.1" cy="1596.1" r="3.3" fill="#b82818"/><circle cx="1234.9" cy="1596.6" r="2.0" fill="#c02d1c"/><circle cx="1289.7" cy="1574.4" r="2.0" fill="#d8402a"/><circle cx="1288.0" cy="1573.6" r="3.0" fill="#cc3520"/><circle cx="1288.8" cy="1577.2" r="3.0" fill="#d8402a"/><circle cx="1288.9" cy="1575.2" r="1.7" fill="#d8402a"/><circle cx="1284.9" cy="1571.5" r="2.4" fill="#d23a22"/><circle cx="1303.4" cy="1571.4" r="1.9" fill="#d8402a"/><circle cx="1305.1" cy="1573.3" r="2.7" fill="#c02d1c"/><circle cx="1308.5" cy="1569.7" r="3.4" fill="#d23a22"/><circle cx="1315.5" cy="1593.2" r="2.0" fill="#d23a22"/><circle cx="1314.2" cy="1582.9" r="2.1" fill="#b82818"/><circle cx="1330.3" cy="1599.8" r="1.9" fill="#b82818"/><circle cx="1335.5" cy="1594.1" r="2.5" fill="#b82818"/><circle cx="1335.0" cy="1592.6" r="1.6" fill="#cc3520"/><circle cx="1331.7" cy="1597.6" r="2.8" fill="#c02d1c"/><circle cx="1331.0" cy="1596.9" r="2.0" fill="#d8402a"/><circle cx="1330.1" cy="1598.3" r="1.8" fill="#b82818"/><circle cx="1347.0" cy="1582.0" r="1.9" fill="#c02d1c"/><circle cx="1348.7" cy="1583.3" r="3.0" fill="#d8402a"/><circle cx="1347.7" cy="1582.0" r="3.2" fill="#c02d1c"/><circle cx="1348.2" cy="1589.8" r="3.1" fill="#b82818"/><circle cx="1349.8" cy="1589.8" r="2.6" fill="#cc3520"/><circle cx="1350.8" cy="1596.8" r="3.1" fill="#cc3520"/><circle cx="1347.4" cy="1596.9" r="1.9" fill="#d23a22"/><circle cx="1347.6" cy="1596.5" r="2.9" fill="#c02d1c"/><circle cx="1349.2" cy="1595.5" r="3.3" fill="#d8402a"/><circle cx="1350.1" cy="1594.5" r="2.9" fill="#cc3520"/><circle cx="1368.0" cy="1608.9" r="2.6" fill="#c02d1c"/><circle cx="1373.1" cy="1609.3" r="2.2" fill="#cc3520"/><circle cx="1372.0" cy="1607.4" r="2.9" fill="#c02d1c"/><circle cx="1368.3" cy="1608.3" r="2.4" fill="#d23a22"/><circle cx="1374.8" cy="1606.7" r="2.0" fill="#d23a22"/><circle cx="1378.6" cy="1622.8" r="2.3" fill="#d23a22"/><circle cx="1376.0" cy="1624.4" r="2.3" fill="#d8402a"/><circle cx="1416.9" cy="1599.8" r="1.6" fill="#b82818"/><circle cx="1417.7" cy="1603.0" r="1.5" fill="#d8402a"/><circle cx="1418.9" cy="1604.2" r="2.2" fill="#d8402a"/><circle cx="1415.8" cy="1602.7" r="2.4" fill="#d8402a"/><circle cx="1417.0" cy="1601.6" r="2.1" fill="#cc3520"/><circle cx="1416.9" cy="1603.2" r="2.0" fill="#cc3520"/><circle cx="1067.2" cy="1616.7" r="2.3" fill="#c02d1c"/><circle cx="1065.7" cy="1625.6" r="1.9" fill="#cc3520"/><circle cx="1065.1" cy="1623.8" r="2.6" fill="#b82818"/><circle cx="1063.7" cy="1626.6" r="2.1" fill="#d23a22"/><circle cx="1063.7" cy="1624.1" r="2.2" fill="#b82818"/><circle cx="1066.2" cy="1624.9" r="2.8" fill="#c02d1c"/><circle cx="1064.5" cy="1627.3" r="1.5" fill="#d23a22"/><circle cx="1065.9" cy="1632.0" r="1.5" fill="#c02d1c"/><circle cx="1064.9" cy="1625.7" r="2.4" fill="#cc3520"/><circle cx="1063.6" cy="1632.0" r="2.2" fill="#c02d1c"/><circle cx="1068.0" cy="1628.9" r="3.1" fill="#c02d1c"/><circle cx="1067.8" cy="1628.6" r="1.9" fill="#c02d1c"/><circle cx="1117.5" cy="1651.2" r="1.9" fill="#b82818"/><circle cx="1121.2" cy="1649.0" r="1.6" fill="#d23a22"/><circle cx="1115.3" cy="1651.3" r="2.9" fill="#d8402a"/><circle cx="1121.4" cy="1649.7" r="1.6" fill="#d23a22"/><circle cx="1091.1" cy="1664.6" r="2.9" fill="#d23a22"/><circle cx="1087.2" cy="1656.5" r="2.2" fill="#c02d1c"/><circle cx="1086.7" cy="1660.5" r="3.1" fill="#b82818"/><circle cx="1092.7" cy="1661.0" r="2.9" fill="#cc3520"/><circle cx="1092.1" cy="1664.9" r="3.4" fill="#cc3520"/><circle cx="1092.6" cy="1661.9" r="1.8" fill="#b82818"/><circle cx="1085.4" cy="1658.0" r="2.7" fill="#b82818"/><circle cx="1083.2" cy="1662.6" r="2.3" fill="#b82818"/><circle cx="1171.6" cy="1650.6" r="2.1" fill="#cc3520"/><circle cx="1168.5" cy="1643.8" r="3.3" fill="#d23a22"/><circle cx="1173.3" cy="1649.9" r="1.8" fill="#b82818"/><circle cx="1160.7" cy="1664.6" r="1.6" fill="#cc3520"/><circle cx="1160.4" cy="1662.7" r="3.3" fill="#c02d1c"/><circle cx="1162.4" cy="1665.6" r="2.0" fill="#b82818"/><circle cx="1171.3" cy="1662.7" r="3.1" fill="#cc3520"/><circle cx="1156.6" cy="1638.3" r="2.5" fill="#d23a22"/><circle cx="1158.1" cy="1633.0" r="2.5" fill="#d23a22"/><circle cx="1155.5" cy="1637.1" r="2.6" fill="#d8402a"/><circle cx="1156.3" cy="1633.7" r="2.1" fill="#c02d1c"/><circle cx="1153.1" cy="1642.1" r="2.2" fill="#d23a22"/><circle cx="1153.1" cy="1638.0" r="2.0" fill="#d8402a"/><circle cx="1182.5" cy="1637.6" r="2.9" fill="#d23a22"/><circle cx="1181.5" cy="1640.1" r="2.1" fill="#d8402a"/><circle cx="1179.7" cy="1642.0" r="2.2" fill="#d8402a"/><circle cx="1203.1" cy="1655.4" r="2.3" fill="#d8402a"/><circle cx="1197.3" cy="1644.8" r="2.1" fill="#d23a22"/><circle cx="1201.6" cy="1644.8" r="1.6" fill="#c02d1c"/><circle cx="1220.3" cy="1664.3" r="1.5" fill="#c02d1c"/><circle cx="1220.1" cy="1669.0" r="1.7" fill="#c02d1c"/><circle cx="1220.6" cy="1668.1" r="2.2" fill="#d23a22"/><circle cx="1216.2" cy="1663.1" r="1.6" fill="#cc3520"/><circle cx="1219.9" cy="1667.0" r="1.9" fill="#d23a22"/><circle cx="1220.6" cy="1668.1" r="2.1" fill="#c02d1c"/><circle cx="1245.5" cy="1635.4" r="2.6" fill="#b82818"/><circle cx="1240.0" cy="1636.0" r="1.4" fill="#d23a22"/><circle cx="1234.0" cy="1682.4" r="2.8" fill="#cc3520"/><circle cx="1232.2" cy="1682.8" r="1.7" fill="#b82818"/><circle cx="1230.3" cy="1681.5" r="1.6" fill="#b82818"/><circle cx="1230.3" cy="1680.1" r="1.5" fill="#b82818"/><circle cx="1229.3" cy="1680.6" r="2.4" fill="#d23a22"/><circle cx="1229.9" cy="1681.2" r="2.5" fill="#cc3520"/><circle cx="1238.6" cy="1681.8" r="2.0" fill="#d23a22"/><circle cx="1240.7" cy="1678.6" r="1.9" fill="#c02d1c"/><circle cx="1242.3" cy="1677.6" r="1.9" fill="#d8402a"/><circle cx="1241.7" cy="1680.5" r="3.2" fill="#d8402a"/><circle cx="1204.5" cy="1692.1" r="3.1" fill="#b82818"/><circle cx="1205.6" cy="1689.8" r="2.4" fill="#c02d1c"/><circle cx="1207.5" cy="1698.2" r="1.8" fill="#b82818"/><circle cx="1205.1" cy="1694.1" r="3.0" fill="#d8402a"/><circle cx="1207.5" cy="1690.9" r="3.0" fill="#b82818"/><circle cx="1253.9" cy="1704.2" r="2.8" fill="#cc3520"/><circle cx="1253.8" cy="1701.4" r="2.6" fill="#d23a22"/><circle cx="1264.1" cy="1671.6" r="2.7" fill="#cc3520"/><circle cx="1266.7" cy="1671.7" r="3.0" fill="#b82818"/><circle cx="1272.8" cy="1672.7" r="2.6" fill="#d23a22"/><circle cx="1273.4" cy="1671.0" r="2.8" fill="#b82818"/><circle cx="1268.3" cy="1672.6" r="2.3" fill="#cc3520"/><circle cx="1277.9" cy="1671.2" r="2.2" fill="#d23a22"/><circle cx="1274.0" cy="1722.2" r="1.8" fill="#cc3520"/><circle cx="1277.4" cy="1712.8" r="1.7" fill="#cc3520"/><circle cx="1273.9" cy="1720.4" r="2.0" fill="#c02d1c"/><circle cx="1287.9" cy="1718.8" r="3.3" fill="#d8402a"/><circle cx="1283.8" cy="1718.6" r="2.0" fill="#d23a22"/><circle cx="1288.2" cy="1716.9" r="1.5" fill="#b82818"/><circle cx="1288.4" cy="1719.3" r="1.6" fill="#d23a22"/><circle cx="1281.7" cy="1714.5" r="1.6" fill="#cc3520"/><circle cx="1280.7" cy="1717.3" r="2.9" fill="#d8402a"/><circle cx="1316.3" cy="1703.9" r="1.9" fill="#d8402a"/><circle cx="1316.8" cy="1699.9" r="1.8" fill="#d23a22"/><circle cx="1314.3" cy="1695.4" r="3.2" fill="#cc3520"/><circle cx="1318.3" cy="1716.5" r="2.6" fill="#c02d1c"/><circle cx="1323.7" cy="1716.0" r="1.8" fill="#d23a22"/><circle cx="1332.2" cy="1727.7" r="1.6" fill="#d23a22"/><circle cx="1322.8" cy="1731.2" r="3.1" fill="#cc3520"/><circle cx="1328.8" cy="1727.5" r="1.6" fill="#c02d1c"/><circle cx="1391.8" cy="1654.4" r="2.5" fill="#cc3520"/><circle cx="1393.2" cy="1652.5" r="2.5" fill="#b82818"/><circle cx="1391.6" cy="1659.4" r="2.4" fill="#b82818"/><circle cx="1398.7" cy="1659.7" r="1.8" fill="#d8402a"/><circle cx="1401.1" cy="1661.2" r="1.9" fill="#b82818"/><circle cx="1393.9" cy="1658.5" r="1.5" fill="#cc3520"/><circle cx="1412.0" cy="1681.8" r="3.2" fill="#cc3520"/><circle cx="1415.9" cy="1675.3" r="2.0" fill="#d23a22"/><circle cx="1414.4" cy="1677.9" r="3.2" fill="#cc3520"/><circle cx="1417.3" cy="1674.6" r="2.1" fill="#b82818"/><circle cx="1357.4" cy="1705.9" r="3.1" fill="#cc3520"/><circle cx="1356.8" cy="1706.3" r="2.9" fill="#cc3520"/><circle cx="1362.2" cy="1713.0" r="2.9" fill="#d8402a"/><circle cx="1352.6" cy="1707.2" r="2.6" fill="#c02d1c"/><circle cx="1358.7" cy="1708.3" r="1.6" fill="#d8402a"/><circle cx="1360.1" cy="1713.2" r="3.0" fill="#c02d1c"/><circle cx="1415.3" cy="1700.3" r="2.0" fill="#d23a22"/><circle cx="1416.2" cy="1707.3" r="3.2" fill="#cc3520"/><circle cx="1413.5" cy="1704.4" r="1.8" fill="#d8402a"/><circle cx="1412.1" cy="1708.2" r="3.0" fill="#cc3520"/><circle cx="1082.6" cy="1721.0" r="1.9" fill="#d8402a"/><circle cx="1077.5" cy="1722.3" r="3.3" fill="#d23a22"/><circle cx="1085.3" cy="1717.4" r="2.5" fill="#b82818"/><circle cx="1080.8" cy="1717.4" r="2.8" fill="#d23a22"/><circle cx="1084.3" cy="1714.9" r="2.5" fill="#c02d1c"/><circle cx="1083.4" cy="1736.0" r="2.6" fill="#d8402a"/><circle cx="1086.2" cy="1735.1" r="1.9" fill="#cc3520"/><circle cx="1087.4" cy="1742.5" r="2.0" fill="#c02d1c"/><circle cx="1083.5" cy="1730.9" r="3.0" fill="#d8402a"/><circle cx="1343.6" cy="1743.6" r="2.7" fill="#b82818"/><circle cx="1347.8" cy="1742.7" r="2.0" fill="#b82818"/><circle cx="1343.4" cy="1746.9" r="2.5" fill="#c02d1c"/><circle cx="1340.7" cy="1747.2" r="2.9" fill="#cc3520"/><circle cx="1345.3" cy="1748.8" r="2.9" fill="#c02d1c"/><circle cx="1262.4" cy="1744.2" r="3.2" fill="#b82818"/><circle cx="1259.7" cy="1745.2" r="2.6" fill="#b82818"/><circle cx="1262.4" cy="1745.6" r="1.9" fill="#d23a22"/><circle cx="1261.8" cy="1744.2" r="3.0" fill="#d8402a"/><circle cx="1239.5" cy="1747.5" r="1.6" fill="#d23a22"/><circle cx="1238.2" cy="1744.8" r="2.8" fill="#c02d1c"/><circle cx="1118.4" cy="1521.2" r="2.2" fill="#d8402a"/><circle cx="1119.2" cy="1521.9" r="3.4" fill="#cc3520"/><circle cx="1114.4" cy="1514.4" r="2.8" fill="#b82818"/><circle cx="1118.8" cy="1521.3" r="3.1" fill="#d8402a"/><circle cx="1120.4" cy="1518.7" r="2.2" fill="#d23a22"/><circle cx="1118.0" cy="1519.9" r="2.1" fill="#cc3520"/><circle cx="1415.1" cy="1521.9" r="2.7" fill="#cc3520"/><circle cx="1410.5" cy="1517.0" r="1.7" fill="#c02d1c"/><circle cx="1389.9" cy="1512.6" r="1.7" fill="#d8402a"/><circle cx="1394.8" cy="1509.1" r="3.3" fill="#cc3520"/><circle cx="1396.0" cy="1506.9" r="3.4" fill="#b82818"/><circle cx="1390.1" cy="1516.3" r="2.8" fill="#cc3520"/><circle cx="1392.3" cy="1511.2" r="2.2" fill="#d8402a"/><circle cx="1135.0" cy="1610.3" r="3.2" fill="#b82818"/><circle cx="1127.3" cy="1612.5" r="2.7" fill="#b82818"/><circle cx="1136.3" cy="1609.5" r="1.4" fill="#d23a22"/><circle cx="1174.5" cy="1605.9" r="1.6" fill="#d23a22"/><circle cx="1177.6" cy="1605.9" r="3.3" fill="#c02d1c"/><circle cx="1297.5" cy="1623.8" r="3.1" fill="#d8402a"/><circle cx="1303.9" cy="1615.2" r="2.1" fill="#cc3520"/><circle cx="1298.2" cy="1624.3" r="3.0" fill="#cc3520"/><circle cx="1302.0" cy="1618.8" r="3.3" fill="#d23a22"/><circle cx="1305.6" cy="1615.5" r="2.7" fill="#d8402a"/><circle cx="1367.9" cy="1562.6" r="1.6" fill="#cc3520"/><circle cx="1367.4" cy="1565.6" r="1.8" fill="#c02d1c"/><circle cx="1419.2" cy="1641.2" r="2.2" fill="#b82818"/><circle cx="1408.2" cy="1641.3" r="2.5" fill="#d23a22"/><circle cx="1108.7" cy="1701.0" r="1.5" fill="#c02d1c"/><circle cx="1114.1" cy="1694.5" r="2.9" fill="#c02d1c"/><circle cx="1176.1" cy="1729.9" r="1.8" fill="#cc3520"/><circle cx="1177.2" cy="1729.9" r="2.5" fill="#cc3520"/><circle cx="1177.1" cy="1734.0" r="1.9" fill="#cc3520"/><circle cx="1175.3" cy="1731.7" r="1.5" fill="#cc3520"/><circle cx="1292.9" cy="1742.9" r="2.4" fill="#d8402a"/><circle cx="1299.5" cy="1734.7" r="1.9" fill="#c02d1c"/><circle cx="1300.2" cy="1734.9" r="2.2" fill="#b82818"/><circle cx="1296.4" cy="1741.0" r="1.8" fill="#d23a22"/><circle cx="1295.0" cy="1736.7" r="2.7" fill="#cc3520"/><circle cx="1297.1" cy="1734.2" r="2.7" fill="#d8402a"/><circle cx="1367.3" cy="1670.7" r="1.0" fill="#c02d1c"/><circle cx="1055.4" cy="1545.2" r="1.5" fill="#d23a22"/><circle cx="1387.3" cy="1744.8" r="1.4" fill="#d8402a"/><circle cx="1111.0" cy="1594.8" r="1.4" fill="#d23a22"/><circle cx="1242.2" cy="1659.1" r="1.3" fill="#c02d1c"/><circle cx="1379.8" cy="1547.1" r="1.2" fill="#d23a22"/><circle cx="1346.9" cy="1546.9" r="1.1" fill="#d8402a"/><circle cx="1265.8" cy="1744.2" r="1.0" fill="#d8402a"/><circle cx="1420.1" cy="1697.3" r="1.5" fill="#d23a22"/><circle cx="1161.1" cy="1611.8" r="1.2" fill="#b82818"/><circle cx="1203.2" cy="1610.7" r="1.2" fill="#d8402a"/><circle cx="1254.2" cy="1536.3" r="0.9" fill="#d23a22"/><circle cx="1391.2" cy="1710.9" r="1.5" fill="#d23a22"/><circle cx="1309.9" cy="1647.7" r="0.8" fill="#b82818"/><circle cx="1256.3" cy="1711.6" r="0.9" fill="#d23a22"/><circle cx="1420.0" cy="1686.7" r="1.3" fill="#d23a22"/><circle cx="1101.9" cy="1647.8" r="1.2" fill="#b82818"/><circle cx="1208.2" cy="1494.3" r="0.8" fill="#d23a22"/><circle cx="1259.4" cy="1746.9" r="0.8" fill="#b82818"/><circle cx="1238.9" cy="1636.3" r="0.9" fill="#d23a22"/><circle cx="1227.4" cy="1690.7" r="0.8" fill="#d23a22"/><circle cx="1337.5" cy="1637.6" r="1.0" fill="#c02d1c"/><circle cx="1181.4" cy="1603.0" r="1.4" fill="#cc3520"/><circle cx="1377.8" cy="1706.1" r="1.3" fill="#d23a22"/><circle cx="1308.8" cy="1730.9" r="0.9" fill="#d8402a"/><circle cx="1369.5" cy="1637.6" r="1.6" fill="#d23a22"/><circle cx="1170.2" cy="1642.0" r="1.1" fill="#c02d1c"/><circle cx="1346.2" cy="1718.2" r="1.2" fill="#d23a22"/><circle cx="1335.6" cy="1603.0" r="1.4" fill="#d23a22"/><circle cx="1254.8" cy="1597.7" r="1.0" fill="#d8402a"/><circle cx="1234.0" cy="1594.1" r="1.4" fill="#cc3520"/><circle cx="1086.2" cy="1626.0" r="1.0" fill="#cc3520"/><circle cx="1113.8" cy="1570.8" r="1.0" fill="#d8402a"/><circle cx="1223.9" cy="1691.9" r="1.1" fill="#cc3520"/><circle cx="1297.9" cy="1691.8" r="1.1" fill="#b82818"/><circle cx="1350.4" cy="1515.7" r="0.8" fill="#d23a22"/><circle cx="1403.3" cy="1722.9" r="0.9" fill="#d23a22"/><circle cx="1135.6" cy="1527.0" r="1.3" fill="#d8402a"/><circle cx="1161.4" cy="1513.8" r="1.4" fill="#d8402a"/><circle cx="1255.7" cy="1626.5" r="1.3" fill="#b82818"/><circle cx="1320.7" cy="1709.0" r="1.2" fill="#d8402a"/><circle cx="1092.9" cy="1514.3" r="1.2" fill="#cc3520"/><circle cx="1139.7" cy="1743.4" r="1.0" fill="#b82818"/><circle cx="1426.4" cy="1624.2" r="1.0" fill="#d8402a"/><circle cx="1146.2" cy="1658.5" r="1.1" fill="#d8402a"/><circle cx="1229.6" cy="1707.5" r="1.3" fill="#d8402a"/><circle cx="1271.8" cy="1557.0" r="1.5" fill="#cc3520"/><circle cx="1323.0" cy="1642.0" r="0.8" fill="#c02d1c"/><circle cx="1174.4" cy="1741.2" r="1.2" fill="#cc3520"/><circle cx="1373.9" cy="1620.3" r="1.1" fill="#c02d1c"/><circle cx="1064.3" cy="1560.7" r="1.1" fill="#d23a22"/><circle cx="1373.6" cy="1546.1" r="0.8" fill="#b82818"/><circle cx="1068.8" cy="1584.3" r="0.9" fill="#d23a22"/><circle cx="1104.9" cy="1525.5" r="0.9" fill="#cc3520"/><circle cx="1196.6" cy="1709.0" r="1.5" fill="#c02d1c"/><circle cx="1130.6" cy="1717.7" r="1.0" fill="#d23a22"/><circle cx="1072.4" cy="1753.9" r="0.9" fill="#c02d1c"/><circle cx="1100.6" cy="1634.6" r="1.4" fill="#cc3520"/><circle cx="1411.3" cy="1500.6" r="1.0" fill="#d23a22"/><circle cx="1412.2" cy="1622.1" r="1.5" fill="#cc3520"/><circle cx="1247.5" cy="1718.2" r="1.0" fill="#cc3520"/><circle cx="1239.8" cy="1717.1" r="1.4" fill="#b82818"/><circle cx="1098.5" cy="1674.1" r="1.4" fill="#d8402a"/><circle cx="1395.0" cy="1713.4" r="1.5" fill="#c02d1c"/><circle cx="1142.0" cy="1634.6" r="1.0" fill="#d8402a"/><circle cx="1413.3" cy="1732.3" r="1.1" fill="#cc3520"/><circle cx="1216.2" cy="1691.1" r="1.3" fill="#d8402a"/><circle cx="1176.6" cy="1613.8" r="1.4" fill="#b82818"/><circle cx="1152.2" cy="1523.9" r="1.2" fill="#d8402a"/><circle cx="1173.8" cy="1594.8" r="1.4" fill="#d23a22"/><circle cx="1064.1" cy="1648.0" r="1.3" fill="#b82818"/><circle cx="1229.7" cy="1529.4" r="1.1" fill="#d23a22"/><circle cx="1090.6" cy="1555.7" r="1.4" fill="#cc3520"/><circle cx="1185.5" cy="1723.5" r="0.9" fill="#c02d1c"/><circle cx="1380.5" cy="1684.8" r="1.0" fill="#d8402a"/><circle cx="1262.9" cy="1664.6" r="1.2" fill="#d23a22"/><circle cx="1310.3" cy="1616.7" r="1.0" fill="#cc3520"/><circle cx="1294.0" cy="1564.7" r="1.4" fill="#c02d1c"/><circle cx="1101.2" cy="1676.9" r="1.5" fill="#cc3520"/><circle cx="1102.4" cy="1684.4" r="1.5" fill="#c02d1c"/><circle cx="1260.9" cy="1625.1" r="1.1" fill="#d23a22"/><circle cx="1344.1" cy="1621.2" r="1.4" fill="#b82818"/><circle cx="1374.6" cy="1581.4" r="1.5" fill="#d23a22"/><circle cx="1165.5" cy="1571.4" r="1.6" fill="#cc3520"/><circle cx="1109.7" cy="1743.9" r="0.8" fill="#b82818"/><circle cx="1158.4" cy="1729.1" r="1.2" fill="#c02d1c"/><circle cx="1149.3" cy="1724.7" r="1.2" fill="#d23a22"/><circle cx="1178.7" cy="1638.2" r="0.8" fill="#d23a22"/><circle cx="1353.7" cy="1620.2" r="0.8" fill="#b82818"/><circle cx="1393.6" cy="1691.9" r="1.0" fill="#cc3520"/></g>
<g fill="#3c1610" opacity="0.7"><circle cx="1078.6" cy="1515.5" r="1.5"/><circle cx="1085.0" cy="1528.7" r="1.7"/><circle cx="1150.2" cy="1535.4" r="1.2"/><circle cx="1215.9" cy="1511.6" r="1.3"/><circle cx="1230.2" cy="1517.9" r="1.5"/><circle cx="1261.9" cy="1511.1" r="1.5"/><circle cx="1279.6" cy="1519.9" r="1.1"/><circle cx="1311.5" cy="1511.4" r="1.9"/><circle cx="1148.1" cy="1572.4" r="1.7"/><circle cx="1148.4" cy="1580.3" r="1.4"/><circle cx="1190.4" cy="1584.9" r="1.6"/><circle cx="1211.5" cy="1607.0" r="1.6"/><circle cx="1309.2" cy="1570.8" r="1.9"/><circle cx="1316.7" cy="1588.3" r="1.2"/><circle cx="1330.9" cy="1596.9" r="1.2"/><circle cx="1347.6" cy="1584.8" r="1.4"/><circle cx="1371.2" cy="1608.5" r="1.0"/><circle cx="1419.5" cy="1600.9" r="1.4"/><circle cx="1067.4" cy="1622.9" r="1.9"/><circle cx="1114.6" cy="1649.3" r="1.0"/><circle cx="1088.2" cy="1662.3" r="2.0"/><circle cx="1087.5" cy="1662.4" r="1.4"/><circle cx="1165.3" cy="1661.9" r="1.6"/><circle cx="1153.8" cy="1637.6" r="1.1"/><circle cx="1183.1" cy="1641.2" r="1.4"/><circle cx="1221.5" cy="1665.5" r="1.5"/><circle cx="1242.7" cy="1636.7" r="1.7"/><circle cx="1231.6" cy="1680.7" r="1.7"/><circle cx="1243.2" cy="1678.7" r="1.0"/><circle cx="1205.9" cy="1693.7" r="1.5"/><circle cx="1255.9" cy="1700.0" r="1.2"/><circle cx="1265.0" cy="1672.3" r="1.7"/><circle cx="1288.4" cy="1717.2" r="1.5"/><circle cx="1314.5" cy="1697.0" r="1.2"/><circle cx="1326.1" cy="1729.1" r="1.7"/><circle cx="1390.0" cy="1651.1" r="1.7"/><circle cx="1397.4" cy="1659.1" r="1.2"/><circle cx="1411.5" cy="1678.7" r="1.0"/><circle cx="1356.2" cy="1706.9" r="1.9"/><circle cx="1081.6" cy="1718.1" r="1.5"/><circle cx="1087.4" cy="1737.8" r="1.1"/><circle cx="1344.1" cy="1743.6" r="1.5"/><circle cx="1241.8" cy="1748.0" r="1.3"/><circle cx="1174.4" cy="1610.1" r="1.7"/><circle cx="1303.6" cy="1620.8" r="1.2"/><circle cx="1177.3" cy="1736.3" r="1.3"/><circle cx="1296.2" cy="1738.4" r="1.5"/></g>
</g>
<rect x="1049.1" y="1492.5" width="385.0" height="262.0" fill="none" stroke="#1c1c1c" stroke-width="5"/>
<g clip-path="url(#clipF2)">
<rect x="1463.7" y="1490.0" width="389.1" height="267.0" fill="#918f8b"/>
<rect x="1463.7" y="1490.0" width="389.1" height="267.0" fill="#000" filter="url(#texF2)" opacity="0.35"/>
<rect x="1463.7" y="1490.0" width="389.1" height="267.0" fill="url(#tg2_0)"/>
<rect x="1463.7" y="1490.0" width="389.1" height="267.0" fill="url(#tg2_1)"/>
<rect x="1463.7" y="1490.0" width="389.1" height="267.0" fill="url(#tg2_2)"/>
<path d="M1532 1524Q1527 1505 1513 1490M1738 1508Q1745 1484 1757 1462M1833 1665Q1811 1644 1783 1633M1884 1667Q1853 1668 1823 1673M1497 1625Q1465 1633 1433 1642M1636 1681Q1619 1674 1603 1665M1592 1658Q1572 1651 1551 1647M1865 1630Q1853 1623 1839 1625M1689 1594Q1675 1579 1668 1561M1689 1717Q1674 1712 1658 1712M1642 1726Q1620 1720 1598 1722M1649 1581Q1629 1554 1612 1524M1544 1562Q1534 1550 1529 1535M1471 1591Q1459 1589 1449 1581M1630 1702Q1608 1703 1586 1698M1480 1624Q1468 1623 1456 1622M1762 1504Q1776 1473 1783 1438M1674 1545Q1677 1513 1672 1481M1637 1669Q1607 1662 1577 1664M1614 1727Q1600 1733 1584 1734M1829 1643Q1807 1622 1778 1610M1638 1737Q1618 1737 1598 1740M1469 1735Q1450 1759 1437 1787M1500 1543Q1475 1521 1444 1506M1849 1719Q1830 1718 1812 1712M1474 1744Q1470 1755 1463 1765M1648 1590Q1634 1573 1621 1554M1810 1591Q1797 1561 1775 1537M1469 1748Q1465 1764 1453 1776M1594 1543Q1580 1511 1560 1482M1663 1716Q1650 1718 1637 1716M1808 1680Q1789 1682 1773 1672M1701 1498Q1712 1475 1726 1455M1760 1757Q1739 1756 1719 1755M1788 1565Q1780 1539 1771 1513M1696 1554Q1696 1539 1690 1526M1557 1533Q1541 1511 1530 1487M1666 1711Q1633 1718 1600 1725M1501 1590Q1485 1588 1473 1578M1577 1620Q1553 1606 1529 1593M1554 1711Q1544 1718 1532 1722M1667 1551Q1674 1518 1682 1486M1496 1660Q1475 1663 1455 1661M1593 1721Q1581 1731 1565 1730M1774 1598Q1756 1585 1742 1568M1464 1728Q1445 1743 1433 1764M1484 1528Q1456 1512 1425 1504M1600 1523Q1593 1505 1588 1486M1609 1686Q1596 1689 1583 1688M1862 1554Q1844 1539 1826 1526M1663 1623Q1653 1612 1643 1602M1585 1495Q1582 1484 1578 1472M1610 1533Q1601 1503 1601 1471M1674 1736Q1657 1735 1641 1740M1600 1666Q1570 1656 1541 1641M1607 1536Q1605 1506 1592 1479M1804 1707Q1771 1695 1736 1690M1630 1528Q1628 1497 1627 1467M1719 1662Q1701 1650 1681 1643M1858 1703Q1832 1693 1805 1684M1479 1666Q1451 1670 1424 1681M1749 1585Q1736 1556 1725 1526M1480 1532Q1466 1525 1451 1520M1505 1522Q1484 1494 1459 1471M1693 1595Q1680 1580 1670 1563M1668 1525Q1675 1499 1674 1472M1548 1507Q1531 1482 1523 1454M1712 1648Q1697 1647 1688 1636M1850 1620Q1829 1598 1807 1577M1625 1608Q1608 1590 1586 1578M1871 1543Q1867 1530 1854 1526M1641 1664Q1627 1659 1612 1655M1676 1692Q1654 1688 1632 1688M1801 1750Q1787 1744 1774 1738M1754 1612Q1747 1590 1733 1571M1783 1510Q1784 1483 1786 1457M1497 1563Q1482 1551 1468 1537M1590 1617Q1568 1594 1540 1577M1629 1583Q1614 1553 1591 1529M1655 1562Q1653 1533 1660 1504M1888 1561Q1870 1552 1854 1541M1817 1547Q1810 1518 1807 1488M1498 1703Q1487 1710 1474 1711M1821 1640Q1794 1634 1768 1628M1546 1611Q1528 1605 1513 1593M1839 1554Q1829 1521 1821 1487M1757 1637Q1731 1623 1709 1604M1466 1576Q1452 1573 1441 1563M1805 1692Q1791 1681 1775 1675M1759 1542Q1754 1518 1747 1495M1470 1627Q1448 1633 1425 1639M1523 1708Q1510 1713 1500 1723M1601 1723Q1578 1730 1555 1726M1787 1493Q1796 1471 1799 1447M1853 1522Q1846 1505 1837 1489M1617 1617Q1608 1610 1603 1599M1780 1706Q1750 1702 1721 1707M1715 1719Q1700 1711 1684 1707M1623 1743Q1600 1750 1577 1756M1820 1614Q1798 1600 1773 1590M1757 1740Q1728 1736 1704 1720M1742 1711Q1730 1708 1717 1708M1795 1679Q1776 1679 1758 1673M1708 1611Q1700 1579 1681 1552M1730 1662Q1708 1644 1680 1634M1840 1643Q1817 1630 1794 1617M1571 1756Q1560 1765 1548 1771M1653 1606Q1641 1594 1631 1579M1661 1613Q1647 1592 1640 1567M1673 1649Q1650 1636 1632 1616M1788 1673Q1756 1673 1724 1663M1884 1538Q1875 1518 1858 1506M1665 1604Q1644 1583 1633 1556M1842 1762Q1823 1759 1805 1760M1544 1569Q1527 1557 1509 1547M1744 1655Q1724 1632 1698 1615M1867 1633Q1843 1618 1819 1601M1494 1699Q1484 1707 1477 1717M1722 1517Q1728 1488 1746 1464M1845 1508Q1842 1497 1842 1485M1782 1752Q1766 1740 1747 1738M1644 1621Q1632 1605 1615 1592M1656 1684Q1631 1669 1606 1655M1719 1489Q1726 1469 1740 1453M1501 1555Q1473 1550 1448 1537M1742 1620Q1726 1606 1710 1591M1706 1597Q1702 1565 1688 1537M1543 1547Q1530 1528 1511 1518M1545 1502Q1532 1483 1526 1461M1515 1542Q1495 1524 1469 1515M1559 1648Q1543 1637 1524 1631M1670 1606Q1656 1585 1638 1569M1607 1756Q1600 1767 1587 1769M1812 1531Q1813 1508 1811 1485M1818 1632Q1796 1608 1769 1589M1832 1540Q1825 1528 1823 1515M1683 1519Q1688 1505 1688 1489M1779 1614Q1767 1597 1755 1581M1887 1710Q1861 1712 1836 1714M1537 1656Q1512 1653 1487 1660M1521 1752Q1511 1770 1502 1788M1609 1537Q1611 1521 1608 1504M1657 1505Q1665 1496 1664 1484M1620 1619Q1612 1602 1596 1594M1522 1698Q1498 1708 1477 1721M1523 1526Q1506 1518 1492 1505M1508 1530Q1485 1510 1463 1490M1798 1744Q1766 1731 1731 1727M1675 1758Q1649 1761 1623 1762M1727 1711Q1696 1710 1668 1698M1880 1707Q1846 1703 1814 1691M1657 1626Q1642 1610 1622 1601M1861 1546Q1846 1536 1839 1518M1538 1608Q1520 1596 1504 1581M1464 1706Q1449 1716 1438 1731M1556 1752Q1538 1761 1528 1778M1661 1726Q1644 1731 1627 1725M1527 1688Q1507 1700 1485 1709M1476 1695Q1463 1701 1449 1705M1557 1534Q1548 1516 1535 1500M1719 1688Q1691 1688 1665 1678M1785 1723Q1762 1726 1739 1719M1502 1664Q1474 1679 1448 1697M1618 1727Q1606 1728 1594 1726M1544 1583Q1522 1565 1500 1545M1731 1726Q1720 1719 1706 1721M1851 1642Q1833 1637 1820 1625M1633 1682Q1612 1685 1592 1681M1791 1551Q1789 1517 1793 1482M1514 1546Q1488 1531 1465 1511M1766 1716Q1736 1716 1706 1720M1644 1499Q1648 1488 1646 1477M1530 1549Q1521 1533 1507 1521M1780 1539Q1776 1506 1768 1473M1878 1501Q1870 1489 1867 1475M1616 1513Q1608 1487 1607 1459M1890 1704Q1862 1708 1834 1715M1817 1768Q1786 1767 1756 1760M1800 1616Q1791 1604 1776 1600M1495 1568Q1479 1561 1463 1559M1830 1612Q1809 1590 1791 1564M1743 1554Q1729 1525 1725 1492M1548 1715Q1532 1722 1519 1734M1802 1623Q1781 1602 1755 1586M1818 1736Q1791 1735 1764 1733M1492 1638Q1471 1635 1450 1634M1813 1699Q1799 1702 1787 1694M1642 1584Q1630 1562 1615 1543M1675 1661Q1644 1647 1611 1641M1842 1686Q1812 1683 1783 1688M1543 1620Q1529 1616 1514 1617M1633 1747Q1616 1755 1597 1752M1681 1636Q1664 1621 1645 1609M1504 1490Q1489 1483 1478 1470M1594 1539Q1590 1522 1580 1506M1638 1608Q1625 1588 1612 1568M1536 1535Q1526 1521 1517 1508M1605 1551Q1593 1521 1590 1488M1473 1690Q1446 1702 1423 1719M1838 1555Q1822 1523 1817 1488M1848 1686Q1833 1680 1818 1684M1640 1750Q1619 1752 1603 1764M1622 1508Q1620 1485 1621 1463M1495 1661Q1479 1667 1462 1674M1789 1764Q1757 1768 1725 1769M1902 1776Q1872 1761 1839 1754M1577 1639Q1553 1640 1529 1636M1641 1678Q1629 1669 1615 1672M1714 1731Q1693 1722 1671 1723M1672 1527Q1677 1509 1675 1490M1764 1512Q1762 1494 1769 1478M1541 1616Q1518 1603 1499 1585M1591 1762Q1579 1771 1568 1779M1676 1528Q1681 1505 1683 1482M1692 1632Q1680 1606 1663 1583M1572 1707Q1543 1725 1515 1744M1625 1624Q1613 1615 1602 1605M1685 1517Q1685 1506 1684 1494M1669 1675Q1649 1675 1631 1671M1737 1710Q1716 1707 1697 1696M1734 1693Q1702 1681 1671 1664M1582 1721Q1559 1734 1542 1753M1877 1608Q1865 1594 1847 1588M1816 1674Q1792 1666 1770 1653M1847 1520Q1838 1508 1834 1492M1670 1533Q1672 1507 1683 1483M1773 1767Q1761 1769 1750 1764M1824 1766Q1811 1768 1800 1761M1654 1597Q1648 1565 1643 1533M1769 1579Q1767 1557 1756 1538M1559 1575Q1550 1564 1536 1559M1804 1710Q1786 1700 1765 1699M1831 1525Q1827 1491 1823 1457M1665 1616Q1646 1606 1632 1589M1685 1651Q1673 1648 1667 1637M1491 1696Q1476 1703 1462 1710M1605 1671Q1591 1674 1579 1667M1692 1613Q1678 1598 1664 1583M1673 1645Q1657 1635 1642 1625M1706 1734Q1692 1741 1676 1738M1471 1589Q1448 1583 1429 1569M1723 1683Q1706 1682 1689 1678M1817 1633Q1797 1620 1779 1605M1870 1747Q1847 1738 1821 1736M1768 1516Q1771 1486 1770 1457M1719 1737Q1687 1747 1654 1752M1662 1625Q1649 1614 1633 1607M1546 1632Q1536 1625 1524 1626M1888 1735Q1871 1740 1853 1737M1780 1570Q1773 1555 1773 1539M1835 1762Q1810 1756 1784 1749M1734 1546Q1729 1512 1726 1478M1663 1752Q1631 1762 1601 1778M1807 1621Q1786 1601 1761 1587M1742 1547Q1753 1515 1753 1481M1754 1660Q1746 1646 1731 1639M1801 1565Q1800 1544 1788 1526M1771 1532Q1776 1515 1774 1497M1485 1520Q1474 1516 1467 1507M1563 1626Q1536 1623 1510 1615M1662 1660Q1652 1653 1640 1650M1494 1658Q1483 1660 1472 1662M1827 1577Q1813 1562 1796 1549M1657 1581Q1643 1557 1626 1534M1863 1538Q1850 1517 1838 1494M1732 1643Q1716 1633 1700 1623M1718 1597Q1707 1569 1695 1542M1832 1555Q1827 1537 1816 1524M1716 1698Q1697 1693 1678 1687M1527 1563Q1503 1550 1480 1536M1550 1760Q1542 1777 1527 1787M1472 1725Q1458 1737 1446 1751M1751 1771Q1739 1776 1728 1770M1792 1513Q1795 1501 1791 1489M1647 1686Q1636 1681 1624 1679M1609 1728Q1582 1738 1553 1743M1690 1645Q1663 1629 1641 1606M1678 1658Q1668 1642 1650 1635M1644 1583Q1633 1570 1624 1555M1563 1684Q1533 1698 1502 1708M1546 1715Q1519 1734 1491 1752M1600 1592Q1589 1577 1579 1561M1824 1762Q1794 1748 1762 1744M1476 1673Q1460 1685 1442 1691M1828 1585Q1817 1566 1800 1551M1860 1510Q1860 1491 1854 1472M1579 1736Q1565 1740 1552 1748M1891 1634Q1863 1633 1837 1622M1867 1634Q1850 1634 1833 1630M1579 1633Q1565 1635 1554 1627M1536 1566Q1520 1553 1502 1543M1600 1713Q1575 1736 1544 1751M1866 1706Q1844 1709 1822 1708M1485 1684Q1463 1707 1435 1722M1825 1682Q1797 1682 1772 1672M1726 1496Q1734 1478 1734 1458M1730 1683Q1710 1678 1691 1670M1661 1545Q1661 1527 1663 1510M1604 1679Q1573 1674 1542 1672M1896 1721Q1864 1713 1831 1712M1880 1616Q1864 1617 1850 1610M1760 1532Q1767 1504 1767 1476M1873 1644Q1850 1636 1826 1635M1508 1492Q1501 1483 1492 1477M1730 1573Q1717 1558 1713 1538M1781 1756Q1760 1756 1738 1756M1489 1542Q1460 1533 1433 1518M1664 1725Q1651 1733 1636 1732M1590 1573Q1577 1565 1574 1550M1814 1670Q1787 1655 1759 1644M1683 1635Q1668 1608 1648 1584M1669 1577Q1665 1566 1660 1555M1489 1494Q1472 1479 1459 1460M1852 1573Q1832 1547 1807 1527M1800 1602Q1787 1577 1767 1555M1650 1751Q1628 1762 1607 1775M1557 1600Q1531 1577 1502 1558M1782 1741Q1753 1733 1725 1719M1495 1621Q1464 1621 1434 1618M1612 1698Q1582 1696 1551 1693M1834 1550Q1829 1537 1821 1526M1569 1634Q1543 1619 1513 1614M1563 1738Q1548 1746 1531 1749M1705 1712Q1677 1709 1649 1706M1708 1570Q1711 1537 1704 1505M1595 1510Q1593 1493 1584 1479M1475 1553Q1464 1539 1448 1533M1871 1562Q1853 1534 1827 1514M1508 1743Q1494 1752 1483 1765M1700 1663Q1680 1650 1665 1631M1876 1560Q1854 1545 1839 1523M1809 1619Q1790 1605 1778 1585M1490 1512Q1460 1495 1428 1480M1893 1630Q1868 1624 1842 1628M1654 1711Q1625 1710 1596 1711M1768 1661Q1752 1654 1739 1642M1672 1542Q1676 1511 1670 1481M1555 1504Q1537 1480 1528 1451M1674 1728Q1657 1734 1639 1733M1551 1624Q1521 1617 1490 1615M1491 1549Q1480 1545 1471 1540M1623 1539Q1620 1508 1623 1478M1654 1586Q1648 1571 1633 1562M1485 1687Q1466 1700 1446 1711M1561 1508Q1555 1497 1558 1486M1879 1755Q1856 1757 1835 1752M1495 1707Q1478 1718 1460 1728M1671 1621Q1663 1606 1652 1594M1556 1684Q1533 1693 1508 1696M1614 1688Q1598 1686 1581 1686M1747 1754Q1736 1752 1725 1748M1727 1583Q1722 1568 1713 1557M1899 1610Q1873 1597 1844 1591M1518 1703Q1503 1723 1482 1736M1633 1746Q1608 1748 1587 1761M1558 1640Q1532 1637 1505 1636M1700 1687Q1681 1670 1658 1660M1540 1535Q1519 1515 1503 1492M1630 1616Q1626 1603 1614 1595M1536 1603Q1508 1595 1481 1589M1871 1739Q1857 1731 1841 1733M1604 1566Q1598 1536 1600 1506M1607 1644Q1587 1635 1567 1631M1702 1531Q1710 1508 1709 1483M1616 1699Q1597 1699 1581 1691M1537 1594Q1518 1582 1500 1569M1807 1612Q1794 1605 1783 1595M1712 1604Q1697 1580 1676 1560M1554 1626Q1535 1617 1513 1616M1703 1554Q1700 1543 1703 1531M1793 1720Q1774 1717 1757 1709M1759 1747Q1727 1745 1695 1749M1640 1723Q1609 1732 1580 1747M1669 1542Q1663 1513 1666 1484M1762 1546Q1751 1519 1751 1490M1649 1631Q1630 1608 1616 1582M1507 1505Q1489 1498 1474 1486M1646 1622Q1627 1600 1617 1572M1457 1553Q1448 1544 1436 1542M1490 1579Q1466 1561 1438 1550M1696 1664Q1671 1640 1641 1624M1781 1604Q1769 1582 1752 1564M1796 1770Q1786 1764 1774 1760M1865 1643Q1851 1645 1837 1642M1792 1531Q1784 1506 1785 1480M1676 1700Q1648 1698 1621 1699M1855 1534Q1849 1509 1838 1487M1566 1585Q1552 1559 1530 1539M1747 1616Q1729 1586 1705 1562M1457 1751Q1457 1769 1447 1784M1594 1741Q1564 1752 1534 1764M1586 1741Q1566 1760 1545 1780M1567 1727Q1539 1741 1516 1761M1586 1594Q1571 1564 1548 1538M1879 1724Q1850 1732 1821 1733M1895 1660Q1867 1662 1839 1666M1745 1516Q1746 1499 1752 1483M1812 1731Q1794 1729 1780 1718M1566 1686Q1544 1692 1521 1690M1577 1673Q1544 1661 1510 1653M1734 1742Q1707 1741 1682 1750M1639 1498Q1655 1473 1663 1444M1585 1553Q1576 1542 1568 1530M1609 1603Q1596 1581 1587 1556M1809 1508Q1804 1496 1810 1485M1503 1513Q1483 1493 1472 1466M1593 1604Q1573 1586 1549 1575M1837 1713Q1811 1701 1783 1697" stroke="#c8c8c3" stroke-width="1" fill="none" opacity="0.3" stroke-linecap="round" transform="translate(1.3 1.3)"/>
<path d="M1532 1524Q1527 1505 1513 1490M1738 1508Q1745 1484 1757 1462M1833 1665Q1811 1644 1783 1633M1884 1667Q1853 1668 1823 1673M1497 1625Q1465 1633 1433 1642M1636 1681Q1619 1674 1603 1665M1592 1658Q1572 1651 1551 1647M1865 1630Q1853 1623 1839 1625M1689 1594Q1675 1579 1668 1561M1689 1717Q1674 1712 1658 1712M1642 1726Q1620 1720 1598 1722M1649 1581Q1629 1554 1612 1524M1544 1562Q1534 1550 1529 1535M1471 1591Q1459 1589 1449 1581M1630 1702Q1608 1703 1586 1698M1480 1624Q1468 1623 1456 1622M1762 1504Q1776 1473 1783 1438M1674 1545Q1677 1513 1672 1481M1637 1669Q1607 1662 1577 1664M1614 1727Q1600 1733 1584 1734M1829 1643Q1807 1622 1778 1610M1638 1737Q1618 1737 1598 1740M1469 1735Q1450 1759 1437 1787M1500 1543Q1475 1521 1444 1506M1849 1719Q1830 1718 1812 1712M1474 1744Q1470 1755 1463 1765M1648 1590Q1634 1573 1621 1554M1810 1591Q1797 1561 1775 1537M1469 1748Q1465 1764 1453 1776M1594 1543Q1580 1511 1560 1482M1663 1716Q1650 1718 1637 1716M1808 1680Q1789 1682 1773 1672M1701 1498Q1712 1475 1726 1455M1760 1757Q1739 1756 1719 1755M1788 1565Q1780 1539 1771 1513M1696 1554Q1696 1539 1690 1526M1557 1533Q1541 1511 1530 1487M1666 1711Q1633 1718 1600 1725M1501 1590Q1485 1588 1473 1578M1577 1620Q1553 1606 1529 1593M1554 1711Q1544 1718 1532 1722M1667 1551Q1674 1518 1682 1486M1496 1660Q1475 1663 1455 1661M1593 1721Q1581 1731 1565 1730M1774 1598Q1756 1585 1742 1568M1464 1728Q1445 1743 1433 1764M1484 1528Q1456 1512 1425 1504M1600 1523Q1593 1505 1588 1486M1609 1686Q1596 1689 1583 1688M1862 1554Q1844 1539 1826 1526M1663 1623Q1653 1612 1643 1602M1585 1495Q1582 1484 1578 1472M1610 1533Q1601 1503 1601 1471M1674 1736Q1657 1735 1641 1740M1600 1666Q1570 1656 1541 1641M1607 1536Q1605 1506 1592 1479M1804 1707Q1771 1695 1736 1690M1630 1528Q1628 1497 1627 1467M1719 1662Q1701 1650 1681 1643M1858 1703Q1832 1693 1805 1684M1479 1666Q1451 1670 1424 1681M1749 1585Q1736 1556 1725 1526M1480 1532Q1466 1525 1451 1520M1505 1522Q1484 1494 1459 1471M1693 1595Q1680 1580 1670 1563M1668 1525Q1675 1499 1674 1472M1548 1507Q1531 1482 1523 1454M1712 1648Q1697 1647 1688 1636M1850 1620Q1829 1598 1807 1577M1625 1608Q1608 1590 1586 1578M1871 1543Q1867 1530 1854 1526M1641 1664Q1627 1659 1612 1655M1676 1692Q1654 1688 1632 1688M1801 1750Q1787 1744 1774 1738M1754 1612Q1747 1590 1733 1571M1783 1510Q1784 1483 1786 1457M1497 1563Q1482 1551 1468 1537M1590 1617Q1568 1594 1540 1577M1629 1583Q1614 1553 1591 1529M1655 1562Q1653 1533 1660 1504M1888 1561Q1870 1552 1854 1541M1817 1547Q1810 1518 1807 1488M1498 1703Q1487 1710 1474 1711M1821 1640Q1794 1634 1768 1628M1546 1611Q1528 1605 1513 1593M1839 1554Q1829 1521 1821 1487M1757 1637Q1731 1623 1709 1604M1466 1576Q1452 1573 1441 1563M1805 1692Q1791 1681 1775 1675M1759 1542Q1754 1518 1747 1495M1470 1627Q1448 1633 1425 1639M1523 1708Q1510 1713 1500 1723M1601 1723Q1578 1730 1555 1726M1787 1493Q1796 1471 1799 1447M1853 1522Q1846 1505 1837 1489M1617 1617Q1608 1610 1603 1599M1780 1706Q1750 1702 1721 1707M1715 1719Q1700 1711 1684 1707M1623 1743Q1600 1750 1577 1756M1820 1614Q1798 1600 1773 1590M1757 1740Q1728 1736 1704 1720M1742 1711Q1730 1708 1717 1708M1795 1679Q1776 1679 1758 1673M1708 1611Q1700 1579 1681 1552M1730 1662Q1708 1644 1680 1634M1840 1643Q1817 1630 1794 1617M1571 1756Q1560 1765 1548 1771M1653 1606Q1641 1594 1631 1579M1661 1613Q1647 1592 1640 1567M1673 1649Q1650 1636 1632 1616M1788 1673Q1756 1673 1724 1663M1884 1538Q1875 1518 1858 1506M1665 1604Q1644 1583 1633 1556M1842 1762Q1823 1759 1805 1760M1544 1569Q1527 1557 1509 1547M1744 1655Q1724 1632 1698 1615M1867 1633Q1843 1618 1819 1601M1494 1699Q1484 1707 1477 1717M1722 1517Q1728 1488 1746 1464M1845 1508Q1842 1497 1842 1485M1782 1752Q1766 1740 1747 1738M1644 1621Q1632 1605 1615 1592M1656 1684Q1631 1669 1606 1655M1719 1489Q1726 1469 1740 1453M1501 1555Q1473 1550 1448 1537M1742 1620Q1726 1606 1710 1591M1706 1597Q1702 1565 1688 1537M1543 1547Q1530 1528 1511 1518M1545 1502Q1532 1483 1526 1461M1515 1542Q1495 1524 1469 1515M1559 1648Q1543 1637 1524 1631M1670 1606Q1656 1585 1638 1569M1607 1756Q1600 1767 1587 1769M1812 1531Q1813 1508 1811 1485M1818 1632Q1796 1608 1769 1589M1832 1540Q1825 1528 1823 1515M1683 1519Q1688 1505 1688 1489M1779 1614Q1767 1597 1755 1581M1887 1710Q1861 1712 1836 1714M1537 1656Q1512 1653 1487 1660M1521 1752Q1511 1770 1502 1788M1609 1537Q1611 1521 1608 1504M1657 1505Q1665 1496 1664 1484M1620 1619Q1612 1602 1596 1594M1522 1698Q1498 1708 1477 1721M1523 1526Q1506 1518 1492 1505M1508 1530Q1485 1510 1463 1490M1798 1744Q1766 1731 1731 1727M1675 1758Q1649 1761 1623 1762M1727 1711Q1696 1710 1668 1698M1880 1707Q1846 1703 1814 1691M1657 1626Q1642 1610 1622 1601M1861 1546Q1846 1536 1839 1518M1538 1608Q1520 1596 1504 1581M1464 1706Q1449 1716 1438 1731M1556 1752Q1538 1761 1528 1778M1661 1726Q1644 1731 1627 1725M1527 1688Q1507 1700 1485 1709M1476 1695Q1463 1701 1449 1705M1557 1534Q1548 1516 1535 1500M1719 1688Q1691 1688 1665 1678M1785 1723Q1762 1726 1739 1719M1502 1664Q1474 1679 1448 1697M1618 1727Q1606 1728 1594 1726M1544 1583Q1522 1565 1500 1545M1731 1726Q1720 1719 1706 1721M1851 1642Q1833 1637 1820 1625M1633 1682Q1612 1685 1592 1681M1791 1551Q1789 1517 1793 1482M1514 1546Q1488 1531 1465 1511M1766 1716Q1736 1716 1706 1720M1644 1499Q1648 1488 1646 1477M1530 1549Q1521 1533 1507 1521M1780 1539Q1776 1506 1768 1473M1878 1501Q1870 1489 1867 1475M1616 1513Q1608 1487 1607 1459M1890 1704Q1862 1708 1834 1715M1817 1768Q1786 1767 1756 1760M1800 1616Q1791 1604 1776 1600M1495 1568Q1479 1561 1463 1559M1830 1612Q1809 1590 1791 1564M1743 1554Q1729 1525 1725 1492M1548 1715Q1532 1722 1519 1734M1802 1623Q1781 1602 1755 1586M1818 1736Q1791 1735 1764 1733M1492 1638Q1471 1635 1450 1634M1813 1699Q1799 1702 1787 1694M1642 1584Q1630 1562 1615 1543M1675 1661Q1644 1647 1611 1641M1842 1686Q1812 1683 1783 1688M1543 1620Q1529 1616 1514 1617M1633 1747Q1616 1755 1597 1752M1681 1636Q1664 1621 1645 1609M1504 1490Q1489 1483 1478 1470M1594 1539Q1590 1522 1580 1506M1638 1608Q1625 1588 1612 1568M1536 1535Q1526 1521 1517 1508M1605 1551Q1593 1521 1590 1488M1473 1690Q1446 1702 1423 1719M1838 1555Q1822 1523 1817 1488M1848 1686Q1833 1680 1818 1684M1640 1750Q1619 1752 1603 1764M1622 1508Q1620 1485 1621 1463M1495 1661Q1479 1667 1462 1674M1789 1764Q1757 1768 1725 1769M1902 1776Q1872 1761 1839 1754M1577 1639Q1553 1640 1529 1636M1641 1678Q1629 1669 1615 1672M1714 1731Q1693 1722 1671 1723M1672 1527Q1677 1509 1675 1490M1764 1512Q1762 1494 1769 1478M1541 1616Q1518 1603 1499 1585M1591 1762Q1579 1771 1568 1779M1676 1528Q1681 1505 1683 1482M1692 1632Q1680 1606 1663 1583M1572 1707Q1543 1725 1515 1744M1625 1624Q1613 1615 1602 1605M1685 1517Q1685 1506 1684 1494M1669 1675Q1649 1675 1631 1671M1737 1710Q1716 1707 1697 1696M1734 1693Q1702 1681 1671 1664M1582 1721Q1559 1734 1542 1753M1877 1608Q1865 1594 1847 1588M1816 1674Q1792 1666 1770 1653M1847 1520Q1838 1508 1834 1492M1670 1533Q1672 1507 1683 1483M1773 1767Q1761 1769 1750 1764M1824 1766Q1811 1768 1800 1761M1654 1597Q1648 1565 1643 1533M1769 1579Q1767 1557 1756 1538M1559 1575Q1550 1564 1536 1559M1804 1710Q1786 1700 1765 1699M1831 1525Q1827 1491 1823 1457M1665 1616Q1646 1606 1632 1589M1685 1651Q1673 1648 1667 1637M1491 1696Q1476 1703 1462 1710M1605 1671Q1591 1674 1579 1667M1692 1613Q1678 1598 1664 1583M1673 1645Q1657 1635 1642 1625M1706 1734Q1692 1741 1676 1738M1471 1589Q1448 1583 1429 1569M1723 1683Q1706 1682 1689 1678M1817 1633Q1797 1620 1779 1605M1870 1747Q1847 1738 1821 1736M1768 1516Q1771 1486 1770 1457M1719 1737Q1687 1747 1654 1752M1662 1625Q1649 1614 1633 1607M1546 1632Q1536 1625 1524 1626M1888 1735Q1871 1740 1853 1737M1780 1570Q1773 1555 1773 1539M1835 1762Q1810 1756 1784 1749M1734 1546Q1729 1512 1726 1478M1663 1752Q1631 1762 1601 1778M1807 1621Q1786 1601 1761 1587M1742 1547Q1753 1515 1753 1481M1754 1660Q1746 1646 1731 1639M1801 1565Q1800 1544 1788 1526M1771 1532Q1776 1515 1774 1497M1485 1520Q1474 1516 1467 1507M1563 1626Q1536 1623 1510 1615M1662 1660Q1652 1653 1640 1650M1494 1658Q1483 1660 1472 1662M1827 1577Q1813 1562 1796 1549M1657 1581Q1643 1557 1626 1534M1863 1538Q1850 1517 1838 1494M1732 1643Q1716 1633 1700 1623M1718 1597Q1707 1569 1695 1542M1832 1555Q1827 1537 1816 1524M1716 1698Q1697 1693 1678 1687M1527 1563Q1503 1550 1480 1536M1550 1760Q1542 1777 1527 1787M1472 1725Q1458 1737 1446 1751M1751 1771Q1739 1776 1728 1770M1792 1513Q1795 1501 1791 1489M1647 1686Q1636 1681 1624 1679M1609 1728Q1582 1738 1553 1743M1690 1645Q1663 1629 1641 1606M1678 1658Q1668 1642 1650 1635M1644 1583Q1633 1570 1624 1555M1563 1684Q1533 1698 1502 1708M1546 1715Q1519 1734 1491 1752M1600 1592Q1589 1577 1579 1561M1824 1762Q1794 1748 1762 1744M1476 1673Q1460 1685 1442 1691M1828 1585Q1817 1566 1800 1551M1860 1510Q1860 1491 1854 1472M1579 1736Q1565 1740 1552 1748M1891 1634Q1863 1633 1837 1622M1867 1634Q1850 1634 1833 1630M1579 1633Q1565 1635 1554 1627M1536 1566Q1520 1553 1502 1543M1600 1713Q1575 1736 1544 1751M1866 1706Q1844 1709 1822 1708M1485 1684Q1463 1707 1435 1722M1825 1682Q1797 1682 1772 1672M1726 1496Q1734 1478 1734 1458M1730 1683Q1710 1678 1691 1670M1661 1545Q1661 1527 1663 1510M1604 1679Q1573 1674 1542 1672M1896 1721Q1864 1713 1831 1712M1880 1616Q1864 1617 1850 1610M1760 1532Q1767 1504 1767 1476M1873 1644Q1850 1636 1826 1635M1508 1492Q1501 1483 1492 1477M1730 1573Q1717 1558 1713 1538M1781 1756Q1760 1756 1738 1756M1489 1542Q1460 1533 1433 1518M1664 1725Q1651 1733 1636 1732M1590 1573Q1577 1565 1574 1550M1814 1670Q1787 1655 1759 1644M1683 1635Q1668 1608 1648 1584M1669 1577Q1665 1566 1660 1555M1489 1494Q1472 1479 1459 1460M1852 1573Q1832 1547 1807 1527M1800 1602Q1787 1577 1767 1555M1650 1751Q1628 1762 1607 1775M1557 1600Q1531 1577 1502 1558M1782 1741Q1753 1733 1725 1719M1495 1621Q1464 1621 1434 1618M1612 1698Q1582 1696 1551 1693M1834 1550Q1829 1537 1821 1526M1569 1634Q1543 1619 1513 1614M1563 1738Q1548 1746 1531 1749M1705 1712Q1677 1709 1649 1706M1708 1570Q1711 1537 1704 1505M1595 1510Q1593 1493 1584 1479M1475 1553Q1464 1539 1448 1533M1871 1562Q1853 1534 1827 1514M1508 1743Q1494 1752 1483 1765M1700 1663Q1680 1650 1665 1631M1876 1560Q1854 1545 1839 1523M1809 1619Q1790 1605 1778 1585M1490 1512Q1460 1495 1428 1480M1893 1630Q1868 1624 1842 1628M1654 1711Q1625 1710 1596 1711M1768 1661Q1752 1654 1739 1642M1672 1542Q1676 1511 1670 1481M1555 1504Q1537 1480 1528 1451M1674 1728Q1657 1734 1639 1733M1551 1624Q1521 1617 1490 1615M1491 1549Q1480 1545 1471 1540M1623 1539Q1620 1508 1623 1478M1654 1586Q1648 1571 1633 1562M1485 1687Q1466 1700 1446 1711M1561 1508Q1555 1497 1558 1486M1879 1755Q1856 1757 1835 1752M1495 1707Q1478 1718 1460 1728M1671 1621Q1663 1606 1652 1594M1556 1684Q1533 1693 1508 1696M1614 1688Q1598 1686 1581 1686M1747 1754Q1736 1752 1725 1748M1727 1583Q1722 1568 1713 1557M1899 1610Q1873 1597 1844 1591M1518 1703Q1503 1723 1482 1736M1633 1746Q1608 1748 1587 1761M1558 1640Q1532 1637 1505 1636M1700 1687Q1681 1670 1658 1660M1540 1535Q1519 1515 1503 1492M1630 1616Q1626 1603 1614 1595M1536 1603Q1508 1595 1481 1589M1871 1739Q1857 1731 1841 1733M1604 1566Q1598 1536 1600 1506M1607 1644Q1587 1635 1567 1631M1702 1531Q1710 1508 1709 1483M1616 1699Q1597 1699 1581 1691M1537 1594Q1518 1582 1500 1569M1807 1612Q1794 1605 1783 1595M1712 1604Q1697 1580 1676 1560M1554 1626Q1535 1617 1513 1616M1703 1554Q1700 1543 1703 1531M1793 1720Q1774 1717 1757 1709M1759 1747Q1727 1745 1695 1749M1640 1723Q1609 1732 1580 1747M1669 1542Q1663 1513 1666 1484M1762 1546Q1751 1519 1751 1490M1649 1631Q1630 1608 1616 1582M1507 1505Q1489 1498 1474 1486M1646 1622Q1627 1600 1617 1572M1457 1553Q1448 1544 1436 1542M1490 1579Q1466 1561 1438 1550M1696 1664Q1671 1640 1641 1624M1781 1604Q1769 1582 1752 1564M1796 1770Q1786 1764 1774 1760M1865 1643Q1851 1645 1837 1642M1792 1531Q1784 1506 1785 1480M1676 1700Q1648 1698 1621 1699M1855 1534Q1849 1509 1838 1487M1566 1585Q1552 1559 1530 1539M1747 1616Q1729 1586 1705 1562M1457 1751Q1457 1769 1447 1784M1594 1741Q1564 1752 1534 1764M1586 1741Q1566 1760 1545 1780M1567 1727Q1539 1741 1516 1761M1586 1594Q1571 1564 1548 1538M1879 1724Q1850 1732 1821 1733M1895 1660Q1867 1662 1839 1666M1745 1516Q1746 1499 1752 1483M1812 1731Q1794 1729 1780 1718M1566 1686Q1544 1692 1521 1690M1577 1673Q1544 1661 1510 1653M1734 1742Q1707 1741 1682 1750M1639 1498Q1655 1473 1663 1444M1585 1553Q1576 1542 1568 1530M1609 1603Q1596 1581 1587 1556M1809 1508Q1804 1496 1810 1485M1503 1513Q1483 1493 1472 1466M1593 1604Q1573 1586 1549 1575M1837 1713Q1811 1701 1783 1697" stroke="#555552" stroke-width="1.1" fill="none" opacity="0.45" stroke-linecap="round"/>
<path d="M1882 1588Q1857 1566 1828 1549M1776 1669Q1743 1660 1711 1647M1490 1756Q1483 1776 1473 1796M1690 1669Q1668 1650 1647 1630M1730 1607Q1721 1578 1709 1550M1471 1625Q1451 1627 1432 1622M1652 1562Q1650 1533 1639 1506M1561 1504Q1563 1489 1555 1476M1524 1499Q1513 1485 1503 1473M1534 1648Q1509 1641 1485 1634M1745 1703Q1712 1692 1677 1692M1862 1654Q1835 1654 1811 1644M1524 1617Q1510 1609 1496 1602M1648 1744Q1619 1754 1588 1759M1576 1645Q1546 1642 1517 1635M1706 1578Q1705 1564 1700 1551M1530 1723Q1525 1737 1511 1744M1695 1754Q1676 1754 1657 1753M1526 1735Q1504 1744 1487 1761M1792 1547Q1779 1524 1776 1497M1581 1700Q1556 1705 1529 1705M1608 1510Q1616 1494 1614 1475M1726 1567Q1725 1544 1725 1522M1602 1563Q1589 1551 1581 1534M1844 1542Q1832 1533 1825 1520M1650 1699Q1623 1704 1596 1713M1694 1632Q1683 1624 1670 1617M1749 1633Q1738 1628 1731 1618M1504 1689Q1475 1698 1446 1705M1779 1519Q1778 1497 1777 1474M1873 1719Q1846 1716 1818 1713M1509 1702Q1500 1711 1490 1719M1608 1720Q1576 1732 1546 1750M1889 1718Q1866 1720 1843 1724M1558 1648Q1542 1648 1527 1646M1591 1563Q1578 1539 1563 1516M1861 1673Q1840 1674 1819 1676M1700 1728Q1685 1723 1670 1728M1769 1701Q1744 1691 1717 1692M1552 1672Q1522 1671 1493 1675M1713 1609Q1702 1599 1701 1585M1611 1624Q1585 1602 1556 1583M1822 1736Q1804 1733 1786 1731M1846 1635Q1819 1621 1799 1599M1682 1709Q1660 1699 1637 1693M1763 1757Q1729 1748 1698 1732M1716 1567Q1717 1545 1711 1523M1504 1664Q1473 1671 1442 1669M1780 1551Q1785 1518 1782 1485M1511 1735Q1504 1747 1491 1748M1594 1725Q1571 1742 1543 1749M1495 1530Q1465 1520 1436 1507M1578 1487Q1575 1471 1565 1457M1883 1618Q1858 1601 1829 1593M1616 1679Q1583 1672 1552 1660M1707 1539Q1713 1516 1711 1492M1501 1636Q1477 1639 1455 1646M1779 1576Q1768 1563 1763 1547M1598 1667Q1570 1670 1543 1676M1471 1643Q1457 1648 1443 1641M1807 1646Q1792 1638 1779 1627M1665 1552Q1666 1541 1665 1529M1718 1545Q1721 1515 1721 1484M1816 1603Q1793 1588 1771 1572M1664 1689Q1634 1686 1605 1692M1717 1538Q1720 1518 1716 1499M1508 1591Q1497 1587 1487 1583M1659 1742Q1628 1751 1597 1760M1629 1650Q1612 1646 1596 1637M1774 1740Q1761 1735 1748 1730M1565 1492Q1556 1483 1556 1470M1557 1681Q1527 1688 1498 1698M1639 1623Q1625 1599 1613 1574M1599 1550Q1589 1530 1579 1509M1835 1691Q1814 1687 1795 1675M1885 1612Q1859 1609 1833 1610M1607 1496Q1603 1482 1603 1468M1596 1574Q1579 1543 1571 1509M1533 1540Q1524 1519 1507 1506M1502 1508Q1478 1489 1450 1476M1846 1701Q1816 1691 1785 1688M1847 1637Q1821 1631 1795 1629M1747 1751Q1727 1756 1707 1757M1577 1504Q1576 1469 1562 1436M1815 1646Q1792 1644 1773 1631M1842 1584Q1830 1570 1821 1555M1804 1740Q1772 1733 1740 1728M1722 1507Q1736 1482 1741 1454M1748 1691Q1724 1678 1698 1668M1896 1614Q1869 1618 1844 1610M1809 1525Q1800 1509 1798 1491M1580 1529Q1576 1513 1575 1498M1852 1699Q1822 1688 1791 1685M1523 1672Q1509 1673 1499 1682M1563 1692Q1537 1690 1513 1700M1587 1742Q1575 1745 1563 1748M1632 1600Q1611 1576 1600 1546M1764 1767Q1748 1762 1730 1760M1868 1654Q1844 1637 1816 1629M1627 1494Q1625 1472 1625 1450M1834 1580Q1820 1572 1813 1558M1782 1719Q1761 1705 1738 1699M1893 1677Q1866 1680 1841 1671M1829 1573Q1814 1542 1805 1509M1670 1502Q1669 1486 1676 1471M1720 1679Q1685 1674 1653 1660M1688 1658Q1677 1653 1666 1647M1636 1710Q1624 1712 1612 1716M1889 1765Q1857 1764 1826 1758M1483 1529Q1457 1522 1433 1509M1733 1595Q1719 1566 1711 1536M1698 1537Q1709 1507 1713 1477M1634 1711Q1616 1706 1597 1707M1492 1597Q1476 1593 1464 1583M1600 1556Q1597 1543 1587 1536M1891 1746Q1857 1744 1824 1736M1856 1713Q1823 1710 1791 1709M1520 1715Q1500 1728 1481 1740M1713 1684Q1692 1684 1672 1681M1564 1512Q1550 1482 1536 1452M1745 1657Q1730 1639 1712 1622M1776 1603Q1765 1585 1753 1568M1647 1620Q1643 1606 1630 1598M1564 1701Q1553 1703 1542 1702M1614 1759Q1590 1767 1572 1784M1596 1568Q1589 1557 1579 1549M1598 1721Q1572 1734 1543 1742M1882 1502Q1872 1481 1860 1461M1649 1514Q1660 1492 1663 1469M1557 1566Q1544 1539 1535 1511M1587 1573Q1575 1544 1554 1521M1545 1728Q1534 1736 1522 1740M1540 1539Q1526 1520 1506 1508M1770 1508Q1774 1490 1781 1472M1808 1669Q1793 1663 1782 1652M1629 1752Q1608 1755 1588 1763M1481 1748Q1470 1766 1454 1780M1584 1593Q1582 1581 1572 1574M1825 1756Q1797 1747 1769 1744M1636 1687Q1603 1699 1568 1701M1680 1736Q1660 1739 1641 1739M1748 1595Q1733 1580 1727 1561M1610 1612Q1603 1601 1590 1595M1899 1574Q1872 1561 1846 1547M1830 1668Q1807 1661 1785 1653M1486 1601Q1468 1589 1448 1582M1884 1640Q1859 1636 1835 1643M1730 1595Q1727 1582 1718 1571M1612 1710Q1580 1705 1547 1708M1672 1685Q1641 1677 1608 1678M1482 1626Q1468 1629 1453 1627M1506 1615Q1476 1606 1444 1602M1848 1665Q1823 1659 1798 1651M1670 1756Q1639 1766 1605 1767M1589 1658Q1576 1654 1565 1646M1530 1624Q1519 1622 1510 1615M1682 1757Q1652 1765 1622 1776M1723 1596Q1707 1573 1693 1548M1684 1600Q1666 1580 1657 1554M1538 1669Q1517 1684 1493 1691M1767 1684Q1754 1681 1741 1680M1541 1645Q1517 1652 1491 1655M1769 1684Q1747 1670 1727 1653M1619 1731Q1587 1744 1552 1750M1579 1709Q1566 1714 1554 1722M1842 1621Q1811 1607 1782 1589M1504 1604Q1480 1603 1459 1591M1889 1702Q1858 1690 1825 1689M1627 1513Q1626 1500 1625 1488M1511 1647Q1490 1642 1469 1637M1623 1698Q1610 1701 1598 1693M1693 1497Q1697 1486 1702 1475M1754 1785Q1725 1774 1695 1767M1711 1530Q1711 1509 1719 1490M1643 1636Q1623 1609 1599 1584M1615 1624Q1586 1608 1554 1600M1539 1747Q1512 1766 1488 1788M1583 1591Q1573 1562 1557 1536M1772 1605Q1758 1595 1754 1578M1539 1646Q1521 1650 1504 1644M1675 1601Q1661 1571 1652 1540M1534 1626Q1519 1623 1503 1623M1697 1533Q1702 1505 1703 1476M1859 1759Q1833 1762 1808 1760M1859 1759Q1841 1758 1822 1757M1501 1613Q1472 1602 1442 1600M1727 1622Q1714 1605 1703 1586M1819 1762Q1793 1761 1769 1750M1481 1696Q1467 1716 1451 1735M1484 1635Q1465 1637 1445 1635M1848 1699Q1826 1692 1803 1689M1542 1621Q1527 1614 1511 1617M1797 1547Q1795 1520 1797 1493M1742 1711Q1731 1704 1718 1704M1516 1736Q1489 1755 1466 1779M1523 1733Q1505 1758 1484 1779M1473 1628Q1447 1623 1420 1620M1707 1659Q1688 1631 1663 1608M1571 1742Q1550 1758 1525 1767M1686 1752Q1676 1756 1665 1756M1865 1548Q1842 1523 1817 1499M1593 1505Q1584 1492 1582 1477M1512 1641Q1498 1642 1488 1634M1771 1629Q1756 1609 1740 1591M1790 1716Q1767 1702 1741 1691M1795 1735Q1762 1732 1729 1737M1715 1635Q1694 1617 1678 1595M1845 1570Q1832 1555 1815 1546M1715 1563Q1717 1529 1720 1496M1640 1594Q1631 1584 1630 1570M1886 1752Q1860 1755 1833 1756M1755 1519Q1758 1492 1767 1466M1889 1716Q1861 1707 1834 1701M1459 1739Q1445 1748 1439 1762M1694 1731Q1680 1726 1668 1733M1477 1664Q1464 1667 1450 1668M1802 1781Q1776 1773 1748 1770M1707 1585Q1699 1574 1690 1564M1569 1633Q1541 1619 1513 1609M1637 1655Q1616 1648 1595 1644M1497 1603Q1482 1590 1463 1588M1665 1570Q1666 1544 1662 1518M1763 1559Q1757 1538 1758 1516M1509 1532Q1493 1505 1472 1480M1528 1607Q1505 1588 1482 1571M1682 1500Q1687 1481 1693 1463M1781 1666Q1756 1648 1728 1635M1685 1690Q1669 1689 1654 1681M1548 1636Q1524 1633 1500 1637M1544 1744Q1535 1758 1522 1769M1663 1608Q1651 1602 1647 1589M1635 1568Q1641 1536 1636 1504M1579 1610Q1557 1604 1539 1590M1766 1557Q1763 1542 1762 1527M1465 1676Q1448 1691 1427 1701M1619 1550Q1618 1521 1610 1493M1601 1509Q1603 1494 1592 1483M1623 1698Q1604 1702 1586 1698M1634 1672Q1622 1675 1612 1667M1741 1564Q1731 1542 1727 1517M1612 1560Q1607 1536 1606 1511M1510 1672Q1493 1685 1472 1693" stroke="#c8c8c3" stroke-width="1" fill="none" opacity="0.28" stroke-linecap="round"/>
<g fill="#d0402a" opacity="0.45"><circle cx="1548.9" cy="1734.7" r="0.9"/><circle cx="1466.3" cy="1692.5" r="1.2"/><circle cx="1536.9" cy="1739.6" r="1.1"/><circle cx="1546.4" cy="1665.2" r="1.2"/><circle cx="1470.2" cy="1601.5" r="1.1"/><circle cx="1820.0" cy="1718.9" r="1.0"/><circle cx="1737.2" cy="1701.3" r="0.9"/><circle cx="1684.1" cy="1565.1" r="0.8"/><circle cx="1729.9" cy="1510.5" r="0.9"/><circle cx="1707.0" cy="1543.7" r="0.9"/><circle cx="1630.3" cy="1586.5" r="1.2"/><circle cx="1790.0" cy="1702.4" r="1.1"/><circle cx="1528.0" cy="1582.8" r="0.9"/><circle cx="1748.8" cy="1694.2" r="0.9"/><circle cx="1724.5" cy="1590.4" r="0.9"/><circle cx="1688.6" cy="1687.8" r="0.9"/><circle cx="1823.9" cy="1669.9" r="0.7"/><circle cx="1678.5" cy="1638.4" r="0.8"/><circle cx="1531.5" cy="1709.2" r="0.9"/><circle cx="1732.7" cy="1568.8" r="0.8"/><circle cx="1534.2" cy="1558.1" r="1.3"/><circle cx="1817.7" cy="1503.9" r="0.7"/><circle cx="1716.8" cy="1634.4" r="0.9"/><circle cx="1538.3" cy="1526.2" r="1.2"/><circle cx="1825.8" cy="1588.7" r="1.0"/><circle cx="1804.3" cy="1630.9" r="1.4"/><circle cx="1704.8" cy="1646.6" r="0.8"/><circle cx="1610.7" cy="1704.7" r="1.0"/><circle cx="1795.9" cy="1497.5" r="1.2"/><circle cx="1551.1" cy="1580.0" r="1.1"/><circle cx="1643.3" cy="1721.5" r="1.2"/><circle cx="1533.2" cy="1551.5" r="1.3"/><circle cx="1618.6" cy="1717.4" r="1.3"/><circle cx="1503.4" cy="1631.7" r="0.7"/><circle cx="1785.9" cy="1532.7" r="1.3"/><circle cx="1609.1" cy="1552.5" r="1.4"/><circle cx="1525.9" cy="1588.7" r="1.0"/><circle cx="1471.1" cy="1543.2" r="1.3"/><circle cx="1839.4" cy="1589.7" r="1.0"/><circle cx="1624.8" cy="1536.2" r="1.4"/><circle cx="1676.9" cy="1545.7" r="1.4"/><circle cx="1586.0" cy="1620.0" r="1.1"/><circle cx="1660.2" cy="1589.8" r="0.8"/><circle cx="1828.0" cy="1685.7" r="0.7"/><circle cx="1822.7" cy="1628.3" r="1.0"/><circle cx="1710.0" cy="1703.2" r="0.7"/><circle cx="1557.2" cy="1741.3" r="1.2"/><circle cx="1506.1" cy="1538.8" r="1.1"/><circle cx="1595.4" cy="1695.2" r="1.0"/><circle cx="1572.4" cy="1645.1" r="1.0"/><circle cx="1582.1" cy="1569.0" r="0.8"/><circle cx="1649.5" cy="1645.7" r="0.9"/><circle cx="1567.9" cy="1741.8" r="1.1"/><circle cx="1762.6" cy="1685.1" r="1.2"/><circle cx="1706.7" cy="1580.0" r="0.7"/><circle cx="1694.7" cy="1499.1" r="1.2"/><circle cx="1645.4" cy="1571.9" r="0.8"/><circle cx="1695.4" cy="1719.3" r="1.2"/><circle cx="1619.0" cy="1709.3" r="1.0"/><circle cx="1557.3" cy="1650.2" r="0.9"/><circle cx="1596.7" cy="1687.9" r="1.0"/><circle cx="1540.1" cy="1527.5" r="1.2"/><circle cx="1629.5" cy="1673.7" r="1.2"/><circle cx="1624.0" cy="1681.0" r="0.7"/><circle cx="1631.9" cy="1674.1" r="1.1"/><circle cx="1778.9" cy="1744.7" r="1.1"/><circle cx="1507.6" cy="1709.1" r="1.0"/><circle cx="1534.4" cy="1501.6" r="1.1"/><circle cx="1509.7" cy="1610.2" r="0.9"/><circle cx="1789.8" cy="1552.1" r="1.1"/><circle cx="1606.1" cy="1589.1" r="1.3"/><circle cx="1708.1" cy="1603.0" r="1.3"/><circle cx="1631.6" cy="1634.9" r="1.0"/><circle cx="1532.7" cy="1558.1" r="0.9"/><circle cx="1577.0" cy="1691.0" r="0.7"/><circle cx="1503.3" cy="1674.2" r="1.0"/><circle cx="1816.4" cy="1754.7" r="1.0"/><circle cx="1770.4" cy="1499.3" r="1.2"/><circle cx="1518.3" cy="1558.9" r="0.9"/><circle cx="1570.0" cy="1595.7" r="0.9"/><circle cx="1631.1" cy="1720.6" r="1.0"/><circle cx="1489.7" cy="1676.2" r="1.2"/><circle cx="1554.8" cy="1602.9" r="1.1"/><circle cx="1769.0" cy="1610.7" r="1.0"/><circle cx="1613.9" cy="1665.4" r="1.4"/><circle cx="1768.6" cy="1645.1" r="0.7"/><circle cx="1749.0" cy="1691.4" r="0.8"/><circle cx="1569.8" cy="1663.4" r="1.3"/><circle cx="1560.8" cy="1683.2" r="1.4"/><circle cx="1708.3" cy="1701.8" r="1.2"/><circle cx="1677.8" cy="1632.1" r="1.2"/><circle cx="1685.0" cy="1492.3" r="0.7"/><circle cx="1734.9" cy="1551.8" r="1.4"/><circle cx="1599.9" cy="1598.5" r="1.1"/><circle cx="1806.7" cy="1647.1" r="0.9"/><circle cx="1687.9" cy="1731.9" r="0.8"/><circle cx="1488.4" cy="1642.8" r="0.8"/><circle cx="1561.3" cy="1507.4" r="1.2"/><circle cx="1634.6" cy="1737.7" r="0.9"/><circle cx="1727.9" cy="1554.3" r="0.8"/><circle cx="1741.2" cy="1732.8" r="1.0"/><circle cx="1610.2" cy="1657.2" r="1.1"/><circle cx="1590.9" cy="1648.9" r="1.3"/><circle cx="1652.1" cy="1703.1" r="1.1"/><circle cx="1630.0" cy="1588.4" r="1.2"/><circle cx="1685.3" cy="1613.6" r="1.1"/><circle cx="1613.2" cy="1669.6" r="1.3"/><circle cx="1593.9" cy="1652.5" r="0.9"/><circle cx="1777.9" cy="1623.1" r="1.2"/><circle cx="1683.0" cy="1594.5" r="0.8"/><circle cx="1670.4" cy="1506.1" r="1.3"/><circle cx="1648.8" cy="1585.4" r="1.3"/><circle cx="1579.1" cy="1511.1" r="1.2"/><circle cx="1788.4" cy="1668.2" r="0.8"/><circle cx="1530.5" cy="1493.6" r="0.7"/><circle cx="1578.6" cy="1732.8" r="0.9"/><circle cx="1541.4" cy="1602.8" r="0.9"/><circle cx="1815.0" cy="1690.9" r="1.1"/><circle cx="1680.4" cy="1546.2" r="1.1"/><circle cx="1743.5" cy="1679.5" r="1.0"/><circle cx="1469.5" cy="1495.6" r="0.9"/><circle cx="1473.4" cy="1730.1" r="1.2"/><circle cx="1518.2" cy="1521.4" r="1.2"/><circle cx="1675.8" cy="1597.4" r="1.4"/><circle cx="1839.9" cy="1569.2" r="0.9"/><circle cx="1746.6" cy="1738.8" r="1.4"/><circle cx="1826.4" cy="1584.2" r="0.8"/><circle cx="1692.1" cy="1667.0" r="1.1"/><circle cx="1540.5" cy="1746.2" r="1.3"/><circle cx="1621.6" cy="1579.0" r="1.0"/><circle cx="1583.4" cy="1699.4" r="1.0"/><circle cx="1588.4" cy="1745.6" r="1.2"/><circle cx="1743.8" cy="1732.1" r="1.1"/><circle cx="1843.0" cy="1515.1" r="1.0"/><circle cx="1844.0" cy="1613.9" r="0.7"/><circle cx="1811.5" cy="1551.0" r="1.2"/><circle cx="1747.7" cy="1729.7" r="1.0"/><circle cx="1745.1" cy="1534.4" r="0.9"/><circle cx="1699.8" cy="1723.7" r="0.7"/><circle cx="1625.4" cy="1723.9" r="1.4"/><circle cx="1479.5" cy="1745.3" r="0.9"/><circle cx="1661.8" cy="1511.2" r="0.9"/><circle cx="1845.6" cy="1498.9" r="1.1"/><circle cx="1547.0" cy="1524.6" r="0.9"/><circle cx="1797.5" cy="1564.8" r="1.2"/><circle cx="1829.9" cy="1711.7" r="0.9"/><circle cx="1480.5" cy="1542.2" r="1.1"/><circle cx="1623.1" cy="1748.7" r="0.8"/><circle cx="1563.4" cy="1547.1" r="1.3"/><circle cx="1581.2" cy="1669.9" r="1.3"/><circle cx="1553.8" cy="1730.3" r="0.9"/><circle cx="1565.0" cy="1723.9" r="1.3"/><circle cx="1739.8" cy="1586.7" r="1.1"/><circle cx="1610.5" cy="1529.3" r="1.1"/><circle cx="1715.5" cy="1523.1" r="1.2"/><circle cx="1634.9" cy="1719.9" r="1.2"/><circle cx="1639.6" cy="1598.8" r="1.0"/><circle cx="1646.6" cy="1600.1" r="1.3"/><circle cx="1734.5" cy="1753.7" r="1.3"/><circle cx="1832.8" cy="1619.4" r="0.8"/><circle cx="1707.9" cy="1517.6" r="1.0"/><circle cx="1738.6" cy="1539.5" r="1.3"/><circle cx="1552.7" cy="1719.0" r="0.9"/><circle cx="1529.3" cy="1686.1" r="1.3"/><circle cx="1821.4" cy="1538.3" r="1.2"/><circle cx="1795.3" cy="1658.6" r="1.1"/><circle cx="1527.4" cy="1719.4" r="0.9"/><circle cx="1607.1" cy="1634.0" r="1.3"/><circle cx="1726.4" cy="1653.8" r="0.8"/><circle cx="1667.5" cy="1516.5" r="1.2"/><circle cx="1760.1" cy="1641.8" r="0.9"/><circle cx="1671.4" cy="1557.2" r="1.1"/><circle cx="1761.7" cy="1510.6" r="0.7"/><circle cx="1839.8" cy="1623.6" r="1.1"/><circle cx="1823.4" cy="1581.4" r="1.3"/><circle cx="1725.3" cy="1739.7" r="1.2"/><circle cx="1538.0" cy="1712.1" r="1.4"/><circle cx="1562.2" cy="1749.2" r="1.3"/><circle cx="1791.2" cy="1589.0" r="1.3"/><circle cx="1625.8" cy="1642.1" r="1.4"/><circle cx="1740.4" cy="1589.9" r="1.0"/><circle cx="1590.6" cy="1671.8" r="1.0"/><circle cx="1582.5" cy="1640.5" r="1.2"/><circle cx="1642.9" cy="1614.8" r="1.3"/><circle cx="1535.4" cy="1545.8" r="1.2"/><circle cx="1601.0" cy="1715.5" r="1.3"/><circle cx="1744.1" cy="1650.7" r="0.9"/><circle cx="1741.0" cy="1687.4" r="1.1"/><circle cx="1579.4" cy="1706.4" r="0.7"/><circle cx="1702.5" cy="1643.6" r="0.9"/><circle cx="1606.0" cy="1506.6" r="1.0"/><circle cx="1730.0" cy="1555.6" r="1.4"/><circle cx="1627.7" cy="1582.7" r="0.9"/><circle cx="1811.3" cy="1583.3" r="0.7"/><circle cx="1812.8" cy="1566.5" r="1.0"/><circle cx="1488.6" cy="1523.7" r="0.8"/><circle cx="1762.5" cy="1698.7" r="1.0"/><circle cx="1627.2" cy="1498.9" r="0.8"/><circle cx="1474.1" cy="1664.8" r="1.0"/><circle cx="1619.3" cy="1616.6" r="1.1"/><circle cx="1751.4" cy="1688.9" r="0.9"/><circle cx="1717.8" cy="1593.9" r="1.2"/><circle cx="1503.7" cy="1538.2" r="1.0"/><circle cx="1780.3" cy="1715.5" r="0.7"/><circle cx="1782.7" cy="1739.1" r="1.1"/><circle cx="1474.8" cy="1607.0" r="1.0"/><circle cx="1589.3" cy="1645.2" r="0.8"/><circle cx="1629.7" cy="1625.3" r="1.3"/><circle cx="1654.7" cy="1703.3" r="0.8"/><circle cx="1752.0" cy="1721.5" r="0.8"/><circle cx="1595.0" cy="1529.0" r="1.2"/><circle cx="1738.5" cy="1664.8" r="1.2"/><circle cx="1773.5" cy="1625.7" r="0.9"/><circle cx="1650.7" cy="1615.3" r="0.9"/><circle cx="1754.4" cy="1703.2" r="1.4"/><circle cx="1510.3" cy="1747.2" r="0.9"/><circle cx="1671.7" cy="1646.4" r="1.2"/><circle cx="1540.5" cy="1520.3" r="1.1"/><circle cx="1814.2" cy="1659.6" r="1.0"/><circle cx="1707.8" cy="1521.2" r="1.3"/><circle cx="1752.4" cy="1656.6" r="1.1"/><circle cx="1836.4" cy="1742.9" r="0.8"/><circle cx="1785.0" cy="1550.9" r="1.1"/><circle cx="1838.7" cy="1689.2" r="0.9"/><circle cx="1557.9" cy="1678.5" r="1.4"/><circle cx="1580.9" cy="1643.8" r="1.1"/><circle cx="1781.0" cy="1679.0" r="1.4"/><circle cx="1797.4" cy="1702.7" r="0.8"/><circle cx="1813.9" cy="1712.9" r="0.9"/><circle cx="1526.0" cy="1563.6" r="0.9"/><circle cx="1796.5" cy="1704.7" r="1.3"/><circle cx="1494.2" cy="1701.5" r="1.1"/><circle cx="1522.1" cy="1527.4" r="0.9"/><circle cx="1571.7" cy="1702.1" r="0.7"/><circle cx="1797.8" cy="1539.3" r="1.1"/><circle cx="1613.8" cy="1646.5" r="0.9"/><circle cx="1485.2" cy="1559.2" r="0.8"/><circle cx="1726.1" cy="1531.0" r="0.7"/><circle cx="1603.5" cy="1675.2" r="1.2"/><circle cx="1790.4" cy="1641.5" r="1.2"/><circle cx="1535.4" cy="1520.0" r="0.7"/><circle cx="1556.9" cy="1660.6" r="1.1"/><circle cx="1755.6" cy="1668.6" r="1.1"/><circle cx="1697.0" cy="1699.7" r="0.8"/><circle cx="1507.4" cy="1750.9" r="1.0"/><circle cx="1630.4" cy="1692.8" r="1.3"/><circle cx="1834.3" cy="1543.7" r="1.2"/><circle cx="1617.7" cy="1539.4" r="1.2"/><circle cx="1784.7" cy="1609.3" r="1.0"/><circle cx="1616.9" cy="1709.8" r="1.2"/><circle cx="1801.6" cy="1581.9" r="1.0"/><circle cx="1562.9" cy="1741.4" r="0.9"/><circle cx="1526.6" cy="1528.8" r="0.7"/><circle cx="1610.9" cy="1723.8" r="1.4"/><circle cx="1796.7" cy="1560.2" r="1.4"/><circle cx="1476.5" cy="1617.5" r="0.7"/><circle cx="1652.2" cy="1534.3" r="1.2"/><circle cx="1568.3" cy="1604.2" r="1.1"/><circle cx="1469.5" cy="1629.6" r="1.2"/><circle cx="1747.2" cy="1533.1" r="0.8"/><circle cx="1637.4" cy="1516.4" r="1.0"/><circle cx="1802.2" cy="1669.0" r="0.8"/><circle cx="1637.7" cy="1649.2" r="0.7"/><circle cx="1692.5" cy="1569.0" r="0.8"/><circle cx="1824.2" cy="1623.8" r="1.0"/><circle cx="1642.9" cy="1692.4" r="1.2"/><circle cx="1659.9" cy="1518.5" r="0.8"/><circle cx="1764.7" cy="1521.1" r="1.3"/><circle cx="1697.6" cy="1535.2" r="0.7"/><circle cx="1569.3" cy="1600.9" r="0.8"/></g>
<g opacity="0.88"><circle cx="1503.5" cy="1514.9" r="1.6" fill="#b82818"/><circle cx="1502.0" cy="1516.2" r="2.1" fill="#c02d1c"/><circle cx="1507.2" cy="1515.7" r="2.1" fill="#c02d1c"/><circle cx="1503.0" cy="1518.9" r="1.6" fill="#d8402a"/><circle cx="1497.6" cy="1517.9" r="1.8" fill="#d23a22"/><circle cx="1504.0" cy="1518.4" r="1.8" fill="#d8402a"/><circle cx="1534.1" cy="1527.4" r="3.0" fill="#c02d1c"/><circle cx="1526.5" cy="1529.9" r="2.4" fill="#d23a22"/><circle cx="1533.9" cy="1524.7" r="2.7" fill="#c02d1c"/><circle cx="1520.3" cy="1542.6" r="2.8" fill="#c02d1c"/><circle cx="1521.1" cy="1545.5" r="2.2" fill="#d8402a"/><circle cx="1522.2" cy="1542.1" r="2.4" fill="#d8402a"/><circle cx="1521.5" cy="1541.3" r="1.6" fill="#cc3520"/><circle cx="1541.8" cy="1560.1" r="3.1" fill="#cc3520"/><circle cx="1542.3" cy="1560.0" r="2.0" fill="#cc3520"/><circle cx="1544.9" cy="1557.3" r="1.9" fill="#c02d1c"/><circle cx="1550.1" cy="1558.8" r="1.9" fill="#c02d1c"/><circle cx="1549.2" cy="1558.6" r="3.3" fill="#c02d1c"/><circle cx="1555.9" cy="1568.5" r="1.8" fill="#cc3520"/><circle cx="1555.3" cy="1562.6" r="1.6" fill="#c02d1c"/><circle cx="1557.0" cy="1565.7" r="2.4" fill="#d23a22"/><circle cx="1554.9" cy="1563.9" r="2.4" fill="#d8402a"/><circle cx="1552.9" cy="1579.2" r="2.8" fill="#d23a22"/><circle cx="1548.6" cy="1575.1" r="1.6" fill="#b82818"/><circle cx="1551.3" cy="1576.4" r="1.9" fill="#d23a22"/><circle cx="1549.6" cy="1574.3" r="2.1" fill="#c02d1c"/><circle cx="1545.2" cy="1576.5" r="2.5" fill="#d8402a"/><circle cx="1581.8" cy="1570.1" r="2.2" fill="#d23a22"/><circle cx="1585.6" cy="1569.6" r="1.9" fill="#cc3520"/><circle cx="1575.3" cy="1571.3" r="2.3" fill="#d23a22"/><circle cx="1585.4" cy="1567.7" r="3.4" fill="#d8402a"/><circle cx="1577.2" cy="1568.5" r="2.8" fill="#d23a22"/><circle cx="1592.3" cy="1561.7" r="3.2" fill="#d23a22"/><circle cx="1590.5" cy="1563.8" r="2.6" fill="#d23a22"/><circle cx="1585.7" cy="1562.5" r="2.0" fill="#cc3520"/><circle cx="1583.0" cy="1531.6" r="1.6" fill="#b82818"/><circle cx="1584.7" cy="1526.0" r="1.4" fill="#b82818"/><circle cx="1581.9" cy="1537.3" r="3.3" fill="#d23a22"/><circle cx="1585.3" cy="1537.3" r="2.5" fill="#b82818"/><circle cx="1585.1" cy="1526.3" r="1.9" fill="#b82818"/><circle cx="1623.6" cy="1533.9" r="2.6" fill="#c02d1c"/><circle cx="1625.3" cy="1533.8" r="3.2" fill="#d23a22"/><circle cx="1628.0" cy="1529.4" r="1.5" fill="#cc3520"/><circle cx="1633.5" cy="1521.6" r="1.6" fill="#c02d1c"/><circle cx="1642.0" cy="1516.3" r="1.6" fill="#d23a22"/><circle cx="1639.6" cy="1515.2" r="2.9" fill="#d23a22"/><circle cx="1632.9" cy="1518.3" r="3.2" fill="#cc3520"/><circle cx="1635.5" cy="1541.5" r="2.4" fill="#cc3520"/><circle cx="1633.7" cy="1535.7" r="1.7" fill="#d23a22"/><circle cx="1630.7" cy="1534.3" r="3.3" fill="#b82818"/><circle cx="1631.2" cy="1533.9" r="1.6" fill="#d23a22"/><circle cx="1631.2" cy="1534.4" r="3.4" fill="#b82818"/><circle cx="1704.4" cy="1512.8" r="1.9" fill="#cc3520"/><circle cx="1701.1" cy="1510.9" r="1.4" fill="#d23a22"/><circle cx="1702.9" cy="1512.0" r="2.9" fill="#d8402a"/><circle cx="1703.9" cy="1509.6" r="2.1" fill="#d8402a"/><circle cx="1703.0" cy="1512.6" r="1.8" fill="#cc3520"/><circle cx="1702.7" cy="1509.0" r="2.9" fill="#cc3520"/><circle cx="1695.5" cy="1543.0" r="1.5" fill="#d8402a"/><circle cx="1701.1" cy="1541.7" r="2.1" fill="#cc3520"/><circle cx="1717.1" cy="1536.8" r="2.0" fill="#cc3520"/><circle cx="1719.3" cy="1540.1" r="1.5" fill="#d8402a"/><circle cx="1718.0" cy="1533.5" r="3.2" fill="#cc3520"/><circle cx="1719.0" cy="1536.2" r="3.0" fill="#d23a22"/><circle cx="1715.8" cy="1533.3" r="2.8" fill="#c02d1c"/><circle cx="1720.4" cy="1557.7" r="1.6" fill="#c02d1c"/><circle cx="1726.9" cy="1555.7" r="3.1" fill="#d8402a"/><circle cx="1728.9" cy="1555.4" r="2.2" fill="#d8402a"/><circle cx="1726.7" cy="1558.1" r="2.6" fill="#c02d1c"/><circle cx="1722.5" cy="1556.1" r="2.6" fill="#b82818"/><circle cx="1728.7" cy="1567.2" r="1.8" fill="#d8402a"/><circle cx="1735.5" cy="1564.4" r="3.2" fill="#cc3520"/><circle cx="1731.0" cy="1565.7" r="2.5" fill="#cc3520"/><circle cx="1725.9" cy="1566.5" r="1.8" fill="#cc3520"/><circle cx="1728.9" cy="1564.4" r="3.3" fill="#cc3520"/><circle cx="1743.5" cy="1561.8" r="1.9" fill="#c02d1c"/><circle cx="1748.7" cy="1564.1" r="2.9" fill="#cc3520"/><circle cx="1745.5" cy="1562.5" r="1.7" fill="#d23a22"/><circle cx="1748.1" cy="1561.4" r="1.6" fill="#b82818"/><circle cx="1744.8" cy="1556.4" r="2.7" fill="#cc3520"/><circle cx="1755.8" cy="1552.3" r="3.3" fill="#d23a22"/><circle cx="1754.3" cy="1551.0" r="2.8" fill="#c02d1c"/><circle cx="1755.9" cy="1558.9" r="2.2" fill="#cc3520"/><circle cx="1758.1" cy="1553.9" r="1.9" fill="#b82818"/><circle cx="1754.5" cy="1554.2" r="1.7" fill="#d8402a"/><circle cx="1757.3" cy="1548.6" r="2.1" fill="#c02d1c"/><circle cx="1819.0" cy="1522.7" r="2.0" fill="#b82818"/><circle cx="1809.9" cy="1521.2" r="1.4" fill="#b82818"/><circle cx="1824.3" cy="1542.3" r="1.7" fill="#d8402a"/><circle cx="1823.2" cy="1543.6" r="3.2" fill="#c02d1c"/><circle cx="1820.3" cy="1563.4" r="2.4" fill="#d8402a"/><circle cx="1820.6" cy="1562.1" r="2.6" fill="#d23a22"/><circle cx="1824.4" cy="1560.8" r="2.5" fill="#b82818"/><circle cx="1825.1" cy="1559.4" r="2.3" fill="#cc3520"/><circle cx="1827.1" cy="1561.2" r="1.8" fill="#c02d1c"/><circle cx="1841.3" cy="1556.5" r="2.6" fill="#b82818"/><circle cx="1835.8" cy="1555.7" r="1.6" fill="#c02d1c"/><circle cx="1489.4" cy="1621.8" r="2.6" fill="#c02d1c"/><circle cx="1492.4" cy="1625.5" r="1.8" fill="#d8402a"/><circle cx="1482.4" cy="1624.6" r="3.3" fill="#b82818"/><circle cx="1486.1" cy="1622.2" r="1.7" fill="#d23a22"/><circle cx="1488.9" cy="1621.8" r="1.4" fill="#d23a22"/><circle cx="1490.5" cy="1626.6" r="2.8" fill="#cc3520"/><circle cx="1495.0" cy="1628.1" r="1.4" fill="#d23a22"/><circle cx="1516.5" cy="1636.2" r="2.4" fill="#d23a22"/><circle cx="1517.2" cy="1632.9" r="2.0" fill="#d23a22"/><circle cx="1565.8" cy="1637.6" r="2.6" fill="#d23a22"/><circle cx="1573.3" cy="1637.9" r="2.8" fill="#d23a22"/><circle cx="1573.1" cy="1634.9" r="2.2" fill="#c02d1c"/><circle cx="1574.9" cy="1637.7" r="2.9" fill="#d8402a"/><circle cx="1569.9" cy="1637.2" r="1.5" fill="#d23a22"/><circle cx="1575.8" cy="1635.7" r="1.5" fill="#b82818"/><circle cx="1598.1" cy="1640.3" r="3.1" fill="#cc3520"/><circle cx="1596.3" cy="1636.1" r="1.8" fill="#d8402a"/><circle cx="1598.0" cy="1639.1" r="1.8" fill="#b82818"/><circle cx="1593.0" cy="1637.3" r="3.1" fill="#cc3520"/><circle cx="1593.6" cy="1638.2" r="2.8" fill="#cc3520"/><circle cx="1618.2" cy="1656.8" r="1.5" fill="#cc3520"/><circle cx="1611.3" cy="1658.9" r="2.9" fill="#b82818"/><circle cx="1613.1" cy="1662.3" r="1.4" fill="#c02d1c"/><circle cx="1615.8" cy="1656.8" r="1.5" fill="#d8402a"/><circle cx="1611.2" cy="1662.2" r="3.2" fill="#cc3520"/><circle cx="1608.3" cy="1661.7" r="1.9" fill="#b82818"/><circle cx="1620.3" cy="1627.8" r="2.8" fill="#b82818"/><circle cx="1630.4" cy="1628.3" r="1.9" fill="#d23a22"/><circle cx="1620.9" cy="1631.5" r="1.8" fill="#d23a22"/><circle cx="1624.8" cy="1627.0" r="2.7" fill="#d23a22"/><circle cx="1625.4" cy="1628.7" r="1.4" fill="#d23a22"/><circle cx="1631.4" cy="1627.9" r="2.8" fill="#b82818"/><circle cx="1637.2" cy="1636.3" r="2.6" fill="#cc3520"/><circle cx="1643.8" cy="1631.5" r="3.0" fill="#b82818"/><circle cx="1643.9" cy="1630.8" r="2.4" fill="#b82818"/><circle cx="1643.8" cy="1631.6" r="1.6" fill="#cc3520"/><circle cx="1635.9" cy="1633.3" r="3.2" fill="#d23a22"/><circle cx="1644.9" cy="1613.5" r="1.5" fill="#b82818"/><circle cx="1634.4" cy="1613.0" r="2.1" fill="#b82818"/><circle cx="1639.5" cy="1612.3" r="3.2" fill="#d8402a"/><circle cx="1660.8" cy="1591.9" r="1.6" fill="#d23a22"/><circle cx="1661.6" cy="1589.9" r="2.0" fill="#cc3520"/><circle cx="1660.2" cy="1591.2" r="1.6" fill="#b82818"/><circle cx="1655.2" cy="1598.6" r="1.5" fill="#d8402a"/><circle cx="1658.2" cy="1596.1" r="2.5" fill="#d23a22"/><circle cx="1637.4" cy="1591.3" r="3.2" fill="#d23a22"/><circle cx="1634.7" cy="1587.2" r="1.9" fill="#cc3520"/><circle cx="1634.8" cy="1586.1" r="2.8" fill="#c02d1c"/><circle cx="1638.2" cy="1586.0" r="1.4" fill="#d8402a"/><circle cx="1636.5" cy="1586.4" r="2.5" fill="#d8402a"/><circle cx="1672.4" cy="1583.2" r="2.6" fill="#c02d1c"/><circle cx="1671.0" cy="1581.0" r="1.4" fill="#c02d1c"/><circle cx="1672.5" cy="1583.6" r="1.9" fill="#c02d1c"/><circle cx="1715.7" cy="1590.9" r="2.6" fill="#b82818"/><circle cx="1714.3" cy="1590.5" r="2.1" fill="#d8402a"/><circle cx="1713.3" cy="1585.7" r="3.3" fill="#cc3520"/><circle cx="1710.8" cy="1588.1" r="1.7" fill="#d8402a"/><circle cx="1720.0" cy="1588.3" r="1.6" fill="#d8402a"/><circle cx="1711.0" cy="1589.0" r="1.4" fill="#cc3520"/><circle cx="1730.8" cy="1602.1" r="1.9" fill="#c02d1c"/><circle cx="1735.7" cy="1603.5" r="2.8" fill="#cc3520"/><circle cx="1733.9" cy="1601.5" r="2.0" fill="#c02d1c"/><circle cx="1733.7" cy="1598.9" r="2.5" fill="#d8402a"/><circle cx="1778.6" cy="1598.5" r="2.1" fill="#cc3520"/><circle cx="1779.8" cy="1605.6" r="1.4" fill="#d23a22"/><circle cx="1776.1" cy="1631.0" r="1.5" fill="#d8402a"/><circle cx="1772.6" cy="1627.4" r="2.5" fill="#d8402a"/><circle cx="1777.4" cy="1633.1" r="3.2" fill="#b82818"/><circle cx="1784.8" cy="1645.5" r="2.6" fill="#b82818"/><circle cx="1786.7" cy="1647.0" r="3.2" fill="#cc3520"/><circle cx="1784.4" cy="1645.3" r="2.8" fill="#d8402a"/><circle cx="1740.4" cy="1670.7" r="3.2" fill="#d23a22"/><circle cx="1750.9" cy="1670.4" r="3.1" fill="#d8402a"/><circle cx="1746.0" cy="1669.9" r="1.6" fill="#d8402a"/><circle cx="1744.4" cy="1668.3" r="2.4" fill="#c02d1c"/><circle cx="1739.7" cy="1672.8" r="1.6" fill="#c02d1c"/><circle cx="1747.5" cy="1671.6" r="2.4" fill="#d8402a"/><circle cx="1759.9" cy="1670.6" r="3.3" fill="#d23a22"/><circle cx="1769.8" cy="1670.4" r="1.8" fill="#b82818"/><circle cx="1759.4" cy="1674.0" r="1.8" fill="#d23a22"/><circle cx="1766.5" cy="1673.4" r="1.5" fill="#d23a22"/><circle cx="1707.5" cy="1676.6" r="2.7" fill="#d23a22"/><circle cx="1706.5" cy="1677.4" r="2.8" fill="#d23a22"/><circle cx="1708.5" cy="1678.7" r="2.5" fill="#d8402a"/><circle cx="1704.4" cy="1676.2" r="1.9" fill="#b82818"/><circle cx="1698.3" cy="1678.2" r="3.0" fill="#d23a22"/><circle cx="1745.4" cy="1681.9" r="2.9" fill="#d23a22"/><circle cx="1744.2" cy="1686.3" r="1.7" fill="#b82818"/><circle cx="1741.9" cy="1680.3" r="1.7" fill="#d23a22"/><circle cx="1723.9" cy="1686.5" r="2.3" fill="#c02d1c"/><circle cx="1722.1" cy="1685.7" r="1.6" fill="#d23a22"/><circle cx="1725.6" cy="1683.2" r="3.1" fill="#c02d1c"/><circle cx="1632.2" cy="1694.2" r="3.1" fill="#c02d1c"/><circle cx="1635.8" cy="1695.6" r="3.1" fill="#d23a22"/><circle cx="1633.5" cy="1697.1" r="1.9" fill="#d23a22"/><circle cx="1632.0" cy="1696.1" r="3.2" fill="#cc3520"/><circle cx="1588.9" cy="1714.4" r="3.1" fill="#d23a22"/><circle cx="1589.7" cy="1713.9" r="3.4" fill="#d23a22"/><circle cx="1589.2" cy="1720.0" r="1.9" fill="#d23a22"/><circle cx="1591.4" cy="1710.0" r="3.2" fill="#d23a22"/><circle cx="1619.4" cy="1713.4" r="3.2" fill="#d8402a"/><circle cx="1617.6" cy="1710.6" r="2.1" fill="#cc3520"/><circle cx="1614.3" cy="1716.1" r="2.5" fill="#c02d1c"/><circle cx="1615.4" cy="1716.2" r="1.5" fill="#d23a22"/><circle cx="1617.2" cy="1712.5" r="2.0" fill="#d8402a"/><circle cx="1623.4" cy="1733.8" r="2.0" fill="#c02d1c"/><circle cx="1622.5" cy="1736.0" r="2.7" fill="#cc3520"/><circle cx="1621.3" cy="1740.1" r="1.9" fill="#b82818"/><circle cx="1605.7" cy="1738.1" r="2.1" fill="#c02d1c"/><circle cx="1600.6" cy="1740.9" r="2.8" fill="#b82818"/><circle cx="1605.1" cy="1738.2" r="2.4" fill="#d23a22"/><circle cx="1602.9" cy="1740.7" r="1.9" fill="#d8402a"/><circle cx="1605.3" cy="1737.4" r="1.9" fill="#c02d1c"/><circle cx="1575.1" cy="1744.7" r="1.5" fill="#cc3520"/><circle cx="1573.9" cy="1745.4" r="3.2" fill="#d8402a"/><circle cx="1574.6" cy="1750.0" r="2.4" fill="#c02d1c"/><circle cx="1578.6" cy="1745.7" r="1.4" fill="#d23a22"/><circle cx="1673.6" cy="1730.0" r="2.8" fill="#cc3520"/><circle cx="1668.1" cy="1729.5" r="3.4" fill="#d23a22"/><circle cx="1667.4" cy="1731.9" r="3.4" fill="#cc3520"/><circle cx="1666.8" cy="1729.8" r="2.3" fill="#c02d1c"/><circle cx="1672.7" cy="1734.0" r="3.3" fill="#d8402a"/><circle cx="1657.4" cy="1743.9" r="1.8" fill="#d8402a"/><circle cx="1663.7" cy="1744.3" r="2.9" fill="#d23a22"/><circle cx="1663.2" cy="1742.9" r="3.2" fill="#cc3520"/><circle cx="1665.6" cy="1745.4" r="2.6" fill="#cc3520"/><circle cx="1667.1" cy="1745.7" r="2.7" fill="#c02d1c"/><circle cx="1660.2" cy="1743.7" r="2.9" fill="#cc3520"/><circle cx="1730.6" cy="1723.4" r="2.1" fill="#cc3520"/><circle cx="1734.6" cy="1715.8" r="2.7" fill="#b82818"/><circle cx="1733.2" cy="1721.3" r="2.8" fill="#d23a22"/><circle cx="1732.9" cy="1717.9" r="2.6" fill="#c02d1c"/><circle cx="1734.0" cy="1719.2" r="2.7" fill="#c02d1c"/><circle cx="1764.8" cy="1713.8" r="1.9" fill="#cc3520"/><circle cx="1768.2" cy="1716.1" r="1.9" fill="#b82818"/><circle cx="1766.9" cy="1718.0" r="1.9" fill="#d23a22"/><circle cx="1764.7" cy="1712.9" r="2.0" fill="#c02d1c"/><circle cx="1764.1" cy="1713.2" r="2.8" fill="#d8402a"/><circle cx="1766.8" cy="1718.7" r="1.7" fill="#cc3520"/><circle cx="1782.2" cy="1718.9" r="2.0" fill="#cc3520"/><circle cx="1782.6" cy="1722.8" r="2.3" fill="#b82818"/><circle cx="1802.0" cy="1727.5" r="2.9" fill="#d8402a"/><circle cx="1804.6" cy="1726.7" r="1.6" fill="#c02d1c"/><circle cx="1802.9" cy="1725.2" r="3.3" fill="#b82818"/><circle cx="1799.1" cy="1716.3" r="1.4" fill="#c02d1c"/><circle cx="1801.9" cy="1715.6" r="3.4" fill="#cc3520"/><circle cx="1799.7" cy="1716.7" r="2.0" fill="#d8402a"/><circle cx="1843.7" cy="1734.5" r="1.4" fill="#cc3520"/><circle cx="1840.6" cy="1733.1" r="2.6" fill="#cc3520"/><circle cx="1840.9" cy="1731.6" r="2.1" fill="#b82818"/><circle cx="1845.0" cy="1734.0" r="1.8" fill="#c02d1c"/><circle cx="1846.0" cy="1736.7" r="3.3" fill="#d23a22"/><circle cx="1844.3" cy="1737.8" r="3.1" fill="#d23a22"/><circle cx="1726.0" cy="1746.4" r="3.2" fill="#d23a22"/><circle cx="1731.6" cy="1746.9" r="1.5" fill="#d23a22"/><circle cx="1730.4" cy="1744.5" r="1.7" fill="#d8402a"/><circle cx="1698.1" cy="1750.0" r="3.2" fill="#d23a22"/><circle cx="1702.2" cy="1751.8" r="2.8" fill="#d23a22"/><circle cx="1699.3" cy="1749.8" r="2.8" fill="#c02d1c"/><circle cx="1703.0" cy="1748.6" r="3.0" fill="#cc3520"/><circle cx="1705.4" cy="1749.9" r="2.2" fill="#b82818"/><circle cx="1515.7" cy="1749.2" r="2.0" fill="#d8402a"/><circle cx="1518.0" cy="1746.5" r="2.9" fill="#b82818"/><circle cx="1515.8" cy="1747.6" r="3.0" fill="#c02d1c"/><circle cx="1518.2" cy="1745.7" r="1.8" fill="#b82818"/><circle cx="1513.8" cy="1747.0" r="3.2" fill="#cc3520"/><circle cx="1535.1" cy="1734.1" r="1.7" fill="#c02d1c"/><circle cx="1534.7" cy="1734.4" r="2.3" fill="#d8402a"/><circle cx="1487.8" cy="1703.7" r="1.5" fill="#d23a22"/><circle cx="1484.0" cy="1702.9" r="2.2" fill="#cc3520"/><circle cx="1485.0" cy="1700.3" r="1.7" fill="#d23a22"/><circle cx="1490.4" cy="1704.9" r="1.8" fill="#cc3520"/><circle cx="1481.5" cy="1703.1" r="2.9" fill="#d8402a"/><circle cx="1503.2" cy="1584.3" r="2.4" fill="#d8402a"/><circle cx="1509.3" cy="1586.6" r="2.3" fill="#b82818"/><circle cx="1503.1" cy="1581.4" r="1.6" fill="#cc3520"/><circle cx="1503.9" cy="1578.7" r="1.9" fill="#b82818"/><circle cx="1472.8" cy="1584.2" r="3.3" fill="#d23a22"/><circle cx="1477.7" cy="1587.7" r="2.5" fill="#d8402a"/><circle cx="1469.9" cy="1584.5" r="1.6" fill="#d8402a"/><circle cx="1472.5" cy="1584.7" r="2.5" fill="#c02d1c"/><circle cx="1608.3" cy="1719.8" r="1.2" fill="#d23a22"/><circle cx="1565.3" cy="1513.2" r="1.0" fill="#b82818"/><circle cx="1818.2" cy="1541.8" r="1.4" fill="#d23a22"/><circle cx="1537.9" cy="1574.4" r="1.4" fill="#d8402a"/><circle cx="1658.0" cy="1726.5" r="1.1" fill="#cc3520"/><circle cx="1746.9" cy="1700.6" r="1.1" fill="#cc3520"/><circle cx="1601.8" cy="1561.9" r="0.9" fill="#b82818"/><circle cx="1706.5" cy="1540.7" r="0.9" fill="#cc3520"/><circle cx="1671.4" cy="1557.7" r="0.8" fill="#b82818"/><circle cx="1576.9" cy="1572.1" r="1.4" fill="#d23a22"/><circle cx="1526.0" cy="1549.2" r="0.9" fill="#d8402a"/><circle cx="1498.3" cy="1710.0" r="0.9" fill="#d8402a"/><circle cx="1573.9" cy="1552.3" r="1.6" fill="#c02d1c"/><circle cx="1760.2" cy="1706.6" r="1.1" fill="#d8402a"/><circle cx="1605.3" cy="1551.9" r="1.0" fill="#b82818"/><circle cx="1636.8" cy="1610.4" r="1.4" fill="#b82818"/><circle cx="1531.0" cy="1600.4" r="1.5" fill="#cc3520"/><circle cx="1488.6" cy="1519.7" r="1.0" fill="#d23a22"/><circle cx="1498.0" cy="1607.1" r="1.2" fill="#b82818"/><circle cx="1714.8" cy="1667.5" r="0.8" fill="#d23a22"/><circle cx="1669.7" cy="1544.6" r="1.5" fill="#d23a22"/><circle cx="1472.0" cy="1607.7" r="1.5" fill="#d23a22"/><circle cx="1807.9" cy="1518.5" r="0.9" fill="#cc3520"/><circle cx="1503.1" cy="1639.2" r="1.0" fill="#d8402a"/><circle cx="1530.9" cy="1630.5" r="1.5" fill="#b82818"/><circle cx="1503.4" cy="1706.2" r="0.8" fill="#b82818"/><circle cx="1657.6" cy="1591.1" r="1.4" fill="#cc3520"/><circle cx="1476.0" cy="1588.8" r="1.4" fill="#d8402a"/><circle cx="1828.1" cy="1506.7" r="0.9" fill="#d8402a"/><circle cx="1748.8" cy="1753.3" r="1.2" fill="#b82818"/><circle cx="1670.6" cy="1707.2" r="1.6" fill="#b82818"/><circle cx="1542.0" cy="1651.4" r="1.1" fill="#d23a22"/><circle cx="1834.3" cy="1668.4" r="1.4" fill="#d23a22"/><circle cx="1706.3" cy="1515.5" r="1.2" fill="#c02d1c"/><circle cx="1700.9" cy="1597.6" r="1.1" fill="#b82818"/><circle cx="1675.6" cy="1678.1" r="1.2" fill="#b82818"/><circle cx="1815.8" cy="1741.3" r="0.9" fill="#c02d1c"/><circle cx="1557.2" cy="1670.7" r="1.0" fill="#d8402a"/><circle cx="1565.0" cy="1540.0" r="1.2" fill="#b82818"/><circle cx="1691.7" cy="1642.6" r="1.4" fill="#b82818"/><circle cx="1490.6" cy="1561.3" r="0.8" fill="#cc3520"/><circle cx="1609.6" cy="1694.1" r="1.2" fill="#d23a22"/><circle cx="1559.5" cy="1668.8" r="1.4" fill="#d23a22"/><circle cx="1600.4" cy="1594.7" r="1.2" fill="#d23a22"/><circle cx="1733.2" cy="1621.6" r="1.5" fill="#b82818"/><circle cx="1559.6" cy="1642.6" r="1.0" fill="#d8402a"/><circle cx="1779.0" cy="1642.4" r="1.4" fill="#d23a22"/><circle cx="1509.4" cy="1498.8" r="1.5" fill="#cc3520"/><circle cx="1534.6" cy="1617.5" r="1.6" fill="#b82818"/><circle cx="1579.7" cy="1563.6" r="1.5" fill="#c02d1c"/><circle cx="1725.3" cy="1609.6" r="1.4" fill="#d8402a"/><circle cx="1569.6" cy="1632.5" r="1.3" fill="#c02d1c"/><circle cx="1678.6" cy="1619.5" r="0.9" fill="#c02d1c"/><circle cx="1513.0" cy="1656.6" r="0.8" fill="#cc3520"/><circle cx="1698.7" cy="1616.0" r="1.1" fill="#d23a22"/><circle cx="1579.9" cy="1743.2" r="0.9" fill="#c02d1c"/><circle cx="1681.4" cy="1629.8" r="1.6" fill="#c02d1c"/><circle cx="1483.3" cy="1616.5" r="1.3" fill="#d23a22"/><circle cx="1487.5" cy="1723.3" r="1.2" fill="#d8402a"/><circle cx="1762.8" cy="1522.4" r="1.5" fill="#c02d1c"/><circle cx="1539.5" cy="1591.5" r="1.0" fill="#c02d1c"/><circle cx="1775.5" cy="1555.2" r="1.5" fill="#d23a22"/><circle cx="1806.5" cy="1500.5" r="1.2" fill="#cc3520"/><circle cx="1794.8" cy="1522.5" r="1.3" fill="#cc3520"/><circle cx="1467.9" cy="1538.7" r="1.2" fill="#b82818"/><circle cx="1675.2" cy="1748.2" r="1.6" fill="#b82818"/><circle cx="1764.9" cy="1695.1" r="1.4" fill="#c02d1c"/><circle cx="1649.8" cy="1575.2" r="0.8" fill="#cc3520"/><circle cx="1848.0" cy="1666.1" r="1.2" fill="#b82818"/><circle cx="1528.5" cy="1646.0" r="0.9" fill="#cc3520"/><circle cx="1798.9" cy="1568.9" r="1.0" fill="#cc3520"/><circle cx="1481.3" cy="1524.6" r="0.9" fill="#b82818"/><circle cx="1547.0" cy="1640.0" r="1.1" fill="#b82818"/><circle cx="1841.9" cy="1601.2" r="1.5" fill="#d23a22"/><circle cx="1535.1" cy="1635.6" r="1.0" fill="#d23a22"/><circle cx="1684.9" cy="1607.4" r="0.8" fill="#c02d1c"/><circle cx="1736.4" cy="1568.2" r="1.5" fill="#b82818"/><circle cx="1844.7" cy="1608.8" r="0.9" fill="#d8402a"/><circle cx="1794.1" cy="1742.0" r="1.5" fill="#c02d1c"/><circle cx="1674.1" cy="1673.1" r="0.8" fill="#cc3520"/><circle cx="1495.8" cy="1601.0" r="0.8" fill="#c02d1c"/><circle cx="1761.0" cy="1513.1" r="0.9" fill="#cc3520"/><circle cx="1635.5" cy="1594.8" r="0.9" fill="#c02d1c"/><circle cx="1699.9" cy="1647.1" r="1.3" fill="#b82818"/><circle cx="1581.4" cy="1684.9" r="0.8" fill="#cc3520"/><circle cx="1847.7" cy="1515.6" r="1.2" fill="#d23a22"/><circle cx="1848.6" cy="1673.0" r="1.0" fill="#d23a22"/><circle cx="1796.7" cy="1564.9" r="0.9" fill="#c02d1c"/><circle cx="1665.3" cy="1541.3" r="0.9" fill="#c02d1c"/><circle cx="1764.5" cy="1546.8" r="1.1" fill="#b82818"/></g>
<g fill="#3c1610" opacity="0.7"><circle cx="1501.4" cy="1518.6" r="1.2"/><circle cx="1530.3" cy="1527.6" r="1.5"/><circle cx="1524.8" cy="1545.5" r="1.3"/><circle cx="1546.3" cy="1558.8" r="1.8"/><circle cx="1548.5" cy="1575.0" r="1.9"/><circle cx="1580.0" cy="1571.8" r="1.1"/><circle cx="1587.7" cy="1562.3" r="1.1"/><circle cx="1583.7" cy="1534.1" r="1.8"/><circle cx="1638.0" cy="1518.8" r="1.4"/><circle cx="1703.2" cy="1509.1" r="1.8"/><circle cx="1697.2" cy="1543.7" r="1.1"/><circle cx="1717.9" cy="1536.9" r="1.8"/><circle cx="1725.1" cy="1558.6" r="1.7"/><circle cx="1744.7" cy="1560.9" r="1.8"/><circle cx="1756.6" cy="1553.4" r="1.8"/><circle cx="1812.7" cy="1521.9" r="1.1"/><circle cx="1835.0" cy="1557.6" r="1.3"/><circle cx="1497.1" cy="1625.9" r="1.4"/><circle cx="1516.9" cy="1635.7" r="1.9"/><circle cx="1573.7" cy="1638.8" r="1.1"/><circle cx="1597.4" cy="1640.0" r="1.0"/><circle cx="1626.8" cy="1626.7" r="1.1"/><circle cx="1642.5" cy="1631.8" r="1.3"/><circle cx="1637.1" cy="1616.2" r="1.6"/><circle cx="1715.4" cy="1588.9" r="1.2"/><circle cx="1778.7" cy="1600.6" r="1.4"/><circle cx="1786.7" cy="1644.9" r="1.3"/><circle cx="1763.6" cy="1669.8" r="1.9"/><circle cx="1746.8" cy="1683.6" r="1.1"/><circle cx="1634.3" cy="1691.7" r="1.8"/><circle cx="1588.6" cy="1716.8" r="1.3"/><circle cx="1616.2" cy="1712.1" r="1.9"/><circle cx="1605.3" cy="1738.9" r="1.0"/><circle cx="1669.9" cy="1730.1" r="1.2"/><circle cx="1664.3" cy="1745.4" r="1.1"/><circle cx="1784.9" cy="1722.1" r="1.5"/><circle cx="1801.9" cy="1721.7" r="1.2"/><circle cx="1702.4" cy="1747.8" r="1.3"/><circle cx="1516.9" cy="1746.9" r="1.4"/><circle cx="1486.2" cy="1700.7" r="1.2"/><circle cx="1505.9" cy="1584.4" r="1.4"/></g>
</g>
<rect x="1466.2" y="1492.5" width="384.1" height="262.0" fill="none" stroke="#1c1c1c" stroke-width="5"/>
<g clip-path="url(#clipF3)">
<rect x="1046.6" y="1818.4" width="390.0" height="267.3" fill="#878682"/>
<rect x="1046.6" y="1818.4" width="390.0" height="267.3" fill="#000" filter="url(#texF3)" opacity="0.35"/>
<rect x="1046.6" y="1818.4" width="390.0" height="267.3" fill="url(#tg3_0)"/>
<rect x="1046.6" y="1818.4" width="390.0" height="267.3" fill="url(#tg3_1)"/>
<path d="M1296 2061Q1306 2073 1318 2083M1205 2035Q1208 2059 1215 2082M1097 1901Q1078 1903 1062 1893M1337 1980Q1345 1967 1359 1961M1064 1892Q1052 1881 1038 1875M1223 1879Q1232 1908 1237 1937M1230 1902Q1229 1916 1237 1928M1231 1920Q1259 1937 1289 1949M1259 1788Q1235 1806 1208 1821M1146 1840Q1125 1826 1104 1813M1120 2060Q1105 2089 1095 2121M1275 1893Q1293 1897 1311 1905M1226 1846Q1224 1862 1214 1875M1144 1815Q1127 1807 1111 1796M1153 2034Q1160 2054 1164 2076M1324 1865Q1337 1873 1353 1870M1057 1891Q1047 1870 1032 1851M1139 1976Q1128 2004 1116 2032M1074 2019Q1074 2036 1064 2050M1186 1925Q1189 1946 1198 1965M1115 1947Q1085 1958 1054 1971M1393 2082Q1404 2103 1412 2125M1352 2086Q1368 2103 1381 2122M1247 1855Q1263 1884 1273 1916M1342 1852Q1373 1855 1403 1864M1390 2077Q1404 2081 1412 2093M1405 1799Q1414 1807 1422 1817M1400 1944Q1413 1929 1430 1919M1065 1829Q1055 1802 1041 1777M1311 1819Q1335 1838 1357 1859M1171 1890Q1154 1897 1138 1907M1219 1841Q1205 1853 1188 1858M1118 1985Q1111 1994 1107 2005M1170 2002Q1168 2021 1173 2039M1388 1928Q1414 1912 1433 1890M1186 1904Q1184 1916 1177 1924M1284 1835Q1308 1860 1334 1883M1339 2021Q1363 2019 1388 2015M1207 1900Q1206 1920 1215 1938M1087 1903Q1076 1896 1064 1899M1409 2054Q1425 2065 1439 2078M1286 2024Q1311 2027 1334 2037M1362 2042Q1394 2054 1428 2059M1138 1924Q1108 1935 1075 1935M1216 2047Q1224 2078 1221 2109M1331 1953Q1356 1929 1388 1915M1256 1798Q1232 1805 1210 1817M1224 2035Q1234 2045 1242 2059M1227 2092Q1223 2102 1221 2113M1369 1976Q1401 1965 1427 1945M1068 2010Q1055 2036 1040 2062M1322 1916Q1343 1914 1362 1908M1309 1918Q1329 1918 1348 1915M1404 1918Q1411 1908 1421 1899M1385 2080Q1395 2088 1407 2092M1407 1921Q1437 1906 1468 1893M1259 2031Q1284 2043 1312 2045M1388 1834Q1418 1840 1448 1849M1163 1898Q1148 1913 1129 1923M1155 1884Q1122 1882 1090 1874M1182 1881Q1159 1889 1139 1901M1059 1814Q1057 1798 1050 1785M1424 1997Q1438 1999 1450 1991M1055 2038Q1050 2064 1034 2087M1220 1920Q1222 1938 1233 1953M1421 2015Q1439 2018 1458 2014M1152 1895Q1143 1903 1130 1905M1203 2044Q1207 2074 1201 2104M1286 2072Q1295 2090 1309 2104M1215 1842Q1197 1846 1185 1859M1240 1987Q1273 1989 1307 1987M1360 1845Q1385 1855 1412 1855M1084 1932Q1057 1917 1026 1913M1142 1974Q1133 2003 1125 2032M1317 1875Q1328 1875 1338 1879M1141 2047Q1137 2064 1141 2082M1098 2065Q1094 2075 1086 2084M1145 2007Q1143 2021 1149 2033M1220 2041Q1233 2070 1243 2100M1343 1985Q1364 1969 1387 1956M1239 1894Q1243 1905 1250 1916M1160 1856Q1141 1845 1121 1835M1253 1896Q1278 1912 1306 1922M1105 1912Q1087 1910 1070 1901M1138 1873Q1119 1869 1102 1862M1229 1825Q1203 1836 1176 1840M1107 1882Q1093 1883 1083 1874M1100 1936Q1070 1938 1041 1931M1311 1811Q1321 1836 1327 1863M1075 2053Q1063 2075 1055 2099M1219 2014Q1229 2020 1235 2031M1291 2049Q1324 2050 1357 2058M1055 2064Q1039 2085 1020 2104M1316 2073Q1326 2093 1343 2106M1354 2000Q1368 1989 1384 1979M1081 1973Q1064 1990 1042 1997M1245 2034Q1261 2041 1270 2056M1239 2001Q1274 2004 1308 2004M1169 2030Q1160 2056 1159 2083M1281 1952Q1300 1947 1319 1950M1199 1813Q1168 1807 1139 1793M1381 1835Q1402 1838 1422 1845M1400 2032Q1427 2029 1454 2022M1203 1838Q1174 1840 1146 1839M1141 2078Q1135 2099 1122 2117M1197 1868Q1184 1877 1173 1889M1224 1841Q1211 1857 1202 1875M1236 1921Q1252 1935 1263 1954M1073 1851Q1064 1828 1059 1804M1122 1920Q1088 1926 1055 1932M1238 1870Q1244 1890 1244 1910M1339 1799Q1359 1826 1381 1850M1389 2025Q1401 2026 1410 2018M1192 1807Q1164 1799 1136 1793M1327 2045Q1352 2038 1378 2035M1200 1831Q1187 1834 1175 1836M1210 1840Q1180 1837 1151 1830M1213 1846Q1202 1861 1190 1876M1327 1847Q1341 1854 1348 1867M1143 2060Q1135 2075 1128 2091M1183 1847Q1149 1843 1117 1835M1071 1923Q1058 1912 1042 1908M1431 1995Q1447 1985 1463 1975M1097 2007Q1082 2038 1061 2066M1375 1959Q1389 1936 1410 1917M1423 1954Q1452 1938 1485 1929M1383 1932Q1397 1912 1419 1901M1244 1954Q1271 1959 1297 1970M1225 1928Q1237 1940 1238 1957M1421 2063Q1442 2092 1470 2113M1155 1867Q1130 1863 1108 1852M1259 1833Q1254 1846 1248 1859M1107 1960Q1091 1978 1069 1989M1385 1985Q1397 1968 1414 1957M1037 2021Q1024 2037 1022 2057M1168 1961Q1170 1992 1180 2021M1282 1904Q1299 1902 1313 1911M1281 1998Q1295 1993 1308 2000M1190 1910Q1197 1935 1208 1960M1378 1893Q1409 1878 1443 1868M1226 2020Q1251 2033 1274 2048M1278 1937Q1300 1934 1321 1935M1180 1954Q1188 1972 1200 1989M1345 1890Q1366 1885 1388 1883M1388 2068Q1413 2085 1440 2099M1413 1812Q1446 1823 1479 1831M1308 1991Q1338 1978 1369 1971M1296 2074Q1311 2094 1327 2115M1359 2039Q1386 2045 1410 2056M1238 1940Q1273 1940 1305 1950M1394 1959Q1416 1947 1438 1935M1381 1903Q1392 1898 1401 1891M1331 2054Q1362 2052 1393 2055M1334 2002Q1355 1993 1377 1984M1247 1920Q1274 1923 1297 1937M1099 1947Q1081 1958 1061 1965M1278 1801Q1272 1829 1270 1856M1161 1912Q1156 1924 1147 1933M1180 1844Q1152 1838 1127 1826M1328 1817Q1337 1834 1345 1851M1348 1996Q1366 1989 1380 1975M1208 2059Q1213 2075 1214 2093M1195 1866Q1168 1887 1136 1898M1258 2034Q1283 2049 1303 2071M1166 1832Q1152 1822 1135 1823M1387 2069Q1404 2092 1419 2117M1194 2039Q1202 2061 1216 2080M1296 2059Q1305 2074 1321 2080M1202 1860Q1181 1881 1165 1908M1146 1926Q1133 1955 1123 1984M1192 1834Q1179 1831 1167 1836M1057 1942Q1030 1944 1003 1945M1363 1996Q1380 1987 1391 1972M1199 1884Q1187 1901 1179 1920M1219 1885Q1222 1897 1224 1909M1212 2042Q1221 2064 1239 2080M1360 2082Q1372 2095 1387 2102M1150 1891Q1130 1889 1111 1891M1157 1893Q1142 1899 1127 1897M1286 2054Q1318 2068 1351 2078M1208 2033Q1225 2057 1235 2084M1356 1895Q1371 1886 1389 1884M1151 1816Q1136 1803 1118 1791M1417 1845Q1430 1845 1443 1847M1232 1842Q1221 1866 1205 1889M1103 1919Q1076 1923 1049 1926M1293 2081Q1303 2101 1316 2119M1437 1978Q1457 1961 1476 1943M1287 2041Q1305 2040 1320 2050M1306 1783Q1299 1808 1287 1830M1370 1858Q1398 1862 1424 1857M1112 1894Q1095 1896 1081 1888M1384 2034Q1408 2039 1433 2043M1189 1849Q1167 1858 1144 1865M1403 1793Q1429 1807 1455 1821M1269 2027Q1296 2041 1325 2052M1385 1820Q1416 1831 1442 1852M1060 1961Q1032 1961 1005 1967M1239 1805Q1229 1813 1218 1817M1080 1945Q1053 1950 1026 1953M1168 2000Q1169 2034 1167 2067M1116 1880Q1092 1872 1069 1861M1189 1909Q1208 1938 1220 1971M1135 2022Q1124 2050 1119 2079M1135 1928Q1124 1943 1117 1959M1224 1944Q1228 1955 1235 1963M1302 1968Q1332 1967 1359 1955M1409 2010Q1436 1988 1465 1968M1193 2009Q1201 2029 1218 2043M1161 1997Q1157 2014 1162 2031M1361 2003Q1384 1991 1408 1977M1277 1938Q1301 1945 1325 1941M1319 1927Q1340 1927 1360 1924M1111 1949Q1094 1962 1075 1972M1375 1808Q1396 1821 1415 1836M1204 1858Q1172 1858 1141 1855M1400 1994Q1422 1986 1444 1981M1050 1898Q1034 1885 1015 1877M1248 1905Q1263 1925 1281 1941M1414 1930Q1434 1921 1450 1907M1133 1977Q1131 1997 1120 2014M1360 1782Q1385 1801 1404 1827M1370 1841Q1392 1845 1413 1846M1161 1918Q1148 1933 1129 1941M1099 2082Q1085 2102 1073 2123M1169 2067Q1168 2093 1159 2117M1299 2011Q1320 2008 1340 1999M1156 2008Q1163 2028 1173 2048M1419 1903Q1449 1890 1476 1870M1248 2008Q1262 2008 1271 2018M1283 2039Q1309 2055 1339 2066M1309 1850Q1329 1865 1349 1880M1131 2082Q1110 2095 1097 2115M1090 2085Q1078 2096 1074 2112M1226 2037Q1237 2046 1250 2055M1058 1923Q1036 1914 1018 1897M1235 1947Q1246 1958 1258 1967M1213 1836Q1178 1836 1145 1847M1383 2011Q1401 2003 1420 2005M1339 1980Q1356 1964 1376 1954M1413 2062Q1432 2083 1446 2108M1274 1796Q1267 1811 1266 1828M1196 1871Q1180 1889 1166 1908M1129 2066Q1114 2088 1093 2104M1118 2055Q1103 2068 1095 2086M1344 1971Q1354 1954 1371 1945M1404 1933Q1428 1919 1449 1900M1298 1774Q1289 1804 1288 1836M1065 1945Q1041 1949 1019 1959M1122 2039Q1117 2063 1113 2087M1103 1997Q1095 2017 1091 2039M1282 2082Q1294 2091 1304 2102M1338 1860Q1361 1860 1383 1863M1171 1919Q1169 1931 1165 1943M1200 1888Q1183 1914 1165 1938M1178 1909Q1175 1934 1181 1959M1164 1900Q1153 1912 1142 1922M1382 1939Q1398 1929 1410 1914M1103 1859Q1086 1838 1067 1819M1289 1821Q1294 1840 1300 1858M1331 2079Q1336 2098 1349 2113M1060 1999Q1040 2023 1019 2049M1082 1835Q1071 1815 1067 1792M1344 2068Q1369 2087 1396 2102M1396 2036Q1414 2042 1433 2042M1225 1819Q1204 1823 1189 1836M1422 2032Q1437 2028 1452 2027M1279 1873Q1291 1881 1300 1893M1064 1951Q1051 1951 1038 1955M1162 1985Q1168 2018 1180 2050M1312 1778Q1326 1804 1332 1833M1160 1893Q1132 1906 1106 1923M1311 1986Q1339 1977 1364 1964M1441 2086Q1441 2100 1449 2111M1163 1959Q1166 1981 1174 2002M1316 2019Q1334 2024 1353 2021M1372 1878Q1386 1881 1401 1877M1403 1904Q1423 1899 1441 1889M1290 2008Q1303 2014 1317 2009M1181 1871Q1148 1873 1118 1886M1152 1909Q1130 1929 1103 1939M1268 1973Q1282 1971 1294 1975M1305 2048Q1320 2056 1336 2058M1164 1902Q1144 1918 1125 1935M1154 2017Q1161 2037 1161 2057M1278 2045Q1300 2045 1322 2050M1344 2076Q1373 2094 1393 2122M1291 1795Q1287 1826 1275 1856M1173 1941Q1175 1965 1188 1985M1344 1916Q1367 1908 1389 1897M1038 1886Q1026 1864 1019 1839M1168 1878Q1149 1880 1134 1892M1202 2091Q1199 2101 1193 2111M1339 1822Q1366 1843 1398 1853M1421 1878Q1433 1872 1446 1870M1138 1888Q1121 1895 1103 1894M1398 1813Q1409 1820 1421 1824M1355 1945Q1382 1924 1407 1900M1066 1838Q1067 1816 1056 1796M1308 1945Q1320 1935 1335 1934M1400 1911Q1431 1907 1459 1893M1248 1838Q1238 1864 1223 1888M1267 1839Q1267 1868 1265 1896M1128 1960Q1111 1974 1102 1995M1132 2062Q1131 2075 1123 2085M1066 1965Q1042 1983 1018 2003M1380 1826Q1410 1830 1437 1842M1423 2015Q1437 2005 1453 2004M1249 2066Q1266 2087 1272 2114M1102 1984Q1095 2013 1089 2043M1042 2035Q1028 2043 1021 2059M1345 1835Q1374 1844 1402 1856M1243 1881Q1238 1894 1242 1906M1328 1978Q1353 1968 1374 1949M1278 1864Q1290 1880 1303 1895M1200 1941Q1208 1950 1214 1960M1415 1935Q1441 1917 1469 1901M1086 1965Q1075 1994 1057 2018M1214 2015Q1234 2030 1255 2046M1357 2026Q1380 2013 1406 2009M1227 1991Q1254 2005 1275 2027M1393 1847Q1414 1849 1433 1858M1133 2059Q1123 2088 1116 2117M1201 2017Q1213 2031 1227 2044M1359 1884Q1387 1873 1417 1874M1241 1812Q1209 1825 1176 1832M1427 2041Q1448 2052 1462 2070M1165 1955Q1169 1976 1179 1994M1290 2057Q1302 2067 1317 2066M1072 1922Q1052 1921 1036 1911M1331 2001Q1358 1987 1386 1975M1172 2038Q1162 2064 1164 2092M1103 1907Q1073 1896 1041 1890M1253 2044Q1270 2058 1287 2070M1061 2001Q1040 2017 1026 2040M1087 1953Q1076 1962 1065 1970M1233 2086Q1232 2104 1231 2121M1430 1911Q1452 1904 1471 1891M1069 1932Q1044 1927 1021 1914M1386 1901Q1396 1891 1409 1886M1219 1859Q1213 1885 1201 1908M1085 1991Q1079 2011 1065 2029M1431 1976Q1450 1975 1467 1963M1100 1964Q1070 1980 1045 2005M1273 2009Q1291 2007 1309 2011M1076 2010Q1065 2024 1055 2039M1145 2041Q1150 2059 1144 2077M1158 1970Q1173 2001 1182 2034M1396 1952Q1411 1936 1425 1919M1413 1974Q1438 1966 1456 1949M1296 2006Q1321 1995 1349 1993M1203 1883Q1187 1904 1177 1929M1394 2080Q1412 2102 1426 2127M1350 1951Q1369 1941 1389 1936M1099 2004Q1099 2018 1091 2027M1226 1833Q1196 1846 1164 1853M1130 1856Q1109 1844 1087 1833M1234 1867Q1253 1893 1267 1922M1199 1922Q1218 1952 1245 1974M1385 1950Q1397 1940 1411 1931M1411 1926Q1440 1905 1474 1895M1396 1992Q1418 1990 1437 1979M1178 2006Q1186 2023 1195 2039M1048 1990Q1027 2014 1015 2043M1109 1930Q1094 1934 1078 1936M1345 1789Q1364 1817 1378 1848M1369 1803Q1395 1820 1423 1835M1185 1859Q1159 1855 1133 1862M1237 1980Q1248 1985 1256 1994M1347 2029Q1360 2022 1373 2017M1224 1938Q1248 1950 1268 1968M1217 1852Q1209 1880 1197 1906M1038 1867Q1029 1846 1016 1827M1367 1872Q1395 1869 1423 1870M1262 2021Q1275 2022 1283 2033M1270 2040Q1297 2044 1323 2052M1281 1920Q1293 1928 1307 1931M1334 2035Q1349 2037 1362 2041M1185 1975Q1201 1997 1221 2016M1150 2045Q1151 2061 1151 2076M1288 1992Q1307 1983 1328 1979M1257 1832Q1252 1845 1250 1859M1275 2016Q1303 2006 1334 2007M1436 2045Q1444 2058 1458 2063M1131 1990Q1135 2016 1137 2043M1351 2036Q1368 2036 1386 2034M1171 2005Q1183 2028 1192 2052M1364 1793Q1383 1815 1395 1842M1221 2060Q1235 2084 1245 2111M1223 1896Q1227 1917 1224 1939M1055 1966Q1031 1965 1009 1973M1130 1927Q1114 1935 1101 1948M1136 1924Q1123 1941 1104 1949M1178 2053Q1166 2075 1163 2100M1373 1801Q1393 1819 1418 1830M1156 1960Q1149 1976 1149 1993M1222 2040Q1231 2050 1237 2062M1223 2026Q1240 2043 1263 2053M1340 1866Q1356 1867 1371 1874M1259 1865Q1264 1875 1270 1885M1169 1860Q1145 1838 1116 1824M1131 2011Q1130 2040 1121 2068M1068 1886Q1053 1861 1040 1833" stroke="#c8c8c3" stroke-width="1" fill="none" opacity="0.3" stroke-linecap="round" transform="translate(1.3 1.3)"/>
<path d="M1296 2061Q1306 2073 1318 2083M1205 2035Q1208 2059 1215 2082M1097 1901Q1078 1903 1062 1893M1337 1980Q1345 1967 1359 1961M1064 1892Q1052 1881 1038 1875M1223 1879Q1232 1908 1237 1937M1230 1902Q1229 1916 1237 1928M1231 1920Q1259 1937 1289 1949M1259 1788Q1235 1806 1208 1821M1146 1840Q1125 1826 1104 1813M1120 2060Q1105 2089 1095 2121M1275 1893Q1293 1897 1311 1905M1226 1846Q1224 1862 1214 1875M1144 1815Q1127 1807 1111 1796M1153 2034Q1160 2054 1164 2076M1324 1865Q1337 1873 1353 1870M1057 1891Q1047 1870 1032 1851M1139 1976Q1128 2004 1116 2032M1074 2019Q1074 2036 1064 2050M1186 1925Q1189 1946 1198 1965M1115 1947Q1085 1958 1054 1971M1393 2082Q1404 2103 1412 2125M1352 2086Q1368 2103 1381 2122M1247 1855Q1263 1884 1273 1916M1342 1852Q1373 1855 1403 1864M1390 2077Q1404 2081 1412 2093M1405 1799Q1414 1807 1422 1817M1400 1944Q1413 1929 1430 1919M1065 1829Q1055 1802 1041 1777M1311 1819Q1335 1838 1357 1859M1171 1890Q1154 1897 1138 1907M1219 1841Q1205 1853 1188 1858M1118 1985Q1111 1994 1107 2005M1170 2002Q1168 2021 1173 2039M1388 1928Q1414 1912 1433 1890M1186 1904Q1184 1916 1177 1924M1284 1835Q1308 1860 1334 1883M1339 2021Q1363 2019 1388 2015M1207 1900Q1206 1920 1215 1938M1087 1903Q1076 1896 1064 1899M1409 2054Q1425 2065 1439 2078M1286 2024Q1311 2027 1334 2037M1362 2042Q1394 2054 1428 2059M1138 1924Q1108 1935 1075 1935M1216 2047Q1224 2078 1221 2109M1331 1953Q1356 1929 1388 1915M1256 1798Q1232 1805 1210 1817M1224 2035Q1234 2045 1242 2059M1227 2092Q1223 2102 1221 2113M1369 1976Q1401 1965 1427 1945M1068 2010Q1055 2036 1040 2062M1322 1916Q1343 1914 1362 1908M1309 1918Q1329 1918 1348 1915M1404 1918Q1411 1908 1421 1899M1385 2080Q1395 2088 1407 2092M1407 1921Q1437 1906 1468 1893M1259 2031Q1284 2043 1312 2045M1388 1834Q1418 1840 1448 1849M1163 1898Q1148 1913 1129 1923M1155 1884Q1122 1882 1090 1874M1182 1881Q1159 1889 1139 1901M1059 1814Q1057 1798 1050 1785M1424 1997Q1438 1999 1450 1991M1055 2038Q1050 2064 1034 2087M1220 1920Q1222 1938 1233 1953M1421 2015Q1439 2018 1458 2014M1152 1895Q1143 1903 1130 1905M1203 2044Q1207 2074 1201 2104M1286 2072Q1295 2090 1309 2104M1215 1842Q1197 1846 1185 1859M1240 1987Q1273 1989 1307 1987M1360 1845Q1385 1855 1412 1855M1084 1932Q1057 1917 1026 1913M1142 1974Q1133 2003 1125 2032M1317 1875Q1328 1875 1338 1879M1141 2047Q1137 2064 1141 2082M1098 2065Q1094 2075 1086 2084M1145 2007Q1143 2021 1149 2033M1220 2041Q1233 2070 1243 2100M1343 1985Q1364 1969 1387 1956M1239 1894Q1243 1905 1250 1916M1160 1856Q1141 1845 1121 1835M1253 1896Q1278 1912 1306 1922M1105 1912Q1087 1910 1070 1901M1138 1873Q1119 1869 1102 1862M1229 1825Q1203 1836 1176 1840M1107 1882Q1093 1883 1083 1874M1100 1936Q1070 1938 1041 1931M1311 1811Q1321 1836 1327 1863M1075 2053Q1063 2075 1055 2099M1219 2014Q1229 2020 1235 2031M1291 2049Q1324 2050 1357 2058M1055 2064Q1039 2085 1020 2104M1316 2073Q1326 2093 1343 2106M1354 2000Q1368 1989 1384 1979M1081 1973Q1064 1990 1042 1997M1245 2034Q1261 2041 1270 2056M1239 2001Q1274 2004 1308 2004M1169 2030Q1160 2056 1159 2083M1281 1952Q1300 1947 1319 1950M1199 1813Q1168 1807 1139 1793M1381 1835Q1402 1838 1422 1845M1400 2032Q1427 2029 1454 2022M1203 1838Q1174 1840 1146 1839M1141 2078Q1135 2099 1122 2117M1197 1868Q1184 1877 1173 1889M1224 1841Q1211 1857 1202 1875M1236 1921Q1252 1935 1263 1954M1073 1851Q1064 1828 1059 1804M1122 1920Q1088 1926 1055 1932M1238 1870Q1244 1890 1244 1910M1339 1799Q1359 1826 1381 1850M1389 2025Q1401 2026 1410 2018M1192 1807Q1164 1799 1136 1793M1327 2045Q1352 2038 1378 2035M1200 1831Q1187 1834 1175 1836M1210 1840Q1180 1837 1151 1830M1213 1846Q1202 1861 1190 1876M1327 1847Q1341 1854 1348 1867M1143 2060Q1135 2075 1128 2091M1183 1847Q1149 1843 1117 1835M1071 1923Q1058 1912 1042 1908M1431 1995Q1447 1985 1463 1975M1097 2007Q1082 2038 1061 2066M1375 1959Q1389 1936 1410 1917M1423 1954Q1452 1938 1485 1929M1383 1932Q1397 1912 1419 1901M1244 1954Q1271 1959 1297 1970M1225 1928Q1237 1940 1238 1957M1421 2063Q1442 2092 1470 2113M1155 1867Q1130 1863 1108 1852M1259 1833Q1254 1846 1248 1859M1107 1960Q1091 1978 1069 1989M1385 1985Q1397 1968 1414 1957M1037 2021Q1024 2037 1022 2057M1168 1961Q1170 1992 1180 2021M1282 1904Q1299 1902 1313 1911M1281 1998Q1295 1993 1308 2000M1190 1910Q1197 1935 1208 1960M1378 1893Q1409 1878 1443 1868M1226 2020Q1251 2033 1274 2048M1278 1937Q1300 1934 1321 1935M1180 1954Q1188 1972 1200 1989M1345 1890Q1366 1885 1388 1883M1388 2068Q1413 2085 1440 2099M1413 1812Q1446 1823 1479 1831M1308 1991Q1338 1978 1369 1971M1296 2074Q1311 2094 1327 2115M1359 2039Q1386 2045 1410 2056M1238 1940Q1273 1940 1305 1950M1394 1959Q1416 1947 1438 1935M1381 1903Q1392 1898 1401 1891M1331 2054Q1362 2052 1393 2055M1334 2002Q1355 1993 1377 1984M1247 1920Q1274 1923 1297 1937M1099 1947Q1081 1958 1061 1965M1278 1801Q1272 1829 1270 1856M1161 1912Q1156 1924 1147 1933M1180 1844Q1152 1838 1127 1826M1328 1817Q1337 1834 1345 1851M1348 1996Q1366 1989 1380 1975M1208 2059Q1213 2075 1214 2093M1195 1866Q1168 1887 1136 1898M1258 2034Q1283 2049 1303 2071M1166 1832Q1152 1822 1135 1823M1387 2069Q1404 2092 1419 2117M1194 2039Q1202 2061 1216 2080M1296 2059Q1305 2074 1321 2080M1202 1860Q1181 1881 1165 1908M1146 1926Q1133 1955 1123 1984M1192 1834Q1179 1831 1167 1836M1057 1942Q1030 1944 1003 1945M1363 1996Q1380 1987 1391 1972M1199 1884Q1187 1901 1179 1920M1219 1885Q1222 1897 1224 1909M1212 2042Q1221 2064 1239 2080M1360 2082Q1372 2095 1387 2102M1150 1891Q1130 1889 1111 1891M1157 1893Q1142 1899 1127 1897M1286 2054Q1318 2068 1351 2078M1208 2033Q1225 2057 1235 2084M1356 1895Q1371 1886 1389 1884M1151 1816Q1136 1803 1118 1791M1417 1845Q1430 1845 1443 1847M1232 1842Q1221 1866 1205 1889M1103 1919Q1076 1923 1049 1926M1293 2081Q1303 2101 1316 2119M1437 1978Q1457 1961 1476 1943M1287 2041Q1305 2040 1320 2050M1306 1783Q1299 1808 1287 1830M1370 1858Q1398 1862 1424 1857M1112 1894Q1095 1896 1081 1888M1384 2034Q1408 2039 1433 2043M1189 1849Q1167 1858 1144 1865M1403 1793Q1429 1807 1455 1821M1269 2027Q1296 2041 1325 2052M1385 1820Q1416 1831 1442 1852M1060 1961Q1032 1961 1005 1967M1239 1805Q1229 1813 1218 1817M1080 1945Q1053 1950 1026 1953M1168 2000Q1169 2034 1167 2067M1116 1880Q1092 1872 1069 1861M1189 1909Q1208 1938 1220 1971M1135 2022Q1124 2050 1119 2079M1135 1928Q1124 1943 1117 1959M1224 1944Q1228 1955 1235 1963M1302 1968Q1332 1967 1359 1955M1409 2010Q1436 1988 1465 1968M1193 2009Q1201 2029 1218 2043M1161 1997Q1157 2014 1162 2031M1361 2003Q1384 1991 1408 1977M1277 1938Q1301 1945 1325 1941M1319 1927Q1340 1927 1360 1924M1111 1949Q1094 1962 1075 1972M1375 1808Q1396 1821 1415 1836M1204 1858Q1172 1858 1141 1855M1400 1994Q1422 1986 1444 1981M1050 1898Q1034 1885 1015 1877M1248 1905Q1263 1925 1281 1941M1414 1930Q1434 1921 1450 1907M1133 1977Q1131 1997 1120 2014M1360 1782Q1385 1801 1404 1827M1370 1841Q1392 1845 1413 1846M1161 1918Q1148 1933 1129 1941M1099 2082Q1085 2102 1073 2123M1169 2067Q1168 2093 1159 2117M1299 2011Q1320 2008 1340 1999M1156 2008Q1163 2028 1173 2048M1419 1903Q1449 1890 1476 1870M1248 2008Q1262 2008 1271 2018M1283 2039Q1309 2055 1339 2066M1309 1850Q1329 1865 1349 1880M1131 2082Q1110 2095 1097 2115M1090 2085Q1078 2096 1074 2112M1226 2037Q1237 2046 1250 2055M1058 1923Q1036 1914 1018 1897M1235 1947Q1246 1958 1258 1967M1213 1836Q1178 1836 1145 1847M1383 2011Q1401 2003 1420 2005M1339 1980Q1356 1964 1376 1954M1413 2062Q1432 2083 1446 2108M1274 1796Q1267 1811 1266 1828M1196 1871Q1180 1889 1166 1908M1129 2066Q1114 2088 1093 2104M1118 2055Q1103 2068 1095 2086M1344 1971Q1354 1954 1371 1945M1404 1933Q1428 1919 1449 1900M1298 1774Q1289 1804 1288 1836M1065 1945Q1041 1949 1019 1959M1122 2039Q1117 2063 1113 2087M1103 1997Q1095 2017 1091 2039M1282 2082Q1294 2091 1304 2102M1338 1860Q1361 1860 1383 1863M1171 1919Q1169 1931 1165 1943M1200 1888Q1183 1914 1165 1938M1178 1909Q1175 1934 1181 1959M1164 1900Q1153 1912 1142 1922M1382 1939Q1398 1929 1410 1914M1103 1859Q1086 1838 1067 1819M1289 1821Q1294 1840 1300 1858M1331 2079Q1336 2098 1349 2113M1060 1999Q1040 2023 1019 2049M1082 1835Q1071 1815 1067 1792M1344 2068Q1369 2087 1396 2102M1396 2036Q1414 2042 1433 2042M1225 1819Q1204 1823 1189 1836M1422 2032Q1437 2028 1452 2027M1279 1873Q1291 1881 1300 1893M1064 1951Q1051 1951 1038 1955M1162 1985Q1168 2018 1180 2050M1312 1778Q1326 1804 1332 1833M1160 1893Q1132 1906 1106 1923M1311 1986Q1339 1977 1364 1964M1441 2086Q1441 2100 1449 2111M1163 1959Q1166 1981 1174 2002M1316 2019Q1334 2024 1353 2021M1372 1878Q1386 1881 1401 1877M1403 1904Q1423 1899 1441 1889M1290 2008Q1303 2014 1317 2009M1181 1871Q1148 1873 1118 1886M1152 1909Q1130 1929 1103 1939M1268 1973Q1282 1971 1294 1975M1305 2048Q1320 2056 1336 2058M1164 1902Q1144 1918 1125 1935M1154 2017Q1161 2037 1161 2057M1278 2045Q1300 2045 1322 2050M1344 2076Q1373 2094 1393 2122M1291 1795Q1287 1826 1275 1856M1173 1941Q1175 1965 1188 1985M1344 1916Q1367 1908 1389 1897M1038 1886Q1026 1864 1019 1839M1168 1878Q1149 1880 1134 1892M1202 2091Q1199 2101 1193 2111M1339 1822Q1366 1843 1398 1853M1421 1878Q1433 1872 1446 1870M1138 1888Q1121 1895 1103 1894M1398 1813Q1409 1820 1421 1824M1355 1945Q1382 1924 1407 1900M1066 1838Q1067 1816 1056 1796M1308 1945Q1320 1935 1335 1934M1400 1911Q1431 1907 1459 1893M1248 1838Q1238 1864 1223 1888M1267 1839Q1267 1868 1265 1896M1128 1960Q1111 1974 1102 1995M1132 2062Q1131 2075 1123 2085M1066 1965Q1042 1983 1018 2003M1380 1826Q1410 1830 1437 1842M1423 2015Q1437 2005 1453 2004M1249 2066Q1266 2087 1272 2114M1102 1984Q1095 2013 1089 2043M1042 2035Q1028 2043 1021 2059M1345 1835Q1374 1844 1402 1856M1243 1881Q1238 1894 1242 1906M1328 1978Q1353 1968 1374 1949M1278 1864Q1290 1880 1303 1895M1200 1941Q1208 1950 1214 1960M1415 1935Q1441 1917 1469 1901M1086 1965Q1075 1994 1057 2018M1214 2015Q1234 2030 1255 2046M1357 2026Q1380 2013 1406 2009M1227 1991Q1254 2005 1275 2027M1393 1847Q1414 1849 1433 1858M1133 2059Q1123 2088 1116 2117M1201 2017Q1213 2031 1227 2044M1359 1884Q1387 1873 1417 1874M1241 1812Q1209 1825 1176 1832M1427 2041Q1448 2052 1462 2070M1165 1955Q1169 1976 1179 1994M1290 2057Q1302 2067 1317 2066M1072 1922Q1052 1921 1036 1911M1331 2001Q1358 1987 1386 1975M1172 2038Q1162 2064 1164 2092M1103 1907Q1073 1896 1041 1890M1253 2044Q1270 2058 1287 2070M1061 2001Q1040 2017 1026 2040M1087 1953Q1076 1962 1065 1970M1233 2086Q1232 2104 1231 2121M1430 1911Q1452 1904 1471 1891M1069 1932Q1044 1927 1021 1914M1386 1901Q1396 1891 1409 1886M1219 1859Q1213 1885 1201 1908M1085 1991Q1079 2011 1065 2029M1431 1976Q1450 1975 1467 1963M1100 1964Q1070 1980 1045 2005M1273 2009Q1291 2007 1309 2011M1076 2010Q1065 2024 1055 2039M1145 2041Q1150 2059 1144 2077M1158 1970Q1173 2001 1182 2034M1396 1952Q1411 1936 1425 1919M1413 1974Q1438 1966 1456 1949M1296 2006Q1321 1995 1349 1993M1203 1883Q1187 1904 1177 1929M1394 2080Q1412 2102 1426 2127M1350 1951Q1369 1941 1389 1936M1099 2004Q1099 2018 1091 2027M1226 1833Q1196 1846 1164 1853M1130 1856Q1109 1844 1087 1833M1234 1867Q1253 1893 1267 1922M1199 1922Q1218 1952 1245 1974M1385 1950Q1397 1940 1411 1931M1411 1926Q1440 1905 1474 1895M1396 1992Q1418 1990 1437 1979M1178 2006Q1186 2023 1195 2039M1048 1990Q1027 2014 1015 2043M1109 1930Q1094 1934 1078 1936M1345 1789Q1364 1817 1378 1848M1369 1803Q1395 1820 1423 1835M1185 1859Q1159 1855 1133 1862M1237 1980Q1248 1985 1256 1994M1347 2029Q1360 2022 1373 2017M1224 1938Q1248 1950 1268 1968M1217 1852Q1209 1880 1197 1906M1038 1867Q1029 1846 1016 1827M1367 1872Q1395 1869 1423 1870M1262 2021Q1275 2022 1283 2033M1270 2040Q1297 2044 1323 2052M1281 1920Q1293 1928 1307 1931M1334 2035Q1349 2037 1362 2041M1185 1975Q1201 1997 1221 2016M1150 2045Q1151 2061 1151 2076M1288 1992Q1307 1983 1328 1979M1257 1832Q1252 1845 1250 1859M1275 2016Q1303 2006 1334 2007M1436 2045Q1444 2058 1458 2063M1131 1990Q1135 2016 1137 2043M1351 2036Q1368 2036 1386 2034M1171 2005Q1183 2028 1192 2052M1364 1793Q1383 1815 1395 1842M1221 2060Q1235 2084 1245 2111M1223 1896Q1227 1917 1224 1939M1055 1966Q1031 1965 1009 1973M1130 1927Q1114 1935 1101 1948M1136 1924Q1123 1941 1104 1949M1178 2053Q1166 2075 1163 2100M1373 1801Q1393 1819 1418 1830M1156 1960Q1149 1976 1149 1993M1222 2040Q1231 2050 1237 2062M1223 2026Q1240 2043 1263 2053M1340 1866Q1356 1867 1371 1874M1259 1865Q1264 1875 1270 1885M1169 1860Q1145 1838 1116 1824M1131 2011Q1130 2040 1121 2068M1068 1886Q1053 1861 1040 1833" stroke="#555552" stroke-width="1.1" fill="none" opacity="0.33" stroke-linecap="round"/>
<path d="M1239 2074Q1238 2096 1248 2117M1167 1888Q1156 1892 1145 1899M1061 2087Q1047 2097 1041 2112M1165 1908Q1162 1922 1150 1931M1227 1983Q1239 1988 1252 1990M1218 1912Q1221 1930 1233 1944M1113 2000Q1105 2017 1100 2034M1414 2042Q1440 2059 1470 2066M1322 1994Q1350 1980 1377 1964M1423 2019Q1454 2006 1486 1995M1365 1838Q1376 1844 1388 1843M1150 1850Q1126 1831 1099 1817M1432 2027Q1444 2025 1454 2033M1228 1832Q1205 1839 1182 1845M1102 2073Q1078 2098 1052 2120M1391 1813Q1406 1819 1416 1831M1194 2025Q1208 2051 1229 2071M1156 2031Q1152 2062 1159 2093M1256 1859Q1260 1885 1268 1910M1163 1981Q1172 1997 1173 2015M1434 1815Q1453 1819 1469 1830M1226 1971Q1256 1983 1288 1985M1418 1850Q1431 1852 1444 1853M1399 2033Q1419 2035 1440 2034M1257 2011Q1289 2019 1322 2025M1325 1917Q1345 1919 1365 1913M1395 2063Q1414 2076 1429 2093M1104 1859Q1084 1835 1069 1807M1063 1887Q1047 1863 1030 1839M1058 1951Q1036 1957 1018 1972M1192 2027Q1199 2038 1204 2050M1341 2021Q1361 2023 1381 2021M1093 1899Q1077 1897 1063 1887M1189 1833Q1158 1819 1130 1799M1083 1883Q1063 1866 1042 1850M1389 2015Q1406 2014 1423 2012M1098 1932Q1084 1927 1069 1929M1147 2092Q1133 2099 1128 2113M1203 1953Q1227 1976 1248 2000M1370 1920Q1386 1912 1404 1908M1082 1842Q1073 1826 1061 1812M1111 2013Q1094 2040 1088 2072M1094 2008Q1088 2028 1072 2042M1269 2024Q1298 2027 1324 2040M1334 2001Q1357 1975 1385 1955M1132 2027Q1126 2052 1126 2079M1411 1897Q1443 1888 1474 1876M1077 2072Q1061 2094 1051 2119M1323 1988Q1340 1990 1355 1982M1121 1933Q1107 1937 1097 1949M1339 1778Q1347 1810 1360 1841M1138 1829Q1118 1806 1101 1780M1383 1789Q1403 1805 1417 1826M1347 1981Q1370 1959 1398 1945M1241 1870Q1256 1890 1263 1913M1257 1926Q1282 1934 1303 1950M1276 1778Q1261 1800 1246 1822M1162 1936Q1152 1956 1146 1978M1239 1922Q1263 1932 1284 1949M1292 2042Q1314 2052 1338 2054M1173 1928Q1169 1943 1165 1958M1340 1775Q1354 1798 1357 1825M1223 1984Q1240 1997 1261 1999M1138 1924Q1123 1956 1104 1985M1055 1877Q1046 1852 1028 1832M1426 2087Q1439 2098 1449 2111M1353 1883Q1369 1885 1385 1883M1380 1886Q1392 1883 1404 1884M1300 1814Q1314 1834 1317 1858M1229 2071Q1238 2092 1248 2111M1342 1792Q1349 1803 1355 1813M1215 1990Q1249 1993 1280 2004M1038 1818Q1032 1800 1029 1781M1377 1856Q1403 1862 1430 1862M1123 1870Q1099 1856 1077 1840M1214 1884Q1226 1916 1235 1949M1320 1878Q1342 1880 1363 1884M1348 2048Q1375 2046 1400 2037M1421 1905Q1434 1888 1454 1881M1201 1986Q1219 2001 1235 2018M1389 2085Q1401 2104 1414 2122M1268 1997Q1297 1996 1325 1987M1332 2053Q1363 2063 1393 2078M1313 2031Q1332 2026 1351 2017M1298 1790Q1298 1805 1288 1816M1151 1929Q1155 1963 1149 1997M1072 1928Q1038 1926 1003 1920M1152 1860Q1121 1842 1091 1826M1373 1936Q1383 1931 1393 1925M1183 1916Q1190 1946 1199 1977M1245 2065Q1252 2087 1260 2108M1263 1977Q1295 1971 1325 1961M1351 2061Q1364 2073 1380 2077M1081 1844Q1075 1823 1066 1802M1215 2074Q1218 2093 1227 2111M1377 1935Q1403 1916 1428 1895M1342 1849Q1353 1857 1367 1856M1410 2089Q1418 2103 1429 2116M1331 1864Q1363 1866 1391 1880M1195 1832Q1177 1831 1161 1838M1276 2034Q1305 2048 1335 2059M1069 1920Q1051 1912 1032 1906M1264 2092Q1261 2105 1267 2117M1342 2054Q1358 2061 1372 2070M1129 1884Q1116 1876 1101 1878M1402 1972Q1411 1962 1420 1952M1123 1946Q1112 1959 1098 1966M1154 1909Q1127 1910 1100 1917M1378 1800Q1389 1813 1405 1821M1237 1825Q1220 1832 1204 1841M1318 2074Q1333 2082 1349 2087M1366 1970Q1375 1957 1391 1953M1240 1924Q1252 1934 1267 1938M1220 1826Q1199 1834 1177 1830M1086 1987Q1075 2008 1061 2027M1146 1834Q1130 1806 1108 1783M1324 2048Q1354 2040 1384 2036M1306 1779Q1306 1807 1310 1833M1329 1933Q1347 1927 1362 1915M1212 2041Q1225 2071 1247 2094M1104 2060Q1093 2082 1074 2095M1303 1857Q1315 1869 1328 1881M1042 2083Q1030 2100 1014 2113M1313 1772Q1306 1803 1308 1835M1408 2076Q1420 2100 1440 2119M1302 1977Q1331 1965 1358 1949M1184 1963Q1193 1980 1208 1993M1116 1982Q1110 2011 1095 2036M1242 2046Q1247 2060 1259 2070M1061 2066Q1052 2076 1048 2090M1430 1859Q1448 1860 1464 1852M1418 2033Q1442 2051 1467 2070M1219 2038Q1235 2044 1247 2056M1319 1875Q1341 1884 1364 1889M1431 2029Q1452 2051 1477 2068M1142 1910Q1107 1914 1075 1926M1201 2018Q1217 2038 1227 2061M1424 1822Q1453 1832 1484 1834M1355 2008Q1372 2007 1388 1998M1134 1998Q1131 2020 1140 2039M1184 1891Q1169 1897 1158 1910M1125 1937Q1105 1953 1087 1972M1054 1993Q1046 2017 1030 2035M1049 1838Q1037 1831 1034 1817M1206 1827Q1174 1828 1143 1824M1399 1996Q1425 1976 1455 1967M1080 1907Q1063 1908 1049 1901M1159 1916Q1151 1945 1141 1973M1147 1868Q1119 1857 1097 1836M1201 1814Q1188 1811 1176 1816M1108 1850Q1091 1833 1073 1816M1105 2057Q1094 2072 1092 2091M1343 1886Q1356 1888 1369 1887M1090 2008Q1081 2024 1073 2042M1227 2062Q1241 2077 1252 2094M1401 2067Q1418 2082 1433 2099M1249 1969Q1269 1977 1289 1984M1188 1840Q1160 1839 1132 1837M1058 1953Q1043 1962 1029 1972M1061 2001Q1046 2014 1040 2032M1365 1875Q1379 1871 1394 1871M1369 1987Q1391 1965 1412 1942M1157 2032Q1159 2066 1164 2100M1223 2086Q1224 2098 1225 2110M1391 2042Q1418 2040 1445 2043M1343 2044Q1373 2048 1403 2057M1050 1821Q1045 1808 1043 1794M1408 2000Q1421 1985 1440 1979M1083 1967Q1073 1990 1054 2006M1079 1966Q1061 1973 1044 1979M1086 1966Q1078 1976 1072 1988M1345 2046Q1363 2054 1382 2050M1269 1847Q1285 1864 1297 1884M1400 2069Q1425 2086 1442 2110M1239 1810Q1218 1818 1195 1822M1189 1849Q1174 1854 1159 1855M1334 1993Q1352 1988 1367 1976M1238 1881Q1247 1897 1255 1913M1181 1913Q1180 1931 1176 1949M1302 1983Q1329 1969 1358 1957M1234 1821Q1220 1827 1208 1836M1387 2056Q1394 2067 1407 2069M1066 1917Q1046 1897 1019 1887M1343 2081Q1362 2110 1389 2129M1045 2041Q1032 2051 1024 2064M1296 1777Q1287 1798 1284 1821M1085 1840Q1069 1817 1053 1794M1049 1881Q1034 1867 1022 1849M1395 1949Q1421 1931 1442 1906M1310 2089Q1323 2093 1330 2105M1291 2049Q1318 2049 1344 2057M1431 1788Q1454 1809 1479 1827M1273 2065Q1280 2079 1289 2092M1287 1794Q1273 1808 1264 1826M1112 1826Q1097 1802 1086 1776M1063 1959Q1031 1956 1000 1965M1179 1963Q1182 1976 1189 1989M1120 1833Q1094 1817 1075 1792M1117 2009Q1118 2028 1118 2046M1210 1971Q1236 1990 1262 2009M1042 1843Q1033 1833 1030 1819M1217 1859Q1202 1879 1196 1903M1262 1803Q1247 1823 1238 1845M1135 1963Q1123 1982 1121 2004M1138 1849Q1111 1828 1086 1806M1271 1933Q1286 1932 1299 1941M1214 1891Q1209 1922 1207 1952M1151 1945Q1144 1962 1146 1980M1391 1851Q1419 1859 1448 1861M1386 1914Q1408 1897 1431 1881M1047 1871Q1037 1845 1023 1821M1141 1968Q1143 1999 1147 2030M1121 2039Q1109 2072 1107 2106M1333 1797Q1351 1817 1360 1842M1227 2030Q1246 2044 1267 2056M1254 1963Q1288 1966 1323 1965M1406 1790Q1410 1803 1420 1810M1192 1887Q1173 1914 1146 1934M1150 1952Q1146 1982 1151 2012M1040 2044Q1032 2056 1030 2070M1252 2024Q1278 2028 1303 2026M1346 2066Q1374 2080 1401 2096M1115 1911Q1099 1915 1084 1909M1202 1915Q1212 1941 1222 1967M1232 1819Q1202 1822 1175 1833M1229 2038Q1241 2062 1252 2086M1346 1984Q1363 1962 1387 1949M1265 2062Q1286 2078 1303 2098M1343 2078Q1355 2083 1360 2096M1186 1883Q1172 1887 1164 1899M1406 1998Q1417 1998 1427 1990M1051 1840Q1041 1817 1035 1793M1268 1806Q1267 1840 1257 1872M1284 1937Q1312 1930 1340 1927M1309 1909Q1331 1909 1350 1900M1172 1825Q1143 1813 1113 1805M1317 1811Q1335 1830 1349 1852M1351 2050Q1376 2070 1403 2089M1085 2047Q1082 2064 1069 2075M1147 2025Q1140 2047 1136 2070M1279 1806Q1272 1823 1267 1841M1328 1786Q1346 1815 1358 1847M1397 2057Q1409 2064 1419 2073M1142 1944Q1122 1972 1096 1995M1238 1864Q1236 1876 1229 1885M1224 1998Q1236 2007 1250 2008M1288 1803Q1286 1827 1285 1852" stroke="#c8c8c3" stroke-width="1" fill="none" opacity="0.28" stroke-linecap="round"/>
</g>
<rect x="1049.1" y="1820.9" width="385.0" height="262.3" fill="none" stroke="#1c1c1c" stroke-width="5"/>
<g clip-path="url(#clipF4)">
<rect x="1463.7" y="1818.4" width="389.1" height="267.3" fill="#8a8985"/>
<rect x="1463.7" y="1818.4" width="389.1" height="267.3" fill="#000" filter="url(#texF4)" opacity="0.35"/>
<rect x="1463.7" y="1818.4" width="389.1" height="267.3" fill="url(#tg4_0)"/>
<rect x="1463.7" y="1818.4" width="389.1" height="267.3" fill="url(#tg4_1)"/>
<rect x="1463.7" y="1818.4" width="389.1" height="267.3" fill="url(#tg4_2)"/>
<rect x="1463.7" y="1818.4" width="389.1" height="267.3" fill="url(#tg4_3)"/>
<path d="M1550 1812Q1539 1811 1530 1803M1850 2022Q1869 2013 1886 2001M1475 2043Q1480 2057 1476 2071M1821 1831Q1855 1826 1889 1832M1648 2063Q1652 2080 1649 2097M1708 1879Q1723 1900 1741 1920M1704 1956Q1723 1962 1738 1975M1591 2044Q1590 2056 1588 2068M1714 1810Q1707 1836 1708 1862M1584 1835Q1557 1817 1529 1802M1500 1886Q1473 1881 1450 1866M1706 2051Q1720 2080 1740 2106M1659 2028Q1672 2052 1686 2076M1579 1897Q1563 1927 1542 1953M1485 2052Q1474 2078 1470 2105M1758 1776Q1763 1800 1761 1824M1579 1954Q1578 1981 1585 2007M1719 1831Q1722 1853 1734 1872M1759 2008Q1782 2009 1805 2012M1537 1821Q1516 1816 1500 1801M1838 1961Q1846 1932 1859 1904M1691 1995Q1716 2007 1744 2010M1591 1988Q1586 2003 1589 2018M1669 2024Q1685 2053 1697 2085M1728 1806Q1716 1833 1707 1861M1549 1876Q1533 1873 1516 1878M1488 1946Q1483 1958 1473 1965M1725 1922Q1742 1918 1759 1921M1720 2066Q1729 2094 1733 2122M1809 1963Q1833 1938 1857 1913M1839 2016Q1850 2001 1868 1996M1581 2063Q1573 2082 1565 2101M1508 1823Q1477 1814 1446 1802M1702 1787Q1679 1801 1654 1810M1692 1920Q1721 1938 1747 1959M1536 1917Q1523 1935 1504 1946M1730 1838Q1732 1858 1742 1876M1580 1937Q1577 1957 1576 1978M1538 1910Q1521 1939 1501 1965M1836 1856Q1858 1839 1885 1831M1564 1808Q1556 1797 1542 1795M1447 1998Q1462 2027 1467 2059M1610 2018Q1606 2052 1596 2085M1798 2042Q1812 2043 1822 2054M1562 2005Q1569 2029 1572 2054M1778 2049Q1790 2061 1806 2067M1849 2049Q1863 2051 1876 2046M1497 1890Q1469 1883 1440 1884M1526 1962Q1514 1988 1507 2016M1745 2065Q1748 2080 1758 2090M1482 1885Q1448 1887 1414 1895M1782 1927Q1795 1929 1806 1922M1720 2008Q1751 2005 1783 2002M1840 2078Q1856 2105 1880 2126M1777 1985Q1807 1976 1832 1958M1499 1832Q1481 1814 1458 1802M1789 2091Q1792 2104 1800 2115M1773 1812Q1794 1835 1823 1849M1509 2015Q1515 2039 1516 2065M1650 1975Q1657 1992 1667 2007M1499 1878Q1470 1875 1441 1872M1729 1788Q1719 1821 1710 1854M1677 2056Q1678 2067 1684 2077M1590 2048Q1584 2076 1579 2103M1805 2076Q1813 2094 1821 2111M1756 1994Q1778 1985 1801 1980M1653 2054Q1657 2068 1656 2084M1645 1915Q1655 1940 1667 1964M1663 1826Q1653 1834 1641 1833M1762 1916Q1785 1914 1807 1910M1835 1955Q1849 1935 1855 1911M1723 1808Q1726 1827 1719 1845M1457 1931Q1442 1937 1435 1951M1462 2046Q1462 2078 1469 2109M1773 1806Q1779 1831 1796 1851M1638 1815Q1622 1814 1607 1819M1525 1825Q1513 1812 1501 1799M1729 1931Q1761 1926 1794 1930M1743 2040Q1755 2056 1771 2069M1695 1869Q1703 1889 1720 1902M1491 1925Q1470 1938 1458 1959M1687 1808Q1665 1813 1643 1814M1753 2032Q1768 2034 1782 2038M1697 2049Q1699 2064 1711 2074M1534 1942Q1527 1961 1513 1975M1565 1908Q1553 1938 1535 1966M1603 1856Q1574 1866 1543 1866M1530 1906Q1498 1904 1466 1911M1532 1897Q1510 1912 1485 1916M1855 1982Q1860 1956 1872 1934M1693 1861Q1689 1882 1693 1903M1466 2021Q1466 2043 1473 2063M1701 1860Q1709 1893 1726 1922M1703 2074Q1688 2105 1676 2137M1845 1989Q1852 1976 1866 1969M1528 1883Q1500 1885 1472 1884M1625 1944Q1636 1977 1641 2012M1618 1980Q1620 1996 1631 2008M1840 1882Q1866 1865 1885 1840M1630 1860Q1615 1871 1599 1881M1573 1880Q1551 1881 1528 1882M1644 2041Q1649 2054 1653 2068M1570 1885Q1543 1880 1517 1875M1590 1936Q1581 1960 1573 1984M1725 1820Q1712 1839 1710 1861M1791 1919Q1808 1913 1822 1901M1580 1808Q1571 1802 1564 1793M1733 1833Q1747 1861 1762 1888M1666 1955Q1680 1960 1687 1974M1493 1973Q1490 2004 1485 2035M1802 1974Q1826 1951 1849 1926M1631 1865Q1615 1890 1594 1911M1654 1924Q1676 1949 1704 1970M1524 2052Q1511 2084 1493 2114M1779 1870Q1793 1867 1806 1873M1857 1841Q1870 1832 1886 1829M1603 2007Q1608 2040 1608 2074M1679 1845Q1658 1871 1642 1901M1640 1873Q1614 1891 1584 1902M1628 2050Q1622 2079 1624 2107M1686 1990Q1714 1991 1741 1999M1556 2078Q1550 2093 1547 2108M1853 1888Q1868 1877 1875 1859M1651 1972Q1657 1982 1663 1991M1678 1794Q1654 1802 1631 1810M1776 1859Q1792 1859 1808 1862M1788 1892Q1815 1887 1842 1880M1511 1888Q1480 1880 1449 1884M1741 2077Q1745 2089 1745 2101M1561 1931Q1546 1957 1540 1987M1768 2044Q1784 2051 1799 2061M1555 2000Q1551 2015 1556 2030M1672 1832Q1643 1852 1614 1870M1819 2025Q1828 2017 1839 2014M1781 1793Q1794 1812 1800 1833M1768 1817Q1776 1832 1784 1846M1495 2053Q1488 2079 1480 2104M1523 1832Q1501 1807 1475 1785M1786 2084Q1806 2101 1820 2122M1497 1972Q1493 1999 1487 2025M1544 1898Q1526 1903 1512 1915M1519 2046Q1515 2068 1504 2088M1700 2026Q1732 2034 1761 2050M1549 2089Q1544 2104 1531 2114M1491 2006Q1494 2036 1504 2065M1704 1830Q1694 1857 1684 1883M1491 2054Q1493 2075 1486 2095M1473 2039Q1468 2074 1473 2108M1719 1847Q1742 1869 1766 1890M1720 1824Q1710 1845 1712 1868M1531 1868Q1506 1867 1482 1863M1638 2024Q1647 2033 1647 2046M1600 2053Q1598 2075 1590 2094M1491 1875Q1464 1870 1436 1872M1846 1934Q1860 1913 1877 1895M1495 1907Q1478 1908 1463 1917M1678 1932Q1700 1942 1714 1961M1547 1879Q1523 1871 1497 1867M1593 2026Q1596 2043 1593 2060M1524 2037Q1520 2068 1517 2098M1643 1851Q1624 1863 1603 1870M1486 1811Q1458 1795 1427 1788M1709 2005Q1724 2010 1741 2009M1514 2016Q1512 2029 1516 2042M1672 1929Q1696 1944 1721 1958M1614 1901Q1596 1926 1580 1952M1473 1819Q1462 1809 1448 1810M1473 2059Q1467 2073 1468 2089M1539 2070Q1522 2085 1513 2106M1612 1966Q1625 1979 1630 1996M1815 1975Q1829 1945 1853 1922M1592 1898Q1565 1912 1538 1926M1504 1934Q1493 1949 1476 1957M1784 2067Q1795 2093 1808 2118M1565 1911Q1552 1924 1538 1937M1848 2029Q1860 2028 1872 2025M1717 1940Q1745 1937 1774 1937M1591 2023Q1596 2057 1591 2092M1643 1887Q1625 1910 1615 1939M1597 1987Q1604 2003 1600 2021M1581 1974Q1588 1996 1592 2018M1822 2074Q1841 2091 1857 2111M1556 1835Q1544 1827 1531 1823M1694 1822Q1679 1848 1657 1870M1483 2049Q1478 2075 1479 2101M1775 2039Q1804 2047 1831 2058M1735 1796Q1728 1807 1730 1820M1761 1957Q1775 1949 1791 1947M1484 1963Q1484 1977 1476 1989M1619 2003Q1638 2029 1646 2059M1778 1839Q1793 1852 1812 1857M1547 1992Q1546 2015 1538 2035M1747 1821Q1762 1849 1782 1874M1731 2075Q1739 2089 1740 2105M1641 1904Q1639 1918 1635 1931M1810 1947Q1833 1922 1857 1897M1566 2076Q1545 2103 1521 2127M1607 1862Q1575 1872 1543 1881M1700 1901Q1716 1920 1734 1938M1758 1901Q1772 1898 1785 1904M1552 1884Q1539 1882 1530 1891M1523 1915Q1498 1924 1476 1939M1605 1949Q1614 1967 1620 1986M1501 2000Q1505 2013 1506 2026M1587 1975Q1591 1988 1585 2000M1478 1841Q1464 1824 1444 1815M1797 2016Q1814 2011 1832 2012M1739 1828Q1741 1839 1740 1851M1544 2082Q1533 2092 1525 2104M1720 2000Q1737 2007 1754 2016M1719 1843Q1722 1854 1724 1866M1670 2018Q1677 2036 1687 2052M1769 1958Q1780 1945 1795 1939M1701 1851Q1713 1876 1727 1901M1670 2051Q1668 2068 1672 2086M1793 2054Q1816 2069 1838 2086M1745 1936Q1762 1940 1778 1938M1496 1828Q1476 1821 1457 1812M1469 2071Q1465 2091 1463 2111M1729 1840Q1735 1854 1744 1867M1606 1937Q1608 1971 1599 2004M1725 1896Q1757 1902 1788 1912M1851 2039Q1862 2031 1876 2030M1796 1973Q1805 1960 1818 1951M1579 2034Q1574 2064 1567 2093M1444 2053Q1445 2079 1445 2105M1536 1982Q1540 2009 1547 2035M1792 1854Q1808 1859 1825 1859M1722 1816Q1721 1844 1730 1870M1726 1961Q1748 1956 1771 1949M1609 2030Q1614 2048 1615 2066M1808 1791Q1825 1799 1839 1811M1751 2050Q1769 2067 1778 2090M1811 2028Q1835 2021 1858 2008M1655 1878Q1647 1901 1634 1921M1666 1907Q1677 1916 1682 1930M1711 1823Q1710 1840 1702 1855M1714 1787Q1685 1797 1661 1816M1559 1880Q1530 1890 1499 1896M1712 1802Q1704 1817 1693 1832M1648 1808Q1637 1806 1624 1805M1672 2044Q1681 2069 1680 2096M1754 2045Q1775 2059 1800 2062M1494 1808Q1480 1801 1465 1798M1563 1895Q1542 1908 1528 1929M1468 2058Q1473 2070 1466 2081M1714 2016Q1739 2040 1761 2066M1550 2027Q1554 2044 1555 2061M1633 1952Q1638 1983 1655 2010M1663 1980Q1687 1995 1712 2007M1671 1864Q1667 1892 1665 1920M1724 1863Q1732 1874 1734 1888M1487 2063Q1485 2075 1490 2086M1718 1810Q1721 1835 1712 1858M1463 2020Q1466 2046 1460 2070M1541 2056Q1544 2078 1538 2100M1668 1992Q1689 2006 1709 2020M1512 1850Q1491 1841 1475 1824M1791 1937Q1816 1920 1839 1901M1759 2027Q1775 2028 1792 2027M1749 2070Q1759 2098 1759 2129M1765 1818Q1776 1831 1788 1843M1517 2029Q1514 2060 1513 2092M1480 1862Q1457 1859 1434 1861M1525 1943Q1515 1963 1516 1986M1702 1821Q1680 1842 1660 1865M1569 1978Q1562 2006 1564 2035M1591 1994Q1595 2004 1592 2016M1547 1841Q1531 1840 1519 1829M1558 1819Q1534 1805 1512 1789M1551 2065Q1553 2081 1545 2095M1511 1842Q1485 1821 1462 1797M1817 1986Q1825 1977 1837 1974M1806 1865Q1827 1855 1850 1855M1765 1789Q1765 1818 1769 1846M1584 1874Q1568 1881 1552 1885M1774 2012Q1788 2001 1805 1996M1638 2038Q1635 2069 1621 2098M1604 1889Q1595 1902 1583 1909M1632 2056Q1626 2084 1614 2111M1475 1904Q1448 1917 1422 1933M1684 1907Q1699 1919 1711 1935M1662 2008Q1677 2017 1690 2028M1683 1840Q1672 1861 1653 1875M1557 1982Q1569 2007 1571 2036M1663 1931Q1680 1953 1702 1970M1834 1993Q1859 1977 1881 1958M1764 1837Q1779 1847 1784 1865M1818 2026Q1846 2027 1873 2022M1826 1790Q1847 1801 1861 1821M1681 1828Q1667 1835 1652 1842M1671 1810Q1659 1817 1647 1814M1829 2022Q1850 2007 1872 1994M1815 2035Q1836 2033 1857 2030M1750 2004Q1768 2003 1784 2011M1783 2075Q1797 2106 1820 2131M1568 2080Q1564 2092 1560 2105M1540 1993Q1540 2009 1536 2025M1758 2042Q1786 2053 1812 2069M1680 1973Q1694 1983 1711 1985M1517 1859Q1491 1859 1467 1850M1680 1914Q1700 1930 1721 1946M1782 1791Q1796 1814 1818 1829M1575 1907Q1560 1908 1550 1919M1548 2080Q1537 2101 1527 2123M1616 1846Q1592 1835 1567 1825M1824 1906Q1843 1886 1864 1868M1527 1837Q1510 1826 1494 1813M1707 1935Q1733 1941 1759 1947M1588 2026Q1595 2047 1596 2068M1480 1912Q1462 1922 1450 1937M1719 1894Q1745 1913 1774 1926M1506 1807Q1498 1797 1486 1793M1539 1870Q1515 1873 1492 1869M1572 1883Q1548 1894 1523 1903M1538 2067Q1530 2085 1521 2101M1743 1960Q1756 1958 1768 1961M1660 1838Q1639 1852 1618 1865M1539 1901Q1521 1906 1502 1912M1661 1921Q1684 1942 1713 1956M1581 1833Q1555 1821 1531 1806M1519 1921Q1503 1930 1495 1946M1724 2079Q1728 2090 1735 2100M1590 1943Q1580 1957 1578 1975M1525 1999Q1519 2027 1516 2055M1723 1858Q1749 1877 1770 1901M1797 1975Q1807 1966 1815 1954M1726 2060Q1738 2078 1755 2090M1647 2061Q1641 2076 1647 2092M1683 1997Q1708 2018 1725 2046M1849 1976Q1859 1955 1868 1935M1486 2030Q1493 2056 1495 2083M1663 2075Q1654 2106 1644 2136M1501 1812Q1479 1794 1452 1785M1680 1836Q1676 1870 1670 1903M1633 2018Q1638 2049 1632 2079M1588 1907Q1568 1925 1555 1949M1801 2019Q1827 2011 1851 1996M1580 1914Q1562 1925 1547 1941M1590 1853Q1579 1846 1566 1846M1614 2035Q1607 2065 1605 2095M1759 1791Q1767 1815 1781 1837M1705 1964Q1729 1976 1756 1982M1777 2043Q1795 2039 1812 2045M1632 2065Q1628 2087 1615 2106M1676 1969Q1703 1975 1729 1981M1795 1862Q1810 1856 1825 1860M1720 1965Q1746 1959 1772 1964M1722 2011Q1745 2012 1767 2008M1662 2004Q1687 2021 1706 2043M1643 1947Q1661 1963 1680 1978M1740 1869Q1760 1876 1781 1883M1607 1832Q1572 1830 1540 1820M1700 1820Q1699 1853 1701 1885M1726 2001Q1737 2004 1746 2010M1542 1894Q1508 1896 1475 1902M1799 2033Q1824 2031 1849 2036M1758 2021Q1770 2015 1784 2018M1524 1934Q1510 1956 1493 1978M1612 1953Q1610 1970 1614 1987M1859 2044Q1870 2041 1881 2043M1698 1981Q1712 1991 1729 1997M1765 2073Q1774 2103 1776 2134M1635 2018Q1645 2032 1655 2046M1744 1818Q1764 1840 1785 1861M1814 2022Q1842 2013 1871 2013M1507 1899Q1478 1907 1448 1903M1672 2039Q1682 2051 1685 2065M1525 1911Q1505 1928 1488 1949M1761 2007Q1783 1998 1804 1989M1599 1873Q1574 1882 1548 1887M1694 1809Q1675 1826 1653 1837M1550 1911Q1523 1930 1498 1951M1637 1819Q1623 1815 1611 1822M1601 1990Q1612 2014 1614 2040M1481 1822Q1467 1819 1455 1811M1713 2070Q1723 2099 1722 2130M1818 2090Q1824 2103 1835 2112M1657 2016Q1666 2039 1670 2063M1558 1951Q1542 1978 1535 2009M1694 1839Q1692 1853 1684 1866M1613 1881Q1599 1888 1592 1903M1724 1805Q1729 1836 1726 1868M1835 1895Q1847 1879 1864 1868M1579 1910Q1575 1926 1565 1940M1478 1938Q1464 1965 1446 1990M1840 1927Q1851 1916 1861 1905M1577 2020Q1569 2047 1572 2076M1718 2024Q1728 2038 1742 2047M1650 2087Q1644 2100 1642 2114M1693 2022Q1703 2028 1714 2035M1669 1795Q1643 1803 1617 1808M1679 2076Q1667 2100 1656 2124M1527 1990Q1527 2022 1532 2054M1864 1977Q1872 1969 1878 1959M1465 1953Q1464 1968 1454 1980M1528 1945Q1518 1969 1516 1994M1481 1907Q1454 1904 1429 1913M1656 1841Q1634 1844 1614 1856M1668 1872Q1672 1896 1681 1919M1759 1980Q1774 1976 1788 1968M1529 2063Q1521 2082 1519 2102M1521 1880Q1506 1878 1491 1874M1812 1946Q1829 1918 1851 1894M1692 2043Q1713 2067 1727 2096M1803 1961Q1822 1939 1838 1915M1769 2062Q1782 2074 1786 2092M1659 1819Q1638 1819 1618 1828M1471 2046Q1476 2058 1475 2071" stroke="#c8c8c3" stroke-width="1" fill="none" opacity="0.3" stroke-linecap="round" transform="translate(1.3 1.3)"/>
<path d="M1550 1812Q1539 1811 1530 1803M1850 2022Q1869 2013 1886 2001M1475 2043Q1480 2057 1476 2071M1821 1831Q1855 1826 1889 1832M1648 2063Q1652 2080 1649 2097M1708 1879Q1723 1900 1741 1920M1704 1956Q1723 1962 1738 1975M1591 2044Q1590 2056 1588 2068M1714 1810Q1707 1836 1708 1862M1584 1835Q1557 1817 1529 1802M1500 1886Q1473 1881 1450 1866M1706 2051Q1720 2080 1740 2106M1659 2028Q1672 2052 1686 2076M1579 1897Q1563 1927 1542 1953M1485 2052Q1474 2078 1470 2105M1758 1776Q1763 1800 1761 1824M1579 1954Q1578 1981 1585 2007M1719 1831Q1722 1853 1734 1872M1759 2008Q1782 2009 1805 2012M1537 1821Q1516 1816 1500 1801M1838 1961Q1846 1932 1859 1904M1691 1995Q1716 2007 1744 2010M1591 1988Q1586 2003 1589 2018M1669 2024Q1685 2053 1697 2085M1728 1806Q1716 1833 1707 1861M1549 1876Q1533 1873 1516 1878M1488 1946Q1483 1958 1473 1965M1725 1922Q1742 1918 1759 1921M1720 2066Q1729 2094 1733 2122M1809 1963Q1833 1938 1857 1913M1839 2016Q1850 2001 1868 1996M1581 2063Q1573 2082 1565 2101M1508 1823Q1477 1814 1446 1802M1702 1787Q1679 1801 1654 1810M1692 1920Q1721 1938 1747 1959M1536 1917Q1523 1935 1504 1946M1730 1838Q1732 1858 1742 1876M1580 1937Q1577 1957 1576 1978M1538 1910Q1521 1939 1501 1965M1836 1856Q1858 1839 1885 1831M1564 1808Q1556 1797 1542 1795M1447 1998Q1462 2027 1467 2059M1610 2018Q1606 2052 1596 2085M1798 2042Q1812 2043 1822 2054M1562 2005Q1569 2029 1572 2054M1778 2049Q1790 2061 1806 2067M1849 2049Q1863 2051 1876 2046M1497 1890Q1469 1883 1440 1884M1526 1962Q1514 1988 1507 2016M1745 2065Q1748 2080 1758 2090M1482 1885Q1448 1887 1414 1895M1782 1927Q1795 1929 1806 1922M1720 2008Q1751 2005 1783 2002M1840 2078Q1856 2105 1880 2126M1777 1985Q1807 1976 1832 1958M1499 1832Q1481 1814 1458 1802M1789 2091Q1792 2104 1800 2115M1773 1812Q1794 1835 1823 1849M1509 2015Q1515 2039 1516 2065M1650 1975Q1657 1992 1667 2007M1499 1878Q1470 1875 1441 1872M1729 1788Q1719 1821 1710 1854M1677 2056Q1678 2067 1684 2077M1590 2048Q1584 2076 1579 2103M1805 2076Q1813 2094 1821 2111M1756 1994Q1778 1985 1801 1980M1653 2054Q1657 2068 1656 2084M1645 1915Q1655 1940 1667 1964M1663 1826Q1653 1834 1641 1833M1762 1916Q1785 1914 1807 1910M1835 1955Q1849 1935 1855 1911M1723 1808Q1726 1827 1719 1845M1457 1931Q1442 1937 1435 1951M1462 2046Q1462 2078 1469 2109M1773 1806Q1779 1831 1796 1851M1638 1815Q1622 1814 1607 1819M1525 1825Q1513 1812 1501 1799M1729 1931Q1761 1926 1794 1930M1743 2040Q1755 2056 1771 2069M1695 1869Q1703 1889 1720 1902M1491 1925Q1470 1938 1458 1959M1687 1808Q1665 1813 1643 1814M1753 2032Q1768 2034 1782 2038M1697 2049Q1699 2064 1711 2074M1534 1942Q1527 1961 1513 1975M1565 1908Q1553 1938 1535 1966M1603 1856Q1574 1866 1543 1866M1530 1906Q1498 1904 1466 1911M1532 1897Q1510 1912 1485 1916M1855 1982Q1860 1956 1872 1934M1693 1861Q1689 1882 1693 1903M1466 2021Q1466 2043 1473 2063M1701 1860Q1709 1893 1726 1922M1703 2074Q1688 2105 1676 2137M1845 1989Q1852 1976 1866 1969M1528 1883Q1500 1885 1472 1884M1625 1944Q1636 1977 1641 2012M1618 1980Q1620 1996 1631 2008M1840 1882Q1866 1865 1885 1840M1630 1860Q1615 1871 1599 1881M1573 1880Q1551 1881 1528 1882M1644 2041Q1649 2054 1653 2068M1570 1885Q1543 1880 1517 1875M1590 1936Q1581 1960 1573 1984M1725 1820Q1712 1839 1710 1861M1791 1919Q1808 1913 1822 1901M1580 1808Q1571 1802 1564 1793M1733 1833Q1747 1861 1762 1888M1666 1955Q1680 1960 1687 1974M1493 1973Q1490 2004 1485 2035M1802 1974Q1826 1951 1849 1926M1631 1865Q1615 1890 1594 1911M1654 1924Q1676 1949 1704 1970M1524 2052Q1511 2084 1493 2114M1779 1870Q1793 1867 1806 1873M1857 1841Q1870 1832 1886 1829M1603 2007Q1608 2040 1608 2074M1679 1845Q1658 1871 1642 1901M1640 1873Q1614 1891 1584 1902M1628 2050Q1622 2079 1624 2107M1686 1990Q1714 1991 1741 1999M1556 2078Q1550 2093 1547 2108M1853 1888Q1868 1877 1875 1859M1651 1972Q1657 1982 1663 1991M1678 1794Q1654 1802 1631 1810M1776 1859Q1792 1859 1808 1862M1788 1892Q1815 1887 1842 1880M1511 1888Q1480 1880 1449 1884M1741 2077Q1745 2089 1745 2101M1561 1931Q1546 1957 1540 1987M1768 2044Q1784 2051 1799 2061M1555 2000Q1551 2015 1556 2030M1672 1832Q1643 1852 1614 1870M1819 2025Q1828 2017 1839 2014M1781 1793Q1794 1812 1800 1833M1768 1817Q1776 1832 1784 1846M1495 2053Q1488 2079 1480 2104M1523 1832Q1501 1807 1475 1785M1786 2084Q1806 2101 1820 2122M1497 1972Q1493 1999 1487 2025M1544 1898Q1526 1903 1512 1915M1519 2046Q1515 2068 1504 2088M1700 2026Q1732 2034 1761 2050M1549 2089Q1544 2104 1531 2114M1491 2006Q1494 2036 1504 2065M1704 1830Q1694 1857 1684 1883M1491 2054Q1493 2075 1486 2095M1473 2039Q1468 2074 1473 2108M1719 1847Q1742 1869 1766 1890M1720 1824Q1710 1845 1712 1868M1531 1868Q1506 1867 1482 1863M1638 2024Q1647 2033 1647 2046M1600 2053Q1598 2075 1590 2094M1491 1875Q1464 1870 1436 1872M1846 1934Q1860 1913 1877 1895M1495 1907Q1478 1908 1463 1917M1678 1932Q1700 1942 1714 1961M1547 1879Q1523 1871 1497 1867M1593 2026Q1596 2043 1593 2060M1524 2037Q1520 2068 1517 2098M1643 1851Q1624 1863 1603 1870M1486 1811Q1458 1795 1427 1788M1709 2005Q1724 2010 1741 2009M1514 2016Q1512 2029 1516 2042M1672 1929Q1696 1944 1721 1958M1614 1901Q1596 1926 1580 1952M1473 1819Q1462 1809 1448 1810M1473 2059Q1467 2073 1468 2089M1539 2070Q1522 2085 1513 2106M1612 1966Q1625 1979 1630 1996M1815 1975Q1829 1945 1853 1922M1592 1898Q1565 1912 1538 1926M1504 1934Q1493 1949 1476 1957M1784 2067Q1795 2093 1808 2118M1565 1911Q1552 1924 1538 1937M1848 2029Q1860 2028 1872 2025M1717 1940Q1745 1937 1774 1937M1591 2023Q1596 2057 1591 2092M1643 1887Q1625 1910 1615 1939M1597 1987Q1604 2003 1600 2021M1581 1974Q1588 1996 1592 2018M1822 2074Q1841 2091 1857 2111M1556 1835Q1544 1827 1531 1823M1694 1822Q1679 1848 1657 1870M1483 2049Q1478 2075 1479 2101M1775 2039Q1804 2047 1831 2058M1735 1796Q1728 1807 1730 1820M1761 1957Q1775 1949 1791 1947M1484 1963Q1484 1977 1476 1989M1619 2003Q1638 2029 1646 2059M1778 1839Q1793 1852 1812 1857M1547 1992Q1546 2015 1538 2035M1747 1821Q1762 1849 1782 1874M1731 2075Q1739 2089 1740 2105M1641 1904Q1639 1918 1635 1931M1810 1947Q1833 1922 1857 1897M1566 2076Q1545 2103 1521 2127M1607 1862Q1575 1872 1543 1881M1700 1901Q1716 1920 1734 1938M1758 1901Q1772 1898 1785 1904M1552 1884Q1539 1882 1530 1891M1523 1915Q1498 1924 1476 1939M1605 1949Q1614 1967 1620 1986M1501 2000Q1505 2013 1506 2026M1587 1975Q1591 1988 1585 2000M1478 1841Q1464 1824 1444 1815M1797 2016Q1814 2011 1832 2012M1739 1828Q1741 1839 1740 1851M1544 2082Q1533 2092 1525 2104M1720 2000Q1737 2007 1754 2016M1719 1843Q1722 1854 1724 1866M1670 2018Q1677 2036 1687 2052M1769 1958Q1780 1945 1795 1939M1701 1851Q1713 1876 1727 1901M1670 2051Q1668 2068 1672 2086M1793 2054Q1816 2069 1838 2086M1745 1936Q1762 1940 1778 1938M1496 1828Q1476 1821 1457 1812M1469 2071Q1465 2091 1463 2111M1729 1840Q1735 1854 1744 1867M1606 1937Q1608 1971 1599 2004M1725 1896Q1757 1902 1788 1912M1851 2039Q1862 2031 1876 2030M1796 1973Q1805 1960 1818 1951M1579 2034Q1574 2064 1567 2093M1444 2053Q1445 2079 1445 2105M1536 1982Q1540 2009 1547 2035M1792 1854Q1808 1859 1825 1859M1722 1816Q1721 1844 1730 1870M1726 1961Q1748 1956 1771 1949M1609 2030Q1614 2048 1615 2066M1808 1791Q1825 1799 1839 1811M1751 2050Q1769 2067 1778 2090M1811 2028Q1835 2021 1858 2008M1655 1878Q1647 1901 1634 1921M1666 1907Q1677 1916 1682 1930M1711 1823Q1710 1840 1702 1855M1714 1787Q1685 1797 1661 1816M1559 1880Q1530 1890 1499 1896M1712 1802Q1704 1817 1693 1832M1648 1808Q1637 1806 1624 1805M1672 2044Q1681 2069 1680 2096M1754 2045Q1775 2059 1800 2062M1494 1808Q1480 1801 1465 1798M1563 1895Q1542 1908 1528 1929M1468 2058Q1473 2070 1466 2081M1714 2016Q1739 2040 1761 2066M1550 2027Q1554 2044 1555 2061M1633 1952Q1638 1983 1655 2010M1663 1980Q1687 1995 1712 2007M1671 1864Q1667 1892 1665 1920M1724 1863Q1732 1874 1734 1888M1487 2063Q1485 2075 1490 2086M1718 1810Q1721 1835 1712 1858M1463 2020Q1466 2046 1460 2070M1541 2056Q1544 2078 1538 2100M1668 1992Q1689 2006 1709 2020M1512 1850Q1491 1841 1475 1824M1791 1937Q1816 1920 1839 1901M1759 2027Q1775 2028 1792 2027M1749 2070Q1759 2098 1759 2129M1765 1818Q1776 1831 1788 1843M1517 2029Q1514 2060 1513 2092M1480 1862Q1457 1859 1434 1861M1525 1943Q1515 1963 1516 1986M1702 1821Q1680 1842 1660 1865M1569 1978Q1562 2006 1564 2035M1591 1994Q1595 2004 1592 2016M1547 1841Q1531 1840 1519 1829M1558 1819Q1534 1805 1512 1789M1551 2065Q1553 2081 1545 2095M1511 1842Q1485 1821 1462 1797M1817 1986Q1825 1977 1837 1974M1806 1865Q1827 1855 1850 1855M1765 1789Q1765 1818 1769 1846M1584 1874Q1568 1881 1552 1885M1774 2012Q1788 2001 1805 1996M1638 2038Q1635 2069 1621 2098M1604 1889Q1595 1902 1583 1909M1632 2056Q1626 2084 1614 2111M1475 1904Q1448 1917 1422 1933M1684 1907Q1699 1919 1711 1935M1662 2008Q1677 2017 1690 2028M1683 1840Q1672 1861 1653 1875M1557 1982Q1569 2007 1571 2036M1663 1931Q1680 1953 1702 1970M1834 1993Q1859 1977 1881 1958M1764 1837Q1779 1847 1784 1865M1818 2026Q1846 2027 1873 2022M1826 1790Q1847 1801 1861 1821M1681 1828Q1667 1835 1652 1842M1671 1810Q1659 1817 1647 1814M1829 2022Q1850 2007 1872 1994M1815 2035Q1836 2033 1857 2030M1750 2004Q1768 2003 1784 2011M1783 2075Q1797 2106 1820 2131M1568 2080Q1564 2092 1560 2105M1540 1993Q1540 2009 1536 2025M1758 2042Q1786 2053 1812 2069M1680 1973Q1694 1983 1711 1985M1517 1859Q1491 1859 1467 1850M1680 1914Q1700 1930 1721 1946M1782 1791Q1796 1814 1818 1829M1575 1907Q1560 1908 1550 1919M1548 2080Q1537 2101 1527 2123M1616 1846Q1592 1835 1567 1825M1824 1906Q1843 1886 1864 1868M1527 1837Q1510 1826 1494 1813M1707 1935Q1733 1941 1759 1947M1588 2026Q1595 2047 1596 2068M1480 1912Q1462 1922 1450 1937M1719 1894Q1745 1913 1774 1926M1506 1807Q1498 1797 1486 1793M1539 1870Q1515 1873 1492 1869M1572 1883Q1548 1894 1523 1903M1538 2067Q1530 2085 1521 2101M1743 1960Q1756 1958 1768 1961M1660 1838Q1639 1852 1618 1865M1539 1901Q1521 1906 1502 1912M1661 1921Q1684 1942 1713 1956M1581 1833Q1555 1821 1531 1806M1519 1921Q1503 1930 1495 1946M1724 2079Q1728 2090 1735 2100M1590 1943Q1580 1957 1578 1975M1525 1999Q1519 2027 1516 2055M1723 1858Q1749 1877 1770 1901M1797 1975Q1807 1966 1815 1954M1726 2060Q1738 2078 1755 2090M1647 2061Q1641 2076 1647 2092M1683 1997Q1708 2018 1725 2046M1849 1976Q1859 1955 1868 1935M1486 2030Q1493 2056 1495 2083M1663 2075Q1654 2106 1644 2136M1501 1812Q1479 1794 1452 1785M1680 1836Q1676 1870 1670 1903M1633 2018Q1638 2049 1632 2079M1588 1907Q1568 1925 1555 1949M1801 2019Q1827 2011 1851 1996M1580 1914Q1562 1925 1547 1941M1590 1853Q1579 1846 1566 1846M1614 2035Q1607 2065 1605 2095M1759 1791Q1767 1815 1781 1837M1705 1964Q1729 1976 1756 1982M1777 2043Q1795 2039 1812 2045M1632 2065Q1628 2087 1615 2106M1676 1969Q1703 1975 1729 1981M1795 1862Q1810 1856 1825 1860M1720 1965Q1746 1959 1772 1964M1722 2011Q1745 2012 1767 2008M1662 2004Q1687 2021 1706 2043M1643 1947Q1661 1963 1680 1978M1740 1869Q1760 1876 1781 1883M1607 1832Q1572 1830 1540 1820M1700 1820Q1699 1853 1701 1885M1726 2001Q1737 2004 1746 2010M1542 1894Q1508 1896 1475 1902M1799 2033Q1824 2031 1849 2036M1758 2021Q1770 2015 1784 2018M1524 1934Q1510 1956 1493 1978M1612 1953Q1610 1970 1614 1987M1859 2044Q1870 2041 1881 2043M1698 1981Q1712 1991 1729 1997M1765 2073Q1774 2103 1776 2134M1635 2018Q1645 2032 1655 2046M1744 1818Q1764 1840 1785 1861M1814 2022Q1842 2013 1871 2013M1507 1899Q1478 1907 1448 1903M1672 2039Q1682 2051 1685 2065M1525 1911Q1505 1928 1488 1949M1761 2007Q1783 1998 1804 1989M1599 1873Q1574 1882 1548 1887M1694 1809Q1675 1826 1653 1837M1550 1911Q1523 1930 1498 1951M1637 1819Q1623 1815 1611 1822M1601 1990Q1612 2014 1614 2040M1481 1822Q1467 1819 1455 1811M1713 2070Q1723 2099 1722 2130M1818 2090Q1824 2103 1835 2112M1657 2016Q1666 2039 1670 2063M1558 1951Q1542 1978 1535 2009M1694 1839Q1692 1853 1684 1866M1613 1881Q1599 1888 1592 1903M1724 1805Q1729 1836 1726 1868M1835 1895Q1847 1879 1864 1868M1579 1910Q1575 1926 1565 1940M1478 1938Q1464 1965 1446 1990M1840 1927Q1851 1916 1861 1905M1577 2020Q1569 2047 1572 2076M1718 2024Q1728 2038 1742 2047M1650 2087Q1644 2100 1642 2114M1693 2022Q1703 2028 1714 2035M1669 1795Q1643 1803 1617 1808M1679 2076Q1667 2100 1656 2124M1527 1990Q1527 2022 1532 2054M1864 1977Q1872 1969 1878 1959M1465 1953Q1464 1968 1454 1980M1528 1945Q1518 1969 1516 1994M1481 1907Q1454 1904 1429 1913M1656 1841Q1634 1844 1614 1856M1668 1872Q1672 1896 1681 1919M1759 1980Q1774 1976 1788 1968M1529 2063Q1521 2082 1519 2102M1521 1880Q1506 1878 1491 1874M1812 1946Q1829 1918 1851 1894M1692 2043Q1713 2067 1727 2096M1803 1961Q1822 1939 1838 1915M1769 2062Q1782 2074 1786 2092M1659 1819Q1638 1819 1618 1828M1471 2046Q1476 2058 1475 2071" stroke="#555552" stroke-width="1.1" fill="none" opacity="0.33" stroke-linecap="round"/>
<path d="M1724 2042Q1731 2051 1742 2057M1564 1920Q1545 1940 1524 1957M1791 1801Q1808 1807 1817 1822M1568 1986Q1572 1996 1571 2008M1716 1827Q1715 1858 1709 1888M1659 1866Q1652 1886 1647 1906M1683 1953Q1700 1960 1717 1968M1835 2030Q1856 2023 1878 2023M1543 1812Q1524 1803 1506 1794M1599 1850Q1577 1836 1553 1825M1774 1828Q1785 1835 1796 1841M1808 1852Q1842 1851 1874 1842M1567 1878Q1551 1884 1534 1888M1757 1888Q1788 1884 1819 1880M1675 1798Q1657 1798 1639 1802M1834 1819Q1849 1818 1863 1823M1672 1896Q1677 1908 1671 1921M1817 1972Q1818 1959 1829 1953M1615 1981Q1629 2012 1645 2041M1832 2090Q1841 2101 1850 2111M1627 1916Q1629 1928 1627 1940M1664 1973Q1673 1982 1684 1986M1852 1982Q1867 1973 1876 1958M1798 1960Q1817 1944 1840 1935M1608 1961Q1617 1993 1623 2026M1474 1855Q1448 1848 1423 1839M1609 2007Q1621 2030 1631 2054M1779 1894Q1811 1881 1846 1878M1780 2018Q1805 2009 1832 2002M1583 1818Q1559 1806 1533 1798M1621 1946Q1630 1979 1637 2013M1749 2026Q1762 2031 1774 2028M1476 1822Q1449 1817 1426 1804M1587 1982Q1595 1996 1596 2014M1720 1790Q1714 1821 1701 1849M1474 1836Q1456 1836 1441 1825M1678 1903Q1691 1925 1702 1949M1651 2047Q1656 2068 1654 2090M1555 1844Q1534 1834 1510 1830M1753 2038Q1785 2046 1816 2057M1565 2002Q1571 2020 1575 2039M1472 1907Q1451 1924 1435 1945M1733 2078Q1740 2104 1740 2132M1574 1875Q1547 1885 1518 1889M1477 1915Q1458 1945 1441 1975M1705 1979Q1716 1983 1725 1990M1629 1998Q1641 2010 1650 2025M1735 1827Q1736 1848 1744 1867M1746 2017Q1766 2021 1786 2022M1615 1811Q1603 1797 1585 1791M1735 1883Q1745 1890 1757 1893M1643 2051Q1637 2062 1642 2075M1795 1850Q1811 1848 1826 1850M1820 1934Q1838 1924 1848 1906M1715 1950Q1731 1955 1747 1957M1671 1816Q1640 1823 1609 1834M1812 2051Q1836 2077 1865 2096M1800 2078Q1817 2100 1839 2118M1473 1811Q1448 1811 1425 1804M1466 1937Q1459 1970 1442 1998M1462 1895Q1445 1895 1428 1900M1690 1926Q1709 1940 1731 1947M1544 2039Q1538 2062 1530 2085M1841 2021Q1858 2013 1868 1998M1486 1920Q1475 1932 1464 1944M1745 2002Q1762 1997 1778 1991M1629 1970Q1638 1986 1643 2004M1759 1967Q1776 1959 1795 1957M1566 2005Q1567 2034 1574 2062M1594 1918Q1586 1948 1571 1977M1789 1939Q1809 1918 1831 1899M1608 1984Q1605 2019 1608 2054M1760 1790Q1763 1803 1760 1816M1485 1953Q1475 1977 1473 2004M1816 1807Q1826 1817 1837 1824M1695 2013Q1716 2030 1740 2043M1533 2048Q1531 2078 1519 2106M1494 1894Q1468 1893 1443 1901M1677 1809Q1644 1816 1615 1832M1766 2037Q1788 2031 1810 2036M1668 1823Q1639 1842 1613 1866M1504 2068Q1494 2089 1487 2112M1545 1915Q1520 1937 1503 1966M1601 1852Q1568 1846 1534 1841M1650 1873Q1632 1901 1616 1929M1840 1858Q1859 1846 1878 1836M1782 1884Q1802 1880 1823 1883M1771 2067Q1795 2090 1814 2118M1551 2077Q1540 2099 1530 2123M1703 1901Q1732 1910 1760 1919M1638 1933Q1642 1952 1647 1971M1648 1831Q1623 1831 1598 1833M1747 2090Q1751 2101 1757 2111M1678 1962Q1695 1969 1712 1974M1557 1826Q1541 1813 1530 1797M1466 2055Q1473 2072 1476 2090M1692 1841Q1679 1867 1657 1885M1584 1938Q1585 1966 1577 1993M1830 1827Q1849 1826 1867 1827M1779 1821Q1804 1838 1831 1849M1653 2045Q1660 2072 1659 2100M1749 1820Q1760 1831 1762 1846M1620 1910Q1616 1939 1611 1968M1761 2008Q1790 1996 1817 1980M1847 1948Q1864 1920 1872 1888M1825 1872Q1845 1869 1859 1855M1774 1888Q1805 1873 1838 1868M1746 2065Q1756 2091 1763 2118M1761 1888Q1782 1887 1803 1894M1785 2012Q1809 2013 1832 2005M1718 1852Q1730 1867 1736 1885M1741 2086Q1747 2100 1752 2114M1534 1939Q1518 1955 1509 1976M1834 2044Q1861 2061 1890 2073M1676 2021Q1678 2041 1689 2058M1568 1851Q1537 1840 1506 1830M1651 1832Q1633 1847 1610 1853M1728 1807Q1726 1834 1718 1860M1586 1810Q1564 1804 1547 1788M1527 1852Q1507 1840 1495 1820M1521 1971Q1521 1997 1514 2022M1689 1823Q1684 1837 1674 1848M1752 1787Q1753 1809 1751 1832M1623 1830Q1608 1828 1592 1827M1678 2069Q1680 2099 1677 2128M1785 1809Q1801 1831 1824 1845M1579 1936Q1575 1961 1572 1986M1594 2080Q1573 2107 1544 2126M1761 1848Q1785 1863 1812 1873M1495 1841Q1481 1840 1469 1833M1767 1994Q1787 1977 1812 1968M1768 2087Q1776 2098 1774 2112M1704 1925Q1726 1935 1750 1935M1562 1896Q1539 1905 1515 1910M1679 1932Q1689 1943 1697 1956M1568 1911Q1544 1925 1518 1935M1684 2056Q1679 2083 1672 2109M1518 2041Q1505 2060 1503 2083M1451 2019Q1450 2039 1459 2058M1514 1891Q1492 1889 1471 1883M1751 2060Q1758 2093 1774 2123M1658 2037Q1664 2071 1673 2105M1584 1874Q1556 1876 1529 1875M1590 1937Q1585 1952 1586 1967M1654 1970Q1678 1989 1704 2007M1582 2042Q1575 2074 1563 2104M1488 1923Q1476 1931 1471 1943M1848 1975Q1853 1950 1868 1929M1702 1789Q1676 1810 1650 1831M1630 1839Q1598 1832 1569 1819M1482 1935Q1473 1966 1468 1998M1774 2001Q1789 1985 1811 1978M1757 2008Q1786 1995 1816 1981M1621 1964Q1632 1976 1633 1992M1592 2027Q1590 2045 1592 2063M1734 2053Q1759 2073 1779 2099M1846 1957Q1855 1942 1868 1930M1770 1824Q1778 1834 1784 1844M1514 1986Q1518 2000 1511 2013M1559 1818Q1531 1806 1504 1795M1676 1998Q1690 2013 1704 2027M1644 1892Q1645 1915 1644 1938M1801 2072Q1821 2089 1843 2102M1528 1932Q1518 1945 1508 1957M1744 2050Q1750 2060 1761 2064M1604 1998Q1615 2008 1615 2023M1764 2039Q1781 2057 1801 2072M1494 2063Q1489 2079 1484 2095M1497 1826Q1485 1816 1470 1813M1728 1882Q1752 1900 1781 1908M1767 1987Q1782 1982 1793 1971M1499 1905Q1471 1920 1439 1926M1601 1995Q1607 2012 1617 2027M1657 1837Q1627 1841 1597 1842M1817 1962Q1821 1950 1832 1945M1708 1859Q1710 1870 1714 1880M1505 2056Q1495 2090 1475 2120M1731 1832Q1735 1859 1744 1884M1654 1854Q1638 1867 1623 1879M1520 1935Q1518 1967 1506 1997M1838 2036Q1865 2019 1891 2002M1629 1826Q1605 1832 1580 1827M1745 2020Q1777 2015 1809 2013M1858 1938Q1867 1924 1879 1913M1492 1905Q1472 1912 1451 1912M1510 1996Q1502 2010 1503 2026M1622 1890Q1598 1911 1582 1939M1629 1837Q1607 1841 1585 1844M1636 2068Q1633 2091 1630 2114M1448 2037Q1450 2050 1459 2061M1491 2055Q1489 2069 1489 2083M1783 1996Q1801 1993 1819 1990M1689 1829Q1670 1846 1659 1869M1717 1995Q1737 2003 1758 2009M1800 1893Q1822 1888 1845 1883M1857 1973Q1866 1957 1870 1940M1615 1892Q1603 1907 1599 1926M1472 1859Q1445 1852 1417 1855M1733 1826Q1737 1843 1743 1860M1754 2048Q1770 2064 1784 2083M1840 2022Q1864 2004 1880 1978M1491 1940Q1480 1952 1472 1966M1583 2014Q1572 2042 1569 2072M1502 1933Q1499 1962 1484 1988M1830 2037Q1863 2041 1895 2046M1551 1953Q1547 1976 1540 1998M1726 1887Q1741 1898 1760 1900M1563 2025Q1560 2042 1564 2059M1526 1822Q1495 1812 1467 1796M1796 1826Q1825 1828 1854 1832M1691 1976Q1710 1977 1724 1989M1497 1850Q1473 1835 1445 1827M1770 1942Q1783 1934 1799 1931M1560 2063Q1552 2080 1553 2099M1476 1969Q1472 1984 1462 1997M1665 1840Q1637 1847 1614 1863M1681 1836Q1667 1866 1647 1893M1523 1875Q1497 1865 1474 1850M1593 1950Q1587 1980 1591 2010M1464 1944Q1449 1969 1437 1996M1744 2003Q1771 2002 1798 2008M1683 2062Q1679 2087 1668 2110M1643 1813Q1624 1802 1603 1796M1554 2032Q1540 2062 1534 2095M1654 1986Q1681 2001 1705 2019M1707 2070Q1704 2082 1708 2094M1800 1905Q1823 1889 1850 1880M1841 2067Q1855 2086 1872 2102M1481 1854Q1465 1843 1450 1831M1584 1847Q1565 1829 1543 1815M1467 1939Q1451 1958 1435 1976M1660 1947Q1680 1974 1704 1996M1851 2030Q1867 2026 1883 2028M1743 1818Q1750 1845 1760 1870M1718 1836Q1726 1866 1741 1892M1521 1905Q1486 1911 1453 1923M1538 2004Q1534 2020 1530 2036M1669 2007Q1684 2024 1704 2038M1773 2055Q1800 2073 1819 2099M1516 2019Q1511 2054 1506 2088M1557 2077Q1543 2100 1527 2120" stroke="#c8c8c3" stroke-width="1" fill="none" opacity="0.28" stroke-linecap="round"/>
</g>
<rect x="1466.2" y="1820.9" width="384.1" height="262.3" fill="none" stroke="#1c1c1c" stroke-width="5"/>
<circle cx="1395" cy="2030" r="2" fill="#d8391f"/>
<circle cx="1690" cy="1935" r="4.5" fill="#e03020"/><circle cx="1689" cy="1926" r="2.5" fill="#7a2a22"/>
<circle cx="1560" cy="2052" r="3.5" fill="#c8341e"/>
<path d="M1051.8 2109.3V2097.4H1111.1V2109.3" fill="none" stroke="#151515" stroke-width="4.8"/>
<text transform="translate(1039.98 2145.80) scale(1.0000 1.0400)" font-size="36.40" fill="#151515" stroke="#151515" stroke-width="0.6">0</text>
<text transform="translate(1081.11 2145.80) scale(0.9996 1.0400)" font-size="36.40" fill="#151515" stroke="#151515" stroke-width="0.6">300</text>
<text transform="translate(1151.22 2145.00) scale(0.970 1)" font-family="'DejaVu Serif', serif" font-size="32.70" fill="#151515">μ</text>
<text transform="translate(1169.40 2145.80) scale(1.0743 1.0400)" font-size="36.40" fill="#151515" stroke="#151515" stroke-width="0.6">m</text></svg>
</body></html>
